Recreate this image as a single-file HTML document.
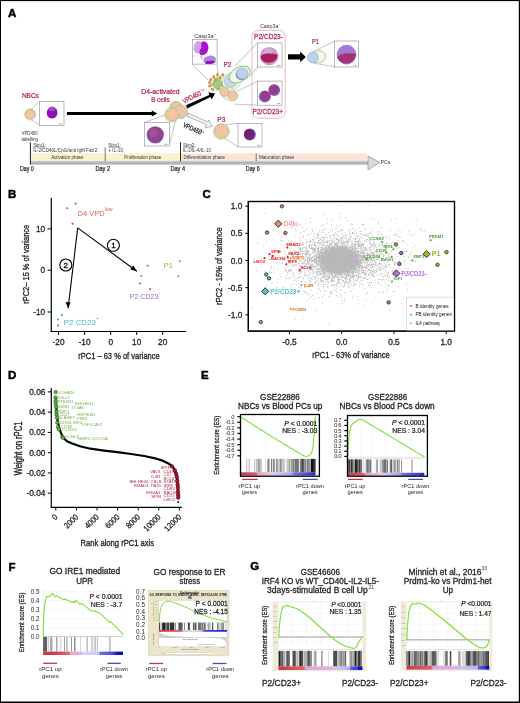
<!DOCTYPE html>
<html><head><meta charset="utf-8"><style>
html,body{margin:0;padding:0;background:#fff;}
svg{display:block;will-change:transform;}
text{font-family:"Liberation Sans", sans-serif;}
</style></head><body>
<svg width="520" height="703" viewBox="0 0 520 703">

<text x="8.00" y="17.00" font-size="11.5" fill="#000" font-weight="bold" stroke="#000" stroke-width="0.45">A</text>
<text x="8.00" y="198.30" font-size="11.5" fill="#000" font-weight="bold" stroke="#000" stroke-width="0.45">B</text>
<text x="202.50" y="198.30" font-size="11.5" fill="#000" font-weight="bold" stroke="#000" stroke-width="0.45">C</text>
<text x="8.00" y="378.70" font-size="11.5" fill="#000" font-weight="bold" stroke="#000" stroke-width="0.45">D</text>
<text x="201.00" y="378.70" font-size="11.5" fill="#000" font-weight="bold" stroke="#000" stroke-width="0.45">E</text>
<text x="8.50" y="570.50" font-size="11.5" fill="#000" font-weight="bold" stroke="#000" stroke-width="0.45">F</text>
<text x="250.20" y="570.00" font-size="11.5" fill="#000" font-weight="bold" stroke="#000" stroke-width="0.45">G</text>
<line x1="51.30" y1="197.70" x2="51.30" y2="332.10" stroke="#000" stroke-width="1.2"/>
<line x1="50.70" y1="331.50" x2="186.20" y2="331.50" stroke="#000" stroke-width="1.2"/>
<line x1="47.60" y1="228.90" x2="51.30" y2="228.90" stroke="#000" stroke-width="1"/>
<text x="45.20" y="231.90" font-size="8.3" fill="#231f20" stroke="#231f20" stroke-width="0.291" text-anchor="end">10</text>
<line x1="47.60" y1="270.20" x2="51.30" y2="270.20" stroke="#000" stroke-width="1"/>
<text x="45.20" y="273.20" font-size="8.3" fill="#231f20" stroke="#231f20" stroke-width="0.291" text-anchor="end">0</text>
<line x1="47.60" y1="312.00" x2="51.30" y2="312.00" stroke="#000" stroke-width="1"/>
<text x="45.20" y="315.00" font-size="8.3" fill="#231f20" stroke="#231f20" stroke-width="0.291" text-anchor="end">-10</text>
<line x1="58.50" y1="331.50" x2="58.50" y2="335.00" stroke="#000" stroke-width="1"/>
<text x="58.50" y="344.60" font-size="8.3" fill="#231f20" stroke="#231f20" stroke-width="0.291" text-anchor="middle">-20</text>
<line x1="84.60" y1="331.50" x2="84.60" y2="335.00" stroke="#000" stroke-width="1"/>
<text x="84.60" y="344.60" font-size="8.3" fill="#231f20" stroke="#231f20" stroke-width="0.291" text-anchor="middle">-10</text>
<line x1="110.70" y1="331.50" x2="110.70" y2="335.00" stroke="#000" stroke-width="1"/>
<text x="110.70" y="344.60" font-size="8.3" fill="#231f20" stroke="#231f20" stroke-width="0.291" text-anchor="middle">0</text>
<line x1="136.70" y1="331.50" x2="136.70" y2="335.00" stroke="#000" stroke-width="1"/>
<text x="136.70" y="344.60" font-size="8.3" fill="#231f20" stroke="#231f20" stroke-width="0.291" text-anchor="middle">10</text>
<line x1="162.70" y1="331.50" x2="162.70" y2="335.00" stroke="#000" stroke-width="1"/>
<text x="162.70" y="344.60" font-size="8.3" fill="#231f20" stroke="#231f20" stroke-width="0.291" text-anchor="middle">20</text>
<text x="78.20" y="358.50" font-size="9.4" fill="#231f20" stroke="#231f20" stroke-width="0.329" textLength="81.50" lengthAdjust="spacingAndGlyphs">rPC1 – 63 % of variance</text>
<text x="28.90" y="303.80" font-size="9.2" fill="#231f20" stroke="#231f20" stroke-width="0.322" textLength="79.00" lengthAdjust="spacingAndGlyphs" transform="rotate(-90 28.90 303.80)">rPC2– 15 % of variance</text>
<circle cx="67.30" cy="208.30" r="1.05" fill="#d04848" stroke="none" stroke-width="1"/>
<circle cx="75.60" cy="203.60" r="1.05" fill="#d04848" stroke="none" stroke-width="1"/>
<circle cx="72.50" cy="223.80" r="1.05" fill="#d04848" stroke="none" stroke-width="1"/>
<circle cx="147.70" cy="265.80" r="1.05" fill="#9b59b6" stroke="none" stroke-width="1"/>
<circle cx="140.00" cy="283.50" r="1.05" fill="#9b59b6" stroke="none" stroke-width="1"/>
<circle cx="150.00" cy="289.00" r="1.05" fill="#9b59b6" stroke="none" stroke-width="1"/>
<circle cx="141.30" cy="275.80" r="1.05" fill="#7ea829" stroke="none" stroke-width="1"/>
<circle cx="179.80" cy="261.20" r="1.05" fill="#7ea829" stroke="none" stroke-width="1"/>
<circle cx="178.30" cy="276.20" r="1.05" fill="#7ea829" stroke="none" stroke-width="1"/>
<circle cx="61.80" cy="314.90" r="1.05" fill="#3aa6b0" stroke="none" stroke-width="1"/>
<circle cx="58.00" cy="319.50" r="1.05" fill="#3aa6b0" stroke="none" stroke-width="1"/>
<circle cx="58.00" cy="325.40" r="1.05" fill="#3aa6b0" stroke="none" stroke-width="1"/>
<text x="77.70" y="216.00" font-size="8.0" fill="#d86060" textLength="26.90" lengthAdjust="spacingAndGlyphs">D4 VPD</text>
<text x="104.80" y="211.20" font-size="5.2" fill="#d86060">low</text>
<text x="163.80" y="267.50" font-size="8.0" fill="#94b848" textLength="8.90" lengthAdjust="spacingAndGlyphs">P1</text>
<text x="129.80" y="298.60" font-size="8.0" fill="#9b6bbf" textLength="28.50" lengthAdjust="spacingAndGlyphs">P2 CD23</text>
<text x="158.50" y="294.50" font-size="5" fill="#9b6bbf">-</text>
<text x="63.80" y="324.60" font-size="8.0" fill="#4fb3bd" textLength="32.00" lengthAdjust="spacingAndGlyphs">P2 CD23</text>
<text x="96.00" y="320.00" font-size="5" fill="#4fb3bd">+</text>
<line x1="77.70" y1="227.90" x2="136.90" y2="271.30" stroke="#000" stroke-width="1.1"/>
<path d="M136.9,271.3 L130.3,269.6 L133.2,265.6 Z" fill="#000" stroke="none" stroke-width="1"/>
<line x1="77.70" y1="227.90" x2="68.10" y2="308.30" stroke="#000" stroke-width="1.1"/>
<path d="M68.1,308.3 L65.6,301.9 L70.5,302.5 Z" fill="#000" stroke="none" stroke-width="1"/>
<circle cx="113.40" cy="245.30" r="6.00" fill="#fff" stroke="#000" stroke-width="1.1"/>
<text x="113.40" y="248.30" font-size="8" fill="#000" stroke="#000" stroke-width="0.280" text-anchor="middle">1</text>
<circle cx="65.80" cy="265.00" r="6.00" fill="#fff" stroke="#000" stroke-width="1.1"/>
<text x="65.80" y="268.00" font-size="8" fill="#000" stroke="#000" stroke-width="0.280" text-anchor="middle">2</text>
<defs><radialGradient id="core"><stop offset="0" stop-color="#bebebe"/><stop offset="0.72" stop-color="#c0c0c0"/><stop offset="1" stop-color="#c6c6c6" stop-opacity="0"/></radialGradient></defs>
<ellipse cx="339.50" cy="260.20" rx="25.00" ry="16.50" fill="url(#core)" stroke="none" stroke-width="1" transform="rotate(0 339.50 260.20)"/>
<path fill="#b6b6b6" d="M317.5 264.0h.9v.9h-.9zM357.4 254.6h.9v.9h-.9zM315.6 259.3h.9v.9h-.9zM348.1 271.5h.9v.9h-.9zM317.6 246.4h.9v.9h-.9zM352.2 265.0h.9v.9h-.9zM367.1 270.3h.9v.9h-.9zM337.7 257.1h.9v.9h-.9zM385.8 257.0h.9v.9h-.9zM325.4 248.0h.9v.9h-.9zM341.2 261.5h.9v.9h-.9zM333.3 259.3h.9v.9h-.9zM344.4 267.3h.9v.9h-.9zM359.2 262.2h.9v.9h-.9zM307.3 267.4h.9v.9h-.9zM313.9 258.2h.9v.9h-.9zM313.0 260.0h.9v.9h-.9zM325.5 262.2h.9v.9h-.9zM398.9 259.5h.9v.9h-.9zM354.7 246.1h.9v.9h-.9zM334.3 267.0h.9v.9h-.9zM337.8 263.9h.9v.9h-.9zM341.4 249.4h.9v.9h-.9zM349.6 251.5h.9v.9h-.9zM373.2 254.7h.9v.9h-.9zM351.8 260.0h.9v.9h-.9zM356.6 253.7h.9v.9h-.9zM357.5 258.7h.9v.9h-.9zM362.2 266.6h.9v.9h-.9zM342.0 251.8h.9v.9h-.9zM353.3 264.9h.9v.9h-.9zM369.1 256.0h.9v.9h-.9zM349.5 265.3h.9v.9h-.9zM344.6 262.2h.9v.9h-.9zM342.8 253.7h.9v.9h-.9zM321.2 255.8h.9v.9h-.9zM350.1 275.9h.9v.9h-.9zM357.1 271.1h.9v.9h-.9zM353.5 267.3h.9v.9h-.9zM342.8 268.1h.9v.9h-.9zM371.4 256.6h.9v.9h-.9zM327.0 280.6h.9v.9h-.9zM343.9 270.2h.9v.9h-.9zM355.2 248.1h.9v.9h-.9zM383.3 278.6h.9v.9h-.9zM342.7 267.9h.9v.9h-.9zM341.8 250.7h.9v.9h-.9zM337.5 263.9h.9v.9h-.9zM359.6 267.4h.9v.9h-.9zM340.6 274.2h.9v.9h-.9zM325.8 268.3h.9v.9h-.9zM359.5 256.9h.9v.9h-.9zM307.3 250.5h.9v.9h-.9zM343.8 265.5h.9v.9h-.9zM367.4 249.5h.9v.9h-.9zM339.5 266.8h.9v.9h-.9zM336.7 235.1h.9v.9h-.9zM354.0 284.3h.9v.9h-.9zM357.6 250.4h.9v.9h-.9zM332.1 262.3h.9v.9h-.9zM384.3 266.5h.9v.9h-.9zM341.5 276.4h.9v.9h-.9zM338.0 279.5h.9v.9h-.9zM327.2 255.0h.9v.9h-.9zM352.5 275.0h.9v.9h-.9zM351.3 263.2h.9v.9h-.9zM306.7 252.5h.9v.9h-.9zM328.5 254.4h.9v.9h-.9zM350.1 256.5h.9v.9h-.9zM353.7 260.9h.9v.9h-.9zM333.5 261.2h.9v.9h-.9zM347.2 269.0h.9v.9h-.9zM330.9 257.6h.9v.9h-.9zM315.0 276.8h.9v.9h-.9zM365.6 258.1h.9v.9h-.9zM330.9 247.0h.9v.9h-.9zM342.6 262.2h.9v.9h-.9zM378.8 262.6h.9v.9h-.9zM325.5 234.3h.9v.9h-.9zM364.9 262.0h.9v.9h-.9zM310.5 261.9h.9v.9h-.9zM310.5 296.5h.9v.9h-.9zM359.6 266.0h.9v.9h-.9zM336.3 237.5h.9v.9h-.9zM337.2 243.7h.9v.9h-.9zM350.2 237.5h.9v.9h-.9zM323.2 272.8h.9v.9h-.9zM369.1 247.6h.9v.9h-.9zM311.9 269.2h.9v.9h-.9zM354.9 249.6h.9v.9h-.9zM327.0 252.7h.9v.9h-.9zM318.1 252.9h.9v.9h-.9zM362.0 267.2h.9v.9h-.9zM376.5 259.1h.9v.9h-.9zM337.1 249.7h.9v.9h-.9zM337.3 246.2h.9v.9h-.9zM307.5 267.3h.9v.9h-.9zM365.4 268.8h.9v.9h-.9zM363.5 262.6h.9v.9h-.9zM326.6 260.9h.9v.9h-.9zM332.8 248.3h.9v.9h-.9zM309.0 244.4h.9v.9h-.9zM339.4 261.6h.9v.9h-.9zM331.0 275.0h.9v.9h-.9zM342.7 266.1h.9v.9h-.9zM361.4 251.4h.9v.9h-.9zM304.0 267.9h.9v.9h-.9zM327.1 273.8h.9v.9h-.9zM345.6 270.6h.9v.9h-.9zM353.2 238.2h.9v.9h-.9zM352.4 252.9h.9v.9h-.9zM325.9 255.4h.9v.9h-.9zM353.3 269.3h.9v.9h-.9zM357.7 242.6h.9v.9h-.9zM328.9 235.1h.9v.9h-.9zM337.7 266.3h.9v.9h-.9zM325.7 262.6h.9v.9h-.9zM343.7 270.6h.9v.9h-.9zM324.7 251.3h.9v.9h-.9zM325.8 278.4h.9v.9h-.9zM359.1 258.7h.9v.9h-.9zM343.6 261.2h.9v.9h-.9zM343.2 257.8h.9v.9h-.9zM333.5 246.8h.9v.9h-.9zM327.9 277.3h.9v.9h-.9zM349.2 260.7h.9v.9h-.9zM335.6 260.7h.9v.9h-.9zM345.9 253.2h.9v.9h-.9zM343.0 262.5h.9v.9h-.9zM326.0 251.7h.9v.9h-.9zM321.5 248.8h.9v.9h-.9zM355.5 235.2h.9v.9h-.9zM334.7 253.6h.9v.9h-.9zM328.3 261.0h.9v.9h-.9zM359.8 260.8h.9v.9h-.9zM337.0 253.6h.9v.9h-.9zM337.2 269.6h.9v.9h-.9zM332.4 248.0h.9v.9h-.9zM316.7 248.4h.9v.9h-.9zM314.5 271.5h.9v.9h-.9zM345.9 257.5h.9v.9h-.9zM365.8 253.1h.9v.9h-.9zM353.1 268.4h.9v.9h-.9zM311.7 243.7h.9v.9h-.9zM322.8 269.5h.9v.9h-.9zM362.8 247.1h.9v.9h-.9zM358.4 256.0h.9v.9h-.9zM332.4 254.2h.9v.9h-.9zM333.7 240.9h.9v.9h-.9zM321.5 247.0h.9v.9h-.9zM348.3 281.9h.9v.9h-.9zM388.7 256.5h.9v.9h-.9zM308.5 255.7h.9v.9h-.9zM322.6 280.8h.9v.9h-.9zM349.8 252.3h.9v.9h-.9zM356.3 265.6h.9v.9h-.9zM310.2 254.4h.9v.9h-.9zM335.2 260.2h.9v.9h-.9zM341.9 256.4h.9v.9h-.9zM342.9 253.8h.9v.9h-.9zM323.4 275.9h.9v.9h-.9zM346.0 264.6h.9v.9h-.9zM310.8 258.3h.9v.9h-.9zM354.2 246.4h.9v.9h-.9zM359.3 255.9h.9v.9h-.9zM346.7 258.6h.9v.9h-.9zM343.4 272.6h.9v.9h-.9zM332.2 276.4h.9v.9h-.9zM325.4 250.2h.9v.9h-.9zM352.3 248.8h.9v.9h-.9zM332.8 269.5h.9v.9h-.9zM361.3 241.4h.9v.9h-.9zM348.6 279.8h.9v.9h-.9zM361.0 257.5h.9v.9h-.9zM328.7 256.9h.9v.9h-.9zM318.7 257.2h.9v.9h-.9zM336.1 258.5h.9v.9h-.9zM360.8 257.6h.9v.9h-.9zM313.3 271.0h.9v.9h-.9zM320.2 255.3h.9v.9h-.9zM337.1 256.4h.9v.9h-.9zM321.4 257.4h.9v.9h-.9zM378.8 253.6h.9v.9h-.9zM337.0 271.8h.9v.9h-.9zM352.9 268.0h.9v.9h-.9zM355.0 239.3h.9v.9h-.9zM323.9 261.3h.9v.9h-.9zM348.5 273.6h.9v.9h-.9zM348.0 257.5h.9v.9h-.9zM340.2 257.8h.9v.9h-.9zM343.9 267.1h.9v.9h-.9zM333.4 251.5h.9v.9h-.9zM324.1 271.5h.9v.9h-.9zM362.6 270.4h.9v.9h-.9zM354.9 268.7h.9v.9h-.9zM339.5 267.0h.9v.9h-.9zM320.6 257.9h.9v.9h-.9zM326.3 267.6h.9v.9h-.9zM329.1 258.9h.9v.9h-.9zM346.7 274.2h.9v.9h-.9zM325.2 250.1h.9v.9h-.9zM354.2 248.4h.9v.9h-.9zM347.6 254.0h.9v.9h-.9zM337.6 240.9h.9v.9h-.9zM352.3 254.7h.9v.9h-.9zM323.3 281.8h.9v.9h-.9zM352.3 296.8h.9v.9h-.9zM346.8 256.3h.9v.9h-.9zM341.4 276.9h.9v.9h-.9zM339.0 264.7h.9v.9h-.9zM348.8 250.4h.9v.9h-.9zM341.8 254.7h.9v.9h-.9zM317.1 269.2h.9v.9h-.9zM351.5 260.8h.9v.9h-.9zM323.2 238.9h.9v.9h-.9zM348.2 259.0h.9v.9h-.9zM309.2 259.4h.9v.9h-.9zM312.1 259.7h.9v.9h-.9zM342.1 263.7h.9v.9h-.9zM343.4 261.8h.9v.9h-.9zM319.0 256.0h.9v.9h-.9zM330.3 257.5h.9v.9h-.9zM344.4 266.5h.9v.9h-.9zM368.9 233.0h.9v.9h-.9zM346.7 257.9h.9v.9h-.9zM380.5 269.8h.9v.9h-.9zM309.7 264.2h.9v.9h-.9zM330.1 270.4h.9v.9h-.9zM320.5 258.9h.9v.9h-.9zM337.1 259.0h.9v.9h-.9zM329.0 240.7h.9v.9h-.9zM347.8 270.5h.9v.9h-.9zM338.3 249.3h.9v.9h-.9zM343.2 265.9h.9v.9h-.9zM336.3 259.9h.9v.9h-.9zM364.9 248.3h.9v.9h-.9zM329.5 240.0h.9v.9h-.9zM326.9 252.2h.9v.9h-.9zM322.2 252.7h.9v.9h-.9zM371.8 257.9h.9v.9h-.9zM337.4 283.1h.9v.9h-.9zM338.4 241.8h.9v.9h-.9zM346.8 250.2h.9v.9h-.9zM369.0 246.9h.9v.9h-.9zM329.1 243.1h.9v.9h-.9zM341.3 249.3h.9v.9h-.9zM338.3 256.0h.9v.9h-.9zM328.5 269.9h.9v.9h-.9zM356.3 260.7h.9v.9h-.9zM323.3 248.8h.9v.9h-.9zM344.4 285.1h.9v.9h-.9zM331.3 251.8h.9v.9h-.9zM326.9 248.5h.9v.9h-.9zM322.0 257.8h.9v.9h-.9zM365.3 260.0h.9v.9h-.9zM330.3 243.0h.9v.9h-.9zM343.3 259.7h.9v.9h-.9zM317.4 248.6h.9v.9h-.9zM338.7 270.6h.9v.9h-.9zM350.8 262.2h.9v.9h-.9zM333.7 263.4h.9v.9h-.9zM339.3 282.8h.9v.9h-.9zM319.1 256.1h.9v.9h-.9zM362.3 257.2h.9v.9h-.9zM365.1 259.5h.9v.9h-.9zM342.1 256.1h.9v.9h-.9zM314.7 249.8h.9v.9h-.9zM379.4 266.8h.9v.9h-.9zM350.4 270.0h.9v.9h-.9zM349.7 270.7h.9v.9h-.9zM334.7 257.7h.9v.9h-.9zM357.2 256.3h.9v.9h-.9zM315.5 257.6h.9v.9h-.9zM329.7 266.4h.9v.9h-.9zM326.5 248.9h.9v.9h-.9zM333.5 276.3h.9v.9h-.9zM338.6 261.7h.9v.9h-.9zM339.7 263.1h.9v.9h-.9zM356.2 274.7h.9v.9h-.9zM309.9 274.3h.9v.9h-.9zM339.4 256.6h.9v.9h-.9zM382.7 258.2h.9v.9h-.9zM374.5 270.2h.9v.9h-.9zM321.0 265.1h.9v.9h-.9zM352.8 258.7h.9v.9h-.9zM297.6 256.4h.9v.9h-.9zM336.1 248.4h.9v.9h-.9zM372.4 257.4h.9v.9h-.9zM332.4 256.9h.9v.9h-.9zM325.4 251.8h.9v.9h-.9zM341.2 263.3h.9v.9h-.9zM330.4 259.0h.9v.9h-.9zM314.5 265.5h.9v.9h-.9zM326.0 262.3h.9v.9h-.9zM323.2 254.6h.9v.9h-.9zM343.4 247.3h.9v.9h-.9zM384.0 259.6h.9v.9h-.9zM338.2 252.3h.9v.9h-.9zM368.2 274.6h.9v.9h-.9zM344.9 245.6h.9v.9h-.9zM330.4 266.5h.9v.9h-.9zM330.3 247.6h.9v.9h-.9zM318.1 251.9h.9v.9h-.9zM339.7 253.2h.9v.9h-.9zM339.8 289.3h.9v.9h-.9zM371.4 249.1h.9v.9h-.9zM345.7 260.9h.9v.9h-.9zM337.0 271.0h.9v.9h-.9zM333.5 256.6h.9v.9h-.9zM332.8 258.9h.9v.9h-.9zM362.6 268.2h.9v.9h-.9zM315.4 255.4h.9v.9h-.9zM325.1 268.6h.9v.9h-.9zM343.5 269.3h.9v.9h-.9zM338.4 240.0h.9v.9h-.9zM347.6 262.4h.9v.9h-.9zM348.6 246.3h.9v.9h-.9zM341.0 252.8h.9v.9h-.9zM327.1 263.7h.9v.9h-.9zM345.8 250.6h.9v.9h-.9zM308.7 234.0h.9v.9h-.9zM329.1 271.8h.9v.9h-.9zM338.5 236.4h.9v.9h-.9zM324.0 264.4h.9v.9h-.9zM369.6 272.3h.9v.9h-.9zM346.1 262.1h.9v.9h-.9zM320.4 255.3h.9v.9h-.9zM333.5 251.9h.9v.9h-.9zM340.6 255.9h.9v.9h-.9zM345.6 275.1h.9v.9h-.9zM352.8 264.4h.9v.9h-.9zM335.2 244.0h.9v.9h-.9zM337.4 265.7h.9v.9h-.9zM321.3 273.2h.9v.9h-.9zM333.5 263.9h.9v.9h-.9zM333.6 246.8h.9v.9h-.9zM376.7 247.8h.9v.9h-.9zM356.0 254.2h.9v.9h-.9zM344.5 251.5h.9v.9h-.9zM332.0 269.7h.9v.9h-.9zM374.5 251.1h.9v.9h-.9zM339.7 269.9h.9v.9h-.9zM328.1 267.5h.9v.9h-.9zM325.4 266.3h.9v.9h-.9zM347.4 272.7h.9v.9h-.9zM346.0 247.5h.9v.9h-.9zM351.5 248.4h.9v.9h-.9zM353.0 275.9h.9v.9h-.9zM350.2 254.2h.9v.9h-.9zM361.0 261.8h.9v.9h-.9zM317.1 256.3h.9v.9h-.9zM365.0 256.8h.9v.9h-.9zM341.7 256.4h.9v.9h-.9zM309.2 254.6h.9v.9h-.9zM345.9 262.2h.9v.9h-.9zM336.4 237.6h.9v.9h-.9zM361.5 267.6h.9v.9h-.9zM357.9 273.7h.9v.9h-.9zM331.5 253.7h.9v.9h-.9zM345.2 277.6h.9v.9h-.9zM309.2 257.6h.9v.9h-.9zM326.6 265.9h.9v.9h-.9zM365.9 256.9h.9v.9h-.9zM317.2 260.5h.9v.9h-.9zM334.4 243.8h.9v.9h-.9zM355.4 254.5h.9v.9h-.9zM351.8 246.2h.9v.9h-.9zM359.2 244.9h.9v.9h-.9zM358.5 241.0h.9v.9h-.9zM364.3 256.1h.9v.9h-.9zM311.5 257.5h.9v.9h-.9zM345.6 249.6h.9v.9h-.9zM330.6 262.8h.9v.9h-.9zM336.5 227.8h.9v.9h-.9zM331.8 264.5h.9v.9h-.9zM344.9 270.6h.9v.9h-.9zM327.1 286.8h.9v.9h-.9zM353.9 263.3h.9v.9h-.9zM359.0 270.0h.9v.9h-.9zM341.3 253.5h.9v.9h-.9zM357.9 264.4h.9v.9h-.9zM305.4 248.4h.9v.9h-.9zM347.9 261.1h.9v.9h-.9zM344.5 266.7h.9v.9h-.9zM342.1 276.6h.9v.9h-.9zM328.9 255.8h.9v.9h-.9zM345.3 267.8h.9v.9h-.9zM353.7 275.6h.9v.9h-.9zM330.9 272.3h.9v.9h-.9zM347.9 249.1h.9v.9h-.9zM337.0 281.9h.9v.9h-.9zM353.6 255.1h.9v.9h-.9zM296.3 252.3h.9v.9h-.9zM326.9 260.8h.9v.9h-.9zM381.1 267.8h.9v.9h-.9zM345.1 250.2h.9v.9h-.9zM318.1 257.8h.9v.9h-.9zM331.1 291.6h.9v.9h-.9zM332.2 253.5h.9v.9h-.9zM359.8 260.8h.9v.9h-.9zM317.3 273.5h.9v.9h-.9zM333.9 246.0h.9v.9h-.9zM345.3 265.1h.9v.9h-.9zM333.4 267.3h.9v.9h-.9zM354.3 250.7h.9v.9h-.9zM302.5 234.9h.9v.9h-.9zM337.2 272.9h.9v.9h-.9zM357.5 274.6h.9v.9h-.9zM372.9 260.2h.9v.9h-.9zM358.5 243.9h.9v.9h-.9zM351.9 264.1h.9v.9h-.9zM337.8 255.4h.9v.9h-.9zM319.4 261.5h.9v.9h-.9zM362.5 256.1h.9v.9h-.9zM349.1 253.0h.9v.9h-.9zM344.1 249.4h.9v.9h-.9zM346.3 257.7h.9v.9h-.9zM345.2 253.6h.9v.9h-.9zM318.3 256.5h.9v.9h-.9zM358.2 276.6h.9v.9h-.9zM333.7 268.4h.9v.9h-.9zM353.2 264.1h.9v.9h-.9zM311.6 263.4h.9v.9h-.9zM322.0 272.4h.9v.9h-.9zM353.7 266.5h.9v.9h-.9zM293.9 266.5h.9v.9h-.9zM352.1 246.6h.9v.9h-.9zM357.0 260.8h.9v.9h-.9zM336.2 252.5h.9v.9h-.9zM321.2 255.4h.9v.9h-.9zM395.0 262.1h.9v.9h-.9zM343.2 253.2h.9v.9h-.9zM328.4 254.2h.9v.9h-.9zM323.5 269.2h.9v.9h-.9zM334.6 269.1h.9v.9h-.9zM318.7 269.8h.9v.9h-.9zM339.0 267.0h.9v.9h-.9zM337.6 250.7h.9v.9h-.9zM361.3 255.4h.9v.9h-.9zM336.9 250.7h.9v.9h-.9zM343.2 255.9h.9v.9h-.9zM344.6 263.6h.9v.9h-.9zM327.1 245.2h.9v.9h-.9zM347.3 269.6h.9v.9h-.9zM352.0 248.0h.9v.9h-.9zM350.4 264.0h.9v.9h-.9zM344.6 264.5h.9v.9h-.9zM333.7 262.3h.9v.9h-.9zM356.2 254.7h.9v.9h-.9zM313.6 258.9h.9v.9h-.9zM343.0 240.6h.9v.9h-.9zM327.3 266.2h.9v.9h-.9zM336.8 261.0h.9v.9h-.9zM316.8 269.5h.9v.9h-.9zM371.1 257.9h.9v.9h-.9zM326.3 247.8h.9v.9h-.9zM355.5 261.1h.9v.9h-.9zM325.2 272.7h.9v.9h-.9zM353.3 266.3h.9v.9h-.9zM307.8 258.9h.9v.9h-.9zM350.8 247.1h.9v.9h-.9zM356.2 275.0h.9v.9h-.9zM358.1 252.4h.9v.9h-.9zM326.8 269.9h.9v.9h-.9zM357.4 272.9h.9v.9h-.9zM361.1 259.0h.9v.9h-.9zM332.1 240.5h.9v.9h-.9zM353.6 283.9h.9v.9h-.9zM331.2 255.0h.9v.9h-.9zM351.2 263.9h.9v.9h-.9zM314.8 252.5h.9v.9h-.9zM319.7 281.2h.9v.9h-.9zM326.6 269.0h.9v.9h-.9zM374.0 279.9h.9v.9h-.9zM365.2 277.1h.9v.9h-.9zM317.3 256.4h.9v.9h-.9zM326.4 257.0h.9v.9h-.9zM386.7 242.4h.9v.9h-.9zM349.5 247.0h.9v.9h-.9zM363.6 273.6h.9v.9h-.9zM330.3 281.7h.9v.9h-.9zM340.8 273.7h.9v.9h-.9zM345.1 254.1h.9v.9h-.9zM332.7 258.8h.9v.9h-.9zM350.6 261.3h.9v.9h-.9zM382.0 258.0h.9v.9h-.9zM331.1 252.4h.9v.9h-.9zM325.5 244.9h.9v.9h-.9zM321.8 269.5h.9v.9h-.9zM340.6 258.2h.9v.9h-.9zM345.8 271.2h.9v.9h-.9zM350.6 268.1h.9v.9h-.9zM329.4 257.3h.9v.9h-.9zM325.5 259.0h.9v.9h-.9zM324.8 256.1h.9v.9h-.9zM336.4 257.7h.9v.9h-.9zM334.7 254.8h.9v.9h-.9zM363.1 256.4h.9v.9h-.9zM321.3 262.0h.9v.9h-.9zM319.9 248.7h.9v.9h-.9zM341.0 242.5h.9v.9h-.9zM281.5 263.0h.9v.9h-.9zM358.1 242.5h.9v.9h-.9zM323.3 266.1h.9v.9h-.9zM303.7 250.8h.9v.9h-.9zM317.8 257.9h.9v.9h-.9zM304.0 269.4h.9v.9h-.9zM336.9 263.2h.9v.9h-.9zM333.6 237.7h.9v.9h-.9zM336.8 245.9h.9v.9h-.9zM339.7 251.0h.9v.9h-.9zM333.8 257.8h.9v.9h-.9zM353.4 268.1h.9v.9h-.9zM321.4 259.8h.9v.9h-.9zM365.8 265.2h.9v.9h-.9zM326.4 258.7h.9v.9h-.9zM333.2 269.9h.9v.9h-.9zM340.1 263.9h.9v.9h-.9zM379.3 245.5h.9v.9h-.9zM321.2 241.8h.9v.9h-.9zM310.8 269.0h.9v.9h-.9zM344.8 277.1h.9v.9h-.9zM304.0 250.7h.9v.9h-.9zM365.5 270.8h.9v.9h-.9zM355.4 269.2h.9v.9h-.9zM340.1 259.9h.9v.9h-.9zM340.1 268.8h.9v.9h-.9zM336.6 263.4h.9v.9h-.9zM365.7 248.2h.9v.9h-.9zM326.0 265.9h.9v.9h-.9zM334.8 258.4h.9v.9h-.9zM377.3 264.4h.9v.9h-.9zM332.0 271.5h.9v.9h-.9zM384.8 248.4h.9v.9h-.9zM327.4 261.2h.9v.9h-.9zM328.1 282.8h.9v.9h-.9zM349.0 255.8h.9v.9h-.9zM348.3 251.6h.9v.9h-.9zM328.6 261.1h.9v.9h-.9zM382.5 236.4h.9v.9h-.9zM347.1 274.2h.9v.9h-.9zM352.8 280.2h.9v.9h-.9zM347.6 261.5h.9v.9h-.9zM337.1 251.0h.9v.9h-.9zM368.9 247.6h.9v.9h-.9zM337.3 254.5h.9v.9h-.9zM325.4 236.7h.9v.9h-.9zM332.6 261.4h.9v.9h-.9zM342.1 268.9h.9v.9h-.9zM336.6 253.3h.9v.9h-.9zM345.0 267.0h.9v.9h-.9zM323.2 244.0h.9v.9h-.9zM321.0 271.1h.9v.9h-.9zM357.5 250.7h.9v.9h-.9zM341.5 268.8h.9v.9h-.9zM363.4 253.1h.9v.9h-.9zM335.2 274.8h.9v.9h-.9zM382.9 276.1h.9v.9h-.9zM319.0 264.7h.9v.9h-.9zM334.1 259.4h.9v.9h-.9zM327.6 255.0h.9v.9h-.9zM339.3 278.9h.9v.9h-.9zM352.1 264.5h.9v.9h-.9zM340.0 252.1h.9v.9h-.9zM335.4 273.0h.9v.9h-.9zM354.4 280.6h.9v.9h-.9zM344.2 259.8h.9v.9h-.9zM310.4 264.2h.9v.9h-.9zM308.5 276.0h.9v.9h-.9zM328.2 260.0h.9v.9h-.9zM315.2 254.8h.9v.9h-.9zM322.7 271.9h.9v.9h-.9zM344.0 247.6h.9v.9h-.9zM304.7 259.3h.9v.9h-.9zM330.7 248.3h.9v.9h-.9zM350.1 258.1h.9v.9h-.9zM341.5 253.8h.9v.9h-.9zM329.2 255.2h.9v.9h-.9zM310.6 266.6h.9v.9h-.9zM346.8 241.9h.9v.9h-.9zM341.3 272.1h.9v.9h-.9zM343.8 273.6h.9v.9h-.9zM334.7 260.0h.9v.9h-.9zM316.1 250.5h.9v.9h-.9zM306.7 250.6h.9v.9h-.9zM343.9 265.5h.9v.9h-.9zM360.4 261.4h.9v.9h-.9zM321.7 264.5h.9v.9h-.9zM336.9 278.7h.9v.9h-.9zM374.8 270.1h.9v.9h-.9zM319.0 254.5h.9v.9h-.9zM342.9 252.5h.9v.9h-.9zM348.9 267.2h.9v.9h-.9zM354.6 262.4h.9v.9h-.9zM323.6 251.2h.9v.9h-.9zM337.3 273.9h.9v.9h-.9zM367.8 270.3h.9v.9h-.9zM346.0 267.1h.9v.9h-.9zM354.3 273.6h.9v.9h-.9zM354.9 243.9h.9v.9h-.9zM356.7 264.0h.9v.9h-.9zM331.2 265.5h.9v.9h-.9zM344.7 259.4h.9v.9h-.9zM309.1 261.2h.9v.9h-.9zM349.5 259.5h.9v.9h-.9zM310.9 264.8h.9v.9h-.9zM352.5 261.9h.9v.9h-.9zM347.2 256.3h.9v.9h-.9zM327.7 265.5h.9v.9h-.9zM333.1 261.9h.9v.9h-.9zM398.1 267.5h.9v.9h-.9zM341.9 243.0h.9v.9h-.9zM341.2 268.0h.9v.9h-.9zM326.8 257.5h.9v.9h-.9zM298.9 265.8h.9v.9h-.9zM328.8 267.2h.9v.9h-.9zM364.1 258.3h.9v.9h-.9zM357.2 262.6h.9v.9h-.9zM335.8 257.1h.9v.9h-.9zM324.2 273.5h.9v.9h-.9zM355.3 249.4h.9v.9h-.9zM354.7 252.3h.9v.9h-.9zM312.4 272.6h.9v.9h-.9zM316.5 272.4h.9v.9h-.9zM343.1 269.5h.9v.9h-.9zM348.7 272.1h.9v.9h-.9zM345.8 266.1h.9v.9h-.9zM344.0 271.5h.9v.9h-.9zM332.5 270.7h.9v.9h-.9zM366.6 259.3h.9v.9h-.9zM347.4 254.6h.9v.9h-.9zM334.3 262.7h.9v.9h-.9zM333.3 250.7h.9v.9h-.9zM339.0 262.0h.9v.9h-.9zM345.3 267.5h.9v.9h-.9zM307.6 274.8h.9v.9h-.9zM336.4 251.9h.9v.9h-.9zM332.8 264.6h.9v.9h-.9zM355.2 256.2h.9v.9h-.9zM342.3 243.2h.9v.9h-.9zM342.5 258.8h.9v.9h-.9zM331.7 269.3h.9v.9h-.9zM371.8 270.8h.9v.9h-.9zM325.4 276.0h.9v.9h-.9zM333.5 259.6h.9v.9h-.9zM329.1 264.8h.9v.9h-.9zM349.5 261.5h.9v.9h-.9zM335.7 258.5h.9v.9h-.9zM332.3 270.2h.9v.9h-.9zM330.1 258.5h.9v.9h-.9zM335.7 252.1h.9v.9h-.9zM335.4 244.6h.9v.9h-.9zM346.8 265.7h.9v.9h-.9zM334.1 276.3h.9v.9h-.9zM324.8 265.8h.9v.9h-.9zM348.1 254.4h.9v.9h-.9zM335.2 269.3h.9v.9h-.9zM340.6 263.0h.9v.9h-.9zM364.6 262.3h.9v.9h-.9zM309.5 252.3h.9v.9h-.9zM354.5 258.7h.9v.9h-.9zM320.2 239.3h.9v.9h-.9zM345.3 275.7h.9v.9h-.9zM317.1 237.3h.9v.9h-.9zM348.4 254.3h.9v.9h-.9zM334.2 256.6h.9v.9h-.9zM323.4 264.6h.9v.9h-.9zM356.0 263.8h.9v.9h-.9zM329.5 270.9h.9v.9h-.9zM337.5 266.1h.9v.9h-.9zM322.8 266.9h.9v.9h-.9zM352.8 273.5h.9v.9h-.9zM340.0 264.6h.9v.9h-.9zM329.2 269.2h.9v.9h-.9zM353.4 271.3h.9v.9h-.9zM332.6 247.3h.9v.9h-.9zM338.3 257.8h.9v.9h-.9zM326.2 266.3h.9v.9h-.9zM356.4 264.1h.9v.9h-.9zM359.3 264.1h.9v.9h-.9zM322.1 253.9h.9v.9h-.9zM333.2 267.1h.9v.9h-.9zM355.9 261.4h.9v.9h-.9zM357.6 251.5h.9v.9h-.9zM337.5 275.6h.9v.9h-.9zM347.4 270.9h.9v.9h-.9zM306.0 242.7h.9v.9h-.9zM324.2 270.5h.9v.9h-.9zM368.4 253.6h.9v.9h-.9zM322.0 249.5h.9v.9h-.9zM323.7 265.8h.9v.9h-.9zM334.0 279.5h.9v.9h-.9zM352.3 252.9h.9v.9h-.9zM343.7 258.4h.9v.9h-.9zM353.6 269.4h.9v.9h-.9zM333.4 269.3h.9v.9h-.9zM349.6 259.1h.9v.9h-.9zM344.1 267.1h.9v.9h-.9zM333.9 253.0h.9v.9h-.9zM362.1 260.1h.9v.9h-.9zM329.0 264.8h.9v.9h-.9zM313.4 260.6h.9v.9h-.9zM315.5 255.6h.9v.9h-.9zM308.0 252.6h.9v.9h-.9zM355.4 258.2h.9v.9h-.9zM318.1 278.0h.9v.9h-.9zM328.4 275.4h.9v.9h-.9zM330.3 244.9h.9v.9h-.9zM372.2 255.6h.9v.9h-.9zM353.0 272.3h.9v.9h-.9zM316.4 260.8h.9v.9h-.9zM329.4 266.3h.9v.9h-.9zM339.4 247.0h.9v.9h-.9zM340.6 267.9h.9v.9h-.9zM334.4 265.9h.9v.9h-.9zM330.2 259.5h.9v.9h-.9zM345.8 261.5h.9v.9h-.9zM362.0 269.8h.9v.9h-.9zM354.5 267.5h.9v.9h-.9zM342.4 248.1h.9v.9h-.9zM358.4 278.0h.9v.9h-.9zM343.6 257.5h.9v.9h-.9zM339.0 272.5h.9v.9h-.9zM344.7 250.0h.9v.9h-.9zM336.6 252.2h.9v.9h-.9zM336.1 250.9h.9v.9h-.9zM324.2 275.3h.9v.9h-.9zM358.1 243.5h.9v.9h-.9zM322.4 255.5h.9v.9h-.9zM332.8 245.9h.9v.9h-.9zM355.3 243.5h.9v.9h-.9zM351.9 267.2h.9v.9h-.9zM333.2 253.3h.9v.9h-.9zM340.7 261.6h.9v.9h-.9zM302.7 247.2h.9v.9h-.9zM349.0 259.0h.9v.9h-.9zM332.3 249.9h.9v.9h-.9zM327.2 252.2h.9v.9h-.9zM388.8 247.2h.9v.9h-.9zM366.6 265.0h.9v.9h-.9zM343.4 262.1h.9v.9h-.9zM332.9 276.6h.9v.9h-.9zM348.6 259.8h.9v.9h-.9zM337.5 262.1h.9v.9h-.9zM319.6 256.8h.9v.9h-.9zM328.7 266.4h.9v.9h-.9zM350.2 240.9h.9v.9h-.9zM335.7 270.2h.9v.9h-.9zM316.9 247.9h.9v.9h-.9zM357.3 258.8h.9v.9h-.9zM331.7 247.6h.9v.9h-.9zM342.6 254.4h.9v.9h-.9zM343.4 264.5h.9v.9h-.9zM352.0 256.8h.9v.9h-.9zM330.4 260.4h.9v.9h-.9zM337.9 261.9h.9v.9h-.9zM330.3 257.6h.9v.9h-.9zM329.3 254.0h.9v.9h-.9zM342.4 271.9h.9v.9h-.9zM330.2 266.1h.9v.9h-.9zM345.7 261.2h.9v.9h-.9zM351.6 254.4h.9v.9h-.9zM349.6 263.2h.9v.9h-.9zM278.2 263.7h.9v.9h-.9zM350.2 280.2h.9v.9h-.9zM321.0 261.1h.9v.9h-.9zM345.8 250.1h.9v.9h-.9zM360.8 264.7h.9v.9h-.9zM325.6 247.8h.9v.9h-.9zM332.3 284.5h.9v.9h-.9zM377.7 234.6h.9v.9h-.9zM307.6 266.9h.9v.9h-.9zM337.7 253.6h.9v.9h-.9zM350.3 261.1h.9v.9h-.9zM344.7 262.8h.9v.9h-.9zM320.5 273.6h.9v.9h-.9zM331.5 271.7h.9v.9h-.9zM351.8 260.5h.9v.9h-.9zM342.1 259.6h.9v.9h-.9zM307.2 256.7h.9v.9h-.9zM347.2 243.5h.9v.9h-.9zM313.3 271.2h.9v.9h-.9zM353.9 244.2h.9v.9h-.9zM347.8 259.6h.9v.9h-.9zM356.9 256.7h.9v.9h-.9zM335.7 252.3h.9v.9h-.9zM342.8 258.8h.9v.9h-.9zM328.1 256.5h.9v.9h-.9zM326.3 266.5h.9v.9h-.9zM321.4 244.0h.9v.9h-.9zM322.6 271.2h.9v.9h-.9zM330.6 266.7h.9v.9h-.9zM352.6 254.8h.9v.9h-.9zM353.0 265.3h.9v.9h-.9zM338.8 252.8h.9v.9h-.9zM338.5 246.8h.9v.9h-.9zM334.7 254.1h.9v.9h-.9zM347.4 263.6h.9v.9h-.9zM328.2 269.0h.9v.9h-.9zM360.7 260.7h.9v.9h-.9zM326.5 265.3h.9v.9h-.9zM296.3 254.0h.9v.9h-.9zM349.9 280.8h.9v.9h-.9zM326.5 275.9h.9v.9h-.9zM380.9 279.6h.9v.9h-.9zM297.7 271.4h.9v.9h-.9zM343.0 270.6h.9v.9h-.9zM336.4 253.7h.9v.9h-.9zM335.5 275.6h.9v.9h-.9zM354.5 257.0h.9v.9h-.9zM346.4 269.0h.9v.9h-.9zM349.7 259.6h.9v.9h-.9zM327.9 252.3h.9v.9h-.9zM331.8 254.3h.9v.9h-.9zM311.5 245.4h.9v.9h-.9zM355.2 248.4h.9v.9h-.9zM316.2 259.6h.9v.9h-.9zM365.4 273.2h.9v.9h-.9zM332.2 249.3h.9v.9h-.9zM330.0 250.6h.9v.9h-.9zM329.8 265.0h.9v.9h-.9zM320.6 251.9h.9v.9h-.9zM334.9 259.7h.9v.9h-.9zM325.9 251.8h.9v.9h-.9zM319.4 252.2h.9v.9h-.9zM348.9 257.5h.9v.9h-.9zM284.0 266.5h.9v.9h-.9zM338.3 250.9h.9v.9h-.9zM335.0 228.4h.9v.9h-.9zM309.9 272.2h.9v.9h-.9zM377.7 282.8h.9v.9h-.9zM326.4 260.4h.9v.9h-.9zM353.5 247.2h.9v.9h-.9zM370.8 252.5h.9v.9h-.9zM345.9 248.0h.9v.9h-.9zM346.1 259.8h.9v.9h-.9zM358.9 247.9h.9v.9h-.9zM339.4 279.1h.9v.9h-.9zM318.1 263.7h.9v.9h-.9zM347.4 254.8h.9v.9h-.9zM334.7 274.8h.9v.9h-.9zM360.0 266.0h.9v.9h-.9zM344.3 248.1h.9v.9h-.9zM341.2 278.8h.9v.9h-.9zM358.4 245.8h.9v.9h-.9zM302.2 253.0h.9v.9h-.9zM342.5 254.2h.9v.9h-.9zM334.0 263.6h.9v.9h-.9zM355.6 262.2h.9v.9h-.9zM362.0 245.1h.9v.9h-.9zM347.9 264.5h.9v.9h-.9zM312.7 273.2h.9v.9h-.9zM310.7 244.8h.9v.9h-.9zM387.6 273.6h.9v.9h-.9zM346.3 274.2h.9v.9h-.9zM360.2 248.1h.9v.9h-.9zM348.2 274.7h.9v.9h-.9zM336.6 260.8h.9v.9h-.9zM331.1 267.7h.9v.9h-.9zM329.5 253.8h.9v.9h-.9zM317.4 250.2h.9v.9h-.9zM343.5 265.0h.9v.9h-.9zM332.5 249.0h.9v.9h-.9zM345.7 263.8h.9v.9h-.9zM362.5 254.8h.9v.9h-.9zM332.1 265.4h.9v.9h-.9zM367.1 259.5h.9v.9h-.9zM338.0 250.1h.9v.9h-.9zM332.7 270.0h.9v.9h-.9zM354.9 271.8h.9v.9h-.9zM309.8 268.9h.9v.9h-.9zM322.8 266.3h.9v.9h-.9zM296.6 259.0h.9v.9h-.9zM323.5 273.5h.9v.9h-.9zM341.7 273.8h.9v.9h-.9zM331.6 280.8h.9v.9h-.9zM331.5 280.1h.9v.9h-.9zM330.7 249.6h.9v.9h-.9zM355.8 255.8h.9v.9h-.9zM338.5 245.8h.9v.9h-.9zM333.3 261.2h.9v.9h-.9zM326.7 264.2h.9v.9h-.9zM297.8 269.5h.9v.9h-.9zM332.1 275.6h.9v.9h-.9zM333.2 253.1h.9v.9h-.9zM331.4 263.0h.9v.9h-.9zM350.3 255.1h.9v.9h-.9zM325.0 264.6h.9v.9h-.9zM354.5 241.5h.9v.9h-.9zM320.5 252.9h.9v.9h-.9zM370.6 273.1h.9v.9h-.9zM354.0 265.3h.9v.9h-.9zM319.2 271.9h.9v.9h-.9zM331.5 251.6h.9v.9h-.9zM374.8 244.6h.9v.9h-.9zM364.7 262.2h.9v.9h-.9zM322.8 261.9h.9v.9h-.9zM324.2 262.0h.9v.9h-.9zM327.8 247.4h.9v.9h-.9zM387.9 254.7h.9v.9h-.9zM357.5 259.5h.9v.9h-.9zM351.9 246.6h.9v.9h-.9zM320.6 225.2h.9v.9h-.9zM357.8 264.7h.9v.9h-.9zM318.1 268.9h.9v.9h-.9zM350.4 291.1h.9v.9h-.9zM343.9 269.8h.9v.9h-.9zM350.7 268.2h.9v.9h-.9zM339.1 255.6h.9v.9h-.9zM352.5 273.2h.9v.9h-.9zM318.3 247.9h.9v.9h-.9zM338.8 279.2h.9v.9h-.9zM335.8 242.0h.9v.9h-.9zM354.3 268.1h.9v.9h-.9zM375.0 262.1h.9v.9h-.9zM375.5 252.4h.9v.9h-.9zM356.0 261.5h.9v.9h-.9zM317.8 257.1h.9v.9h-.9zM363.8 271.9h.9v.9h-.9zM332.7 271.8h.9v.9h-.9zM356.0 269.6h.9v.9h-.9zM344.8 263.3h.9v.9h-.9zM324.5 259.3h.9v.9h-.9zM341.8 252.2h.9v.9h-.9zM334.3 261.8h.9v.9h-.9zM343.5 271.3h.9v.9h-.9zM320.9 255.8h.9v.9h-.9zM344.5 256.0h.9v.9h-.9zM345.6 255.1h.9v.9h-.9zM361.1 257.6h.9v.9h-.9zM318.9 268.0h.9v.9h-.9zM369.9 239.6h.9v.9h-.9zM337.2 260.8h.9v.9h-.9zM358.4 276.0h.9v.9h-.9zM336.7 243.5h.9v.9h-.9zM351.8 270.8h.9v.9h-.9zM348.1 260.9h.9v.9h-.9zM324.8 286.0h.9v.9h-.9zM317.8 244.1h.9v.9h-.9zM357.4 263.1h.9v.9h-.9zM351.8 263.9h.9v.9h-.9zM370.3 275.2h.9v.9h-.9zM329.6 270.7h.9v.9h-.9zM318.2 242.0h.9v.9h-.9zM361.5 255.5h.9v.9h-.9zM300.5 259.9h.9v.9h-.9zM327.5 265.5h.9v.9h-.9zM338.6 251.9h.9v.9h-.9zM326.6 268.2h.9v.9h-.9zM322.7 261.4h.9v.9h-.9zM321.6 264.9h.9v.9h-.9zM372.1 266.1h.9v.9h-.9zM359.9 264.9h.9v.9h-.9zM322.1 256.9h.9v.9h-.9zM340.9 264.7h.9v.9h-.9zM328.7 266.6h.9v.9h-.9zM326.5 260.8h.9v.9h-.9zM339.4 247.9h.9v.9h-.9zM357.9 260.6h.9v.9h-.9zM341.6 259.7h.9v.9h-.9zM301.3 245.2h.9v.9h-.9zM323.4 270.6h.9v.9h-.9zM329.1 266.5h.9v.9h-.9zM320.9 251.1h.9v.9h-.9zM331.1 271.3h.9v.9h-.9zM309.5 258.2h.9v.9h-.9zM347.0 261.5h.9v.9h-.9zM339.3 268.3h.9v.9h-.9zM344.9 249.4h.9v.9h-.9zM351.1 251.8h.9v.9h-.9zM333.4 275.4h.9v.9h-.9zM384.0 275.5h.9v.9h-.9zM347.4 251.8h.9v.9h-.9zM325.8 277.7h.9v.9h-.9zM345.7 245.4h.9v.9h-.9zM368.1 266.2h.9v.9h-.9zM363.6 264.4h.9v.9h-.9zM300.5 252.3h.9v.9h-.9zM337.0 258.3h.9v.9h-.9zM367.1 253.0h.9v.9h-.9zM337.8 259.5h.9v.9h-.9zM338.0 249.1h.9v.9h-.9zM317.4 232.8h.9v.9h-.9zM345.7 257.9h.9v.9h-.9zM343.3 248.9h.9v.9h-.9zM339.7 249.8h.9v.9h-.9zM321.2 263.6h.9v.9h-.9zM351.2 266.2h.9v.9h-.9zM338.8 256.0h.9v.9h-.9zM365.0 273.2h.9v.9h-.9zM328.1 248.6h.9v.9h-.9zM346.3 263.4h.9v.9h-.9zM323.0 284.2h.9v.9h-.9zM301.7 251.2h.9v.9h-.9zM344.0 270.5h.9v.9h-.9zM306.0 255.5h.9v.9h-.9zM365.7 274.9h.9v.9h-.9zM335.0 260.5h.9v.9h-.9zM323.6 264.2h.9v.9h-.9zM320.6 238.6h.9v.9h-.9zM312.0 260.6h.9v.9h-.9zM315.7 271.8h.9v.9h-.9zM362.9 270.6h.9v.9h-.9zM351.5 272.1h.9v.9h-.9zM344.4 269.2h.9v.9h-.9zM348.1 268.3h.9v.9h-.9zM321.2 253.1h.9v.9h-.9zM321.5 268.8h.9v.9h-.9zM348.8 251.7h.9v.9h-.9zM321.7 254.0h.9v.9h-.9zM355.4 258.9h.9v.9h-.9zM335.2 252.8h.9v.9h-.9zM337.4 277.0h.9v.9h-.9zM327.1 256.3h.9v.9h-.9zM370.4 267.7h.9v.9h-.9zM319.0 271.6h.9v.9h-.9zM316.7 266.0h.9v.9h-.9zM293.8 249.5h.9v.9h-.9zM356.2 253.8h.9v.9h-.9zM326.5 260.6h.9v.9h-.9zM339.7 255.1h.9v.9h-.9zM327.4 279.1h.9v.9h-.9zM366.7 263.6h.9v.9h-.9zM318.8 254.5h.9v.9h-.9zM334.4 265.2h.9v.9h-.9zM368.7 254.6h.9v.9h-.9zM342.3 255.5h.9v.9h-.9zM342.2 252.8h.9v.9h-.9zM346.5 272.3h.9v.9h-.9zM332.5 256.6h.9v.9h-.9zM341.7 246.2h.9v.9h-.9zM372.5 245.9h.9v.9h-.9zM333.1 250.7h.9v.9h-.9zM366.8 254.9h.9v.9h-.9zM330.5 280.1h.9v.9h-.9zM337.5 251.9h.9v.9h-.9zM339.5 262.1h.9v.9h-.9zM326.1 258.1h.9v.9h-.9zM335.8 267.7h.9v.9h-.9zM353.5 268.9h.9v.9h-.9zM337.4 268.5h.9v.9h-.9zM335.8 272.3h.9v.9h-.9zM347.0 255.6h.9v.9h-.9zM362.0 244.1h.9v.9h-.9zM322.1 251.7h.9v.9h-.9zM337.3 247.1h.9v.9h-.9zM317.9 240.1h.9v.9h-.9zM341.7 252.0h.9v.9h-.9zM379.3 268.3h.9v.9h-.9zM318.9 274.0h.9v.9h-.9zM341.6 271.5h.9v.9h-.9zM319.5 272.3h.9v.9h-.9zM359.5 255.7h.9v.9h-.9zM324.2 256.1h.9v.9h-.9zM344.4 285.5h.9v.9h-.9zM372.4 275.9h.9v.9h-.9zM335.7 256.6h.9v.9h-.9zM346.3 257.2h.9v.9h-.9zM331.2 257.9h.9v.9h-.9zM354.9 259.4h.9v.9h-.9zM343.9 257.3h.9v.9h-.9zM336.1 256.6h.9v.9h-.9zM362.5 262.5h.9v.9h-.9zM366.7 258.3h.9v.9h-.9zM358.9 245.5h.9v.9h-.9zM332.3 259.4h.9v.9h-.9zM328.2 258.9h.9v.9h-.9zM322.9 258.4h.9v.9h-.9zM327.6 260.0h.9v.9h-.9zM334.3 249.5h.9v.9h-.9zM332.2 260.4h.9v.9h-.9zM316.6 261.1h.9v.9h-.9zM362.3 257.7h.9v.9h-.9zM349.6 266.7h.9v.9h-.9zM325.1 274.0h.9v.9h-.9zM385.1 249.3h.9v.9h-.9zM378.5 252.6h.9v.9h-.9zM366.0 241.0h.9v.9h-.9zM360.2 261.5h.9v.9h-.9zM316.4 251.4h.9v.9h-.9zM320.7 250.6h.9v.9h-.9zM346.5 258.2h.9v.9h-.9zM294.3 256.8h.9v.9h-.9zM348.1 261.0h.9v.9h-.9zM370.2 240.7h.9v.9h-.9zM344.0 260.4h.9v.9h-.9zM352.7 245.9h.9v.9h-.9zM316.0 258.3h.9v.9h-.9zM341.0 241.0h.9v.9h-.9zM346.3 260.0h.9v.9h-.9zM352.9 232.5h.9v.9h-.9zM348.7 250.7h.9v.9h-.9zM331.0 268.3h.9v.9h-.9zM370.2 261.7h.9v.9h-.9zM337.7 273.9h.9v.9h-.9zM323.4 258.4h.9v.9h-.9zM330.5 249.7h.9v.9h-.9zM343.1 281.6h.9v.9h-.9zM344.1 265.3h.9v.9h-.9zM339.1 272.0h.9v.9h-.9zM342.9 250.8h.9v.9h-.9zM341.4 275.3h.9v.9h-.9zM338.1 272.7h.9v.9h-.9zM338.4 281.5h.9v.9h-.9zM344.7 267.0h.9v.9h-.9zM334.4 268.9h.9v.9h-.9zM335.5 244.4h.9v.9h-.9zM345.1 247.3h.9v.9h-.9zM366.4 268.4h.9v.9h-.9zM339.9 267.4h.9v.9h-.9zM292.7 276.3h.9v.9h-.9zM327.9 267.2h.9v.9h-.9zM386.0 243.0h.9v.9h-.9zM332.1 263.7h.9v.9h-.9zM347.2 242.2h.9v.9h-.9zM322.8 275.8h.9v.9h-.9zM328.7 265.9h.9v.9h-.9zM314.8 250.4h.9v.9h-.9zM306.6 262.9h.9v.9h-.9zM360.6 261.1h.9v.9h-.9zM334.7 262.6h.9v.9h-.9zM348.1 257.0h.9v.9h-.9zM349.7 280.7h.9v.9h-.9zM379.9 254.0h.9v.9h-.9zM316.8 280.3h.9v.9h-.9zM357.4 272.9h.9v.9h-.9zM350.6 257.7h.9v.9h-.9zM357.3 271.9h.9v.9h-.9zM360.9 248.6h.9v.9h-.9zM358.3 256.4h.9v.9h-.9zM333.2 263.8h.9v.9h-.9zM333.4 284.6h.9v.9h-.9zM349.9 262.9h.9v.9h-.9zM336.2 262.7h.9v.9h-.9zM335.5 266.2h.9v.9h-.9zM355.3 269.0h.9v.9h-.9zM316.9 256.6h.9v.9h-.9zM341.2 247.2h.9v.9h-.9zM346.5 258.6h.9v.9h-.9zM340.7 264.1h.9v.9h-.9zM328.4 276.5h.9v.9h-.9zM358.4 254.3h.9v.9h-.9zM348.1 268.0h.9v.9h-.9zM325.8 256.3h.9v.9h-.9zM352.3 232.9h.9v.9h-.9zM315.8 263.6h.9v.9h-.9zM350.9 250.3h.9v.9h-.9zM355.2 283.5h.9v.9h-.9zM343.5 259.7h.9v.9h-.9zM341.0 249.4h.9v.9h-.9zM349.7 262.0h.9v.9h-.9zM353.2 275.2h.9v.9h-.9zM340.4 262.0h.9v.9h-.9zM345.6 278.5h.9v.9h-.9zM313.3 260.1h.9v.9h-.9zM328.3 261.5h.9v.9h-.9zM354.8 260.9h.9v.9h-.9zM353.0 262.1h.9v.9h-.9zM326.8 253.2h.9v.9h-.9zM314.7 262.5h.9v.9h-.9zM332.6 269.0h.9v.9h-.9zM357.2 250.8h.9v.9h-.9zM320.0 266.5h.9v.9h-.9zM323.8 262.3h.9v.9h-.9zM350.7 256.1h.9v.9h-.9zM371.9 251.9h.9v.9h-.9zM347.4 255.8h.9v.9h-.9zM287.6 258.3h.9v.9h-.9zM336.8 266.2h.9v.9h-.9zM337.3 252.4h.9v.9h-.9zM330.4 256.9h.9v.9h-.9zM353.4 257.2h.9v.9h-.9zM362.0 269.2h.9v.9h-.9zM326.3 271.0h.9v.9h-.9zM298.8 260.4h.9v.9h-.9zM322.0 259.1h.9v.9h-.9zM360.6 260.1h.9v.9h-.9zM336.7 273.6h.9v.9h-.9zM325.9 251.4h.9v.9h-.9zM357.3 266.6h.9v.9h-.9zM313.9 261.7h.9v.9h-.9zM353.8 258.4h.9v.9h-.9zM332.4 261.6h.9v.9h-.9zM343.6 252.7h.9v.9h-.9zM354.8 243.5h.9v.9h-.9zM338.4 282.7h.9v.9h-.9zM320.5 259.7h.9v.9h-.9zM298.6 251.4h.9v.9h-.9zM318.9 260.8h.9v.9h-.9zM330.8 279.5h.9v.9h-.9zM323.0 259.8h.9v.9h-.9zM343.6 266.9h.9v.9h-.9zM355.9 243.6h.9v.9h-.9zM379.3 256.9h.9v.9h-.9zM326.7 242.8h.9v.9h-.9zM331.7 241.4h.9v.9h-.9zM343.0 253.8h.9v.9h-.9zM345.6 251.8h.9v.9h-.9zM341.0 283.6h.9v.9h-.9zM360.8 261.8h.9v.9h-.9zM321.9 275.5h.9v.9h-.9zM309.1 245.2h.9v.9h-.9zM363.1 253.8h.9v.9h-.9zM364.0 266.1h.9v.9h-.9zM379.0 278.9h.9v.9h-.9zM350.2 253.5h.9v.9h-.9zM350.4 274.9h.9v.9h-.9zM342.2 229.6h.9v.9h-.9zM332.8 256.2h.9v.9h-.9zM338.6 256.4h.9v.9h-.9zM360.3 246.7h.9v.9h-.9zM347.6 239.2h.9v.9h-.9zM300.4 249.4h.9v.9h-.9zM326.1 250.6h.9v.9h-.9zM326.9 266.5h.9v.9h-.9zM350.1 260.9h.9v.9h-.9zM343.2 252.7h.9v.9h-.9zM321.8 245.1h.9v.9h-.9zM332.1 248.1h.9v.9h-.9zM333.7 267.7h.9v.9h-.9zM349.5 274.0h.9v.9h-.9zM322.7 236.9h.9v.9h-.9zM319.5 281.0h.9v.9h-.9zM352.2 255.4h.9v.9h-.9zM363.4 255.7h.9v.9h-.9zM369.7 255.8h.9v.9h-.9zM332.2 267.4h.9v.9h-.9zM318.9 258.3h.9v.9h-.9zM374.5 264.6h.9v.9h-.9zM319.6 257.4h.9v.9h-.9zM339.0 252.0h.9v.9h-.9zM346.9 273.1h.9v.9h-.9zM340.4 269.3h.9v.9h-.9zM344.8 261.5h.9v.9h-.9zM326.0 270.1h.9v.9h-.9zM363.9 255.3h.9v.9h-.9zM323.7 265.5h.9v.9h-.9zM341.4 271.9h.9v.9h-.9zM348.4 258.6h.9v.9h-.9zM314.5 266.5h.9v.9h-.9zM341.3 246.7h.9v.9h-.9zM312.7 240.8h.9v.9h-.9zM350.7 255.4h.9v.9h-.9zM279.6 250.7h.9v.9h-.9zM328.0 258.8h.9v.9h-.9zM340.1 256.4h.9v.9h-.9zM352.9 270.8h.9v.9h-.9zM335.4 276.6h.9v.9h-.9zM337.2 250.9h.9v.9h-.9zM342.3 244.9h.9v.9h-.9zM334.1 248.8h.9v.9h-.9zM331.7 262.1h.9v.9h-.9zM295.3 264.1h.9v.9h-.9zM344.2 257.7h.9v.9h-.9zM352.4 263.6h.9v.9h-.9zM332.9 249.4h.9v.9h-.9zM352.7 268.0h.9v.9h-.9zM312.9 252.3h.9v.9h-.9zM318.1 268.7h.9v.9h-.9zM329.1 246.8h.9v.9h-.9zM366.6 264.8h.9v.9h-.9zM343.7 262.5h.9v.9h-.9zM336.2 260.3h.9v.9h-.9zM355.6 264.6h.9v.9h-.9zM331.2 261.0h.9v.9h-.9zM373.2 254.1h.9v.9h-.9zM315.6 261.2h.9v.9h-.9zM318.8 287.6h.9v.9h-.9zM350.7 266.1h.9v.9h-.9zM346.0 280.7h.9v.9h-.9zM321.0 259.4h.9v.9h-.9zM309.3 273.0h.9v.9h-.9zM338.0 278.6h.9v.9h-.9zM334.4 248.9h.9v.9h-.9zM326.7 268.4h.9v.9h-.9zM324.5 262.7h.9v.9h-.9zM326.3 252.4h.9v.9h-.9zM329.2 277.1h.9v.9h-.9zM319.9 263.3h.9v.9h-.9zM353.9 252.1h.9v.9h-.9zM312.1 275.8h.9v.9h-.9zM370.7 257.3h.9v.9h-.9zM317.6 269.1h.9v.9h-.9zM338.6 251.2h.9v.9h-.9zM332.3 234.7h.9v.9h-.9zM324.6 247.0h.9v.9h-.9zM315.4 266.1h.9v.9h-.9zM344.1 277.8h.9v.9h-.9zM290.7 252.8h.9v.9h-.9zM324.0 273.9h.9v.9h-.9zM358.1 261.1h.9v.9h-.9zM340.9 251.9h.9v.9h-.9zM329.9 255.1h.9v.9h-.9zM293.5 279.9h.9v.9h-.9zM352.6 281.9h.9v.9h-.9zM361.6 265.1h.9v.9h-.9zM354.4 242.0h.9v.9h-.9zM320.9 268.9h.9v.9h-.9zM332.3 242.7h.9v.9h-.9zM339.0 246.2h.9v.9h-.9zM339.2 276.4h.9v.9h-.9zM318.6 255.1h.9v.9h-.9zM349.2 259.5h.9v.9h-.9zM342.6 250.9h.9v.9h-.9zM333.0 234.5h.9v.9h-.9zM335.9 273.4h.9v.9h-.9zM318.8 257.8h.9v.9h-.9zM352.1 272.8h.9v.9h-.9zM360.3 250.4h.9v.9h-.9zM331.6 278.4h.9v.9h-.9zM330.7 262.8h.9v.9h-.9zM323.8 252.8h.9v.9h-.9zM285.1 254.0h.9v.9h-.9zM299.1 249.0h.9v.9h-.9zM321.2 274.2h.9v.9h-.9zM353.0 264.0h.9v.9h-.9zM329.7 245.0h.9v.9h-.9zM347.8 251.0h.9v.9h-.9zM337.0 269.8h.9v.9h-.9zM335.6 259.5h.9v.9h-.9zM320.9 270.9h.9v.9h-.9zM348.7 267.3h.9v.9h-.9zM368.7 242.5h.9v.9h-.9zM339.5 266.6h.9v.9h-.9zM345.1 263.0h.9v.9h-.9zM347.6 243.4h.9v.9h-.9zM337.6 272.1h.9v.9h-.9zM338.1 257.6h.9v.9h-.9zM354.5 241.1h.9v.9h-.9zM346.3 275.9h.9v.9h-.9zM334.4 251.0h.9v.9h-.9zM348.6 254.9h.9v.9h-.9zM324.1 261.5h.9v.9h-.9zM308.7 266.9h.9v.9h-.9zM317.2 253.9h.9v.9h-.9zM352.3 259.4h.9v.9h-.9zM343.8 274.4h.9v.9h-.9zM366.8 281.9h.9v.9h-.9zM329.0 269.5h.9v.9h-.9zM308.9 268.3h.9v.9h-.9zM362.8 252.0h.9v.9h-.9zM347.5 268.7h.9v.9h-.9zM336.1 252.9h.9v.9h-.9zM366.5 245.7h.9v.9h-.9zM342.0 269.9h.9v.9h-.9zM343.3 276.6h.9v.9h-.9zM366.1 264.7h.9v.9h-.9zM371.4 267.7h.9v.9h-.9zM316.6 256.3h.9v.9h-.9zM344.0 261.8h.9v.9h-.9zM308.1 284.2h.9v.9h-.9zM310.5 247.7h.9v.9h-.9zM347.2 261.9h.9v.9h-.9zM367.1 262.1h.9v.9h-.9zM345.9 267.5h.9v.9h-.9zM325.7 246.0h.9v.9h-.9zM330.6 270.6h.9v.9h-.9zM333.9 273.1h.9v.9h-.9zM329.0 267.8h.9v.9h-.9zM339.6 268.7h.9v.9h-.9zM339.3 261.9h.9v.9h-.9zM330.6 273.1h.9v.9h-.9zM338.5 265.1h.9v.9h-.9zM351.0 250.3h.9v.9h-.9zM324.0 259.3h.9v.9h-.9zM362.4 248.5h.9v.9h-.9zM320.5 249.3h.9v.9h-.9zM332.0 248.4h.9v.9h-.9zM324.2 265.4h.9v.9h-.9zM319.3 259.7h.9v.9h-.9zM317.7 257.7h.9v.9h-.9zM348.6 238.5h.9v.9h-.9zM340.1 262.2h.9v.9h-.9zM338.1 262.5h.9v.9h-.9zM346.7 246.0h.9v.9h-.9zM336.9 266.7h.9v.9h-.9zM362.7 245.3h.9v.9h-.9zM328.3 245.3h.9v.9h-.9zM338.8 248.4h.9v.9h-.9zM321.2 268.0h.9v.9h-.9zM380.1 237.9h.9v.9h-.9zM369.1 250.1h.9v.9h-.9zM351.6 263.6h.9v.9h-.9zM361.7 257.6h.9v.9h-.9zM324.1 259.2h.9v.9h-.9zM353.5 250.3h.9v.9h-.9zM346.6 259.7h.9v.9h-.9zM342.5 259.9h.9v.9h-.9zM350.2 268.4h.9v.9h-.9zM333.9 256.1h.9v.9h-.9zM300.1 250.5h.9v.9h-.9zM311.5 267.0h.9v.9h-.9zM319.6 252.4h.9v.9h-.9zM348.8 270.4h.9v.9h-.9zM361.3 250.8h.9v.9h-.9zM343.6 271.2h.9v.9h-.9zM323.8 257.4h.9v.9h-.9zM317.0 253.0h.9v.9h-.9zM352.1 260.8h.9v.9h-.9zM332.6 253.9h.9v.9h-.9zM366.9 267.9h.9v.9h-.9zM316.7 282.8h.9v.9h-.9zM331.7 258.2h.9v.9h-.9zM330.3 253.8h.9v.9h-.9zM350.9 244.5h.9v.9h-.9zM339.8 256.4h.9v.9h-.9zM370.9 264.0h.9v.9h-.9zM347.2 265.4h.9v.9h-.9zM350.1 261.2h.9v.9h-.9zM294.8 264.4h.9v.9h-.9zM333.5 267.3h.9v.9h-.9zM344.9 254.1h.9v.9h-.9zM323.1 249.1h.9v.9h-.9zM344.4 258.8h.9v.9h-.9zM323.2 256.0h.9v.9h-.9zM345.6 252.8h.9v.9h-.9zM337.0 253.4h.9v.9h-.9zM292.2 260.8h.9v.9h-.9zM340.4 268.5h.9v.9h-.9zM362.9 252.2h.9v.9h-.9zM350.1 262.7h.9v.9h-.9zM340.7 268.7h.9v.9h-.9zM355.2 246.5h.9v.9h-.9zM366.1 258.0h.9v.9h-.9zM327.2 252.6h.9v.9h-.9zM335.2 248.0h.9v.9h-.9zM359.0 264.4h.9v.9h-.9zM323.0 268.6h.9v.9h-.9zM343.6 260.8h.9v.9h-.9zM356.7 258.9h.9v.9h-.9zM334.6 265.2h.9v.9h-.9zM306.1 247.2h.9v.9h-.9zM348.5 271.2h.9v.9h-.9zM308.8 260.0h.9v.9h-.9zM327.3 256.9h.9v.9h-.9zM350.2 275.7h.9v.9h-.9zM371.3 269.9h.9v.9h-.9zM350.9 261.4h.9v.9h-.9zM305.5 264.1h.9v.9h-.9zM317.7 248.1h.9v.9h-.9zM341.5 243.2h.9v.9h-.9zM371.4 266.3h.9v.9h-.9zM345.9 265.0h.9v.9h-.9zM343.7 260.6h.9v.9h-.9zM352.1 252.8h.9v.9h-.9zM344.3 261.7h.9v.9h-.9zM353.4 248.3h.9v.9h-.9zM343.8 258.5h.9v.9h-.9zM350.7 265.6h.9v.9h-.9zM342.7 264.8h.9v.9h-.9zM347.4 274.3h.9v.9h-.9zM344.9 265.6h.9v.9h-.9zM322.5 257.7h.9v.9h-.9zM353.3 271.0h.9v.9h-.9zM321.7 259.5h.9v.9h-.9zM334.4 260.5h.9v.9h-.9zM330.7 255.4h.9v.9h-.9zM338.2 261.2h.9v.9h-.9zM357.7 250.9h.9v.9h-.9zM322.0 268.2h.9v.9h-.9zM348.4 257.9h.9v.9h-.9zM318.5 271.0h.9v.9h-.9zM319.9 271.8h.9v.9h-.9zM343.9 258.3h.9v.9h-.9zM336.3 268.5h.9v.9h-.9zM339.5 241.6h.9v.9h-.9zM326.7 237.3h.9v.9h-.9zM346.6 269.7h.9v.9h-.9zM358.0 245.7h.9v.9h-.9zM377.7 279.1h.9v.9h-.9zM337.3 239.0h.9v.9h-.9zM323.6 270.9h.9v.9h-.9zM376.7 254.2h.9v.9h-.9zM306.0 249.7h.9v.9h-.9zM373.9 259.9h.9v.9h-.9zM314.0 237.9h.9v.9h-.9zM350.8 268.4h.9v.9h-.9zM330.7 257.8h.9v.9h-.9zM340.7 256.3h.9v.9h-.9zM329.4 253.8h.9v.9h-.9zM328.6 272.9h.9v.9h-.9zM346.6 270.7h.9v.9h-.9zM372.6 235.8h.9v.9h-.9zM338.1 270.0h.9v.9h-.9zM335.5 253.6h.9v.9h-.9zM346.5 254.3h.9v.9h-.9zM324.1 256.7h.9v.9h-.9zM340.3 260.0h.9v.9h-.9zM355.6 260.1h.9v.9h-.9zM330.7 292.0h.9v.9h-.9zM335.2 257.1h.9v.9h-.9zM336.7 252.5h.9v.9h-.9zM310.9 261.9h.9v.9h-.9zM365.7 240.7h.9v.9h-.9zM325.7 264.4h.9v.9h-.9zM327.0 265.5h.9v.9h-.9zM338.4 248.3h.9v.9h-.9zM335.4 254.5h.9v.9h-.9zM349.1 233.2h.9v.9h-.9zM346.8 273.9h.9v.9h-.9zM342.0 262.4h.9v.9h-.9zM329.7 263.4h.9v.9h-.9zM336.7 246.4h.9v.9h-.9zM317.9 235.5h.9v.9h-.9zM347.1 261.7h.9v.9h-.9zM359.0 262.6h.9v.9h-.9zM351.8 245.8h.9v.9h-.9zM305.6 253.9h.9v.9h-.9zM333.4 263.7h.9v.9h-.9zM336.9 258.1h.9v.9h-.9zM340.1 262.6h.9v.9h-.9zM342.9 263.2h.9v.9h-.9zM330.3 258.9h.9v.9h-.9zM312.8 248.2h.9v.9h-.9zM334.4 264.4h.9v.9h-.9zM325.7 245.1h.9v.9h-.9zM356.6 251.1h.9v.9h-.9zM308.3 249.7h.9v.9h-.9zM317.9 234.4h.9v.9h-.9zM332.3 277.6h.9v.9h-.9zM325.9 251.3h.9v.9h-.9zM359.9 260.8h.9v.9h-.9zM337.4 274.2h.9v.9h-.9zM318.0 259.3h.9v.9h-.9zM348.4 262.0h.9v.9h-.9zM318.2 250.1h.9v.9h-.9zM371.4 258.9h.9v.9h-.9zM334.6 271.2h.9v.9h-.9zM307.0 259.3h.9v.9h-.9zM307.6 274.5h.9v.9h-.9zM321.5 261.1h.9v.9h-.9zM322.7 261.3h.9v.9h-.9zM345.0 260.0h.9v.9h-.9zM333.6 262.5h.9v.9h-.9zM335.0 254.6h.9v.9h-.9zM350.7 268.9h.9v.9h-.9zM315.0 249.3h.9v.9h-.9zM325.4 263.0h.9v.9h-.9zM314.1 276.2h.9v.9h-.9zM340.1 261.5h.9v.9h-.9zM355.1 252.1h.9v.9h-.9zM346.1 264.2h.9v.9h-.9zM362.6 248.9h.9v.9h-.9zM364.3 266.2h.9v.9h-.9zM343.9 271.1h.9v.9h-.9zM334.9 257.9h.9v.9h-.9zM354.4 256.3h.9v.9h-.9zM358.9 274.4h.9v.9h-.9zM343.3 261.8h.9v.9h-.9zM327.8 250.3h.9v.9h-.9zM365.3 249.1h.9v.9h-.9zM341.0 263.1h.9v.9h-.9zM323.3 252.8h.9v.9h-.9zM326.8 282.2h.9v.9h-.9zM346.2 274.6h.9v.9h-.9zM376.0 270.6h.9v.9h-.9zM363.2 255.4h.9v.9h-.9zM327.1 275.2h.9v.9h-.9zM365.8 249.3h.9v.9h-.9zM360.1 263.1h.9v.9h-.9zM353.9 270.2h.9v.9h-.9zM373.8 253.5h.9v.9h-.9zM339.7 273.3h.9v.9h-.9zM335.0 265.8h.9v.9h-.9zM338.3 242.3h.9v.9h-.9zM329.8 269.4h.9v.9h-.9zM329.9 244.0h.9v.9h-.9zM330.7 261.2h.9v.9h-.9zM348.6 263.6h.9v.9h-.9zM349.2 249.1h.9v.9h-.9zM328.9 252.1h.9v.9h-.9zM331.9 264.8h.9v.9h-.9zM363.7 257.7h.9v.9h-.9zM358.9 271.8h.9v.9h-.9zM319.2 251.6h.9v.9h-.9zM342.6 245.7h.9v.9h-.9zM373.5 240.6h.9v.9h-.9zM317.8 268.4h.9v.9h-.9zM326.5 267.7h.9v.9h-.9zM322.2 271.3h.9v.9h-.9zM329.4 267.8h.9v.9h-.9zM357.9 244.5h.9v.9h-.9zM324.0 241.9h.9v.9h-.9zM320.0 269.9h.9v.9h-.9zM339.4 269.1h.9v.9h-.9zM365.5 271.1h.9v.9h-.9zM353.0 255.8h.9v.9h-.9zM333.0 263.6h.9v.9h-.9zM355.6 271.7h.9v.9h-.9zM345.4 257.2h.9v.9h-.9zM338.6 277.7h.9v.9h-.9zM345.1 281.3h.9v.9h-.9zM327.2 269.5h.9v.9h-.9zM344.0 268.3h.9v.9h-.9zM326.6 263.9h.9v.9h-.9zM338.9 257.4h.9v.9h-.9zM318.6 245.5h.9v.9h-.9zM334.1 266.1h.9v.9h-.9zM344.8 262.9h.9v.9h-.9zM345.9 246.2h.9v.9h-.9zM359.2 261.1h.9v.9h-.9zM326.6 254.6h.9v.9h-.9zM357.9 262.4h.9v.9h-.9zM310.3 282.4h.9v.9h-.9zM313.6 278.3h.9v.9h-.9zM355.4 249.9h.9v.9h-.9zM362.5 273.6h.9v.9h-.9zM358.9 267.2h.9v.9h-.9zM346.0 262.7h.9v.9h-.9zM330.6 263.3h.9v.9h-.9zM363.1 259.3h.9v.9h-.9zM375.5 244.2h.9v.9h-.9zM340.8 244.9h.9v.9h-.9zM308.7 263.1h.9v.9h-.9zM334.4 254.6h.9v.9h-.9zM321.2 258.0h.9v.9h-.9zM311.2 258.4h.9v.9h-.9zM330.8 247.4h.9v.9h-.9zM347.6 241.0h.9v.9h-.9zM347.9 263.2h.9v.9h-.9zM349.7 261.8h.9v.9h-.9zM354.5 257.7h.9v.9h-.9zM320.8 264.4h.9v.9h-.9zM326.1 256.7h.9v.9h-.9zM342.4 250.7h.9v.9h-.9zM357.9 244.4h.9v.9h-.9zM362.2 260.1h.9v.9h-.9zM370.6 272.0h.9v.9h-.9zM352.4 263.5h.9v.9h-.9zM342.3 246.1h.9v.9h-.9zM330.2 250.6h.9v.9h-.9zM327.5 259.1h.9v.9h-.9zM326.0 261.9h.9v.9h-.9zM335.6 255.5h.9v.9h-.9zM347.3 265.3h.9v.9h-.9zM316.2 257.2h.9v.9h-.9zM392.6 260.6h.9v.9h-.9zM348.5 251.2h.9v.9h-.9zM357.7 276.5h.9v.9h-.9zM350.7 259.1h.9v.9h-.9zM340.8 240.6h.9v.9h-.9zM350.9 257.2h.9v.9h-.9zM347.3 264.3h.9v.9h-.9zM344.0 282.4h.9v.9h-.9zM356.7 253.6h.9v.9h-.9zM351.2 267.0h.9v.9h-.9zM340.9 275.2h.9v.9h-.9zM333.7 242.2h.9v.9h-.9zM321.1 264.5h.9v.9h-.9zM322.5 262.0h.9v.9h-.9zM313.2 264.4h.9v.9h-.9zM335.6 250.9h.9v.9h-.9zM330.3 257.6h.9v.9h-.9zM356.6 262.9h.9v.9h-.9zM336.6 262.1h.9v.9h-.9zM356.1 265.3h.9v.9h-.9zM371.6 252.9h.9v.9h-.9zM354.9 261.7h.9v.9h-.9zM329.0 266.7h.9v.9h-.9zM355.2 270.6h.9v.9h-.9zM348.9 251.3h.9v.9h-.9zM343.3 264.4h.9v.9h-.9zM370.0 261.7h.9v.9h-.9zM343.0 276.7h.9v.9h-.9zM341.4 255.8h.9v.9h-.9zM345.4 268.5h.9v.9h-.9zM343.0 243.0h.9v.9h-.9zM333.1 270.9h.9v.9h-.9zM327.0 269.4h.9v.9h-.9zM343.3 252.1h.9v.9h-.9zM354.5 238.1h.9v.9h-.9zM302.8 244.3h.9v.9h-.9zM349.7 257.6h.9v.9h-.9zM351.5 259.6h.9v.9h-.9zM342.6 255.0h.9v.9h-.9zM333.2 270.7h.9v.9h-.9zM354.0 246.6h.9v.9h-.9zM350.5 281.5h.9v.9h-.9zM353.8 250.6h.9v.9h-.9zM353.5 262.7h.9v.9h-.9zM334.6 270.6h.9v.9h-.9zM362.1 255.0h.9v.9h-.9zM342.4 256.3h.9v.9h-.9zM340.3 277.0h.9v.9h-.9zM332.5 266.4h.9v.9h-.9zM344.9 261.3h.9v.9h-.9zM320.2 266.9h.9v.9h-.9zM320.7 268.0h.9v.9h-.9zM338.7 261.9h.9v.9h-.9zM332.1 251.6h.9v.9h-.9zM322.0 260.5h.9v.9h-.9zM338.8 263.4h.9v.9h-.9zM335.1 268.5h.9v.9h-.9zM342.8 261.7h.9v.9h-.9zM335.9 260.3h.9v.9h-.9zM351.8 253.2h.9v.9h-.9zM318.9 264.4h.9v.9h-.9zM347.7 260.7h.9v.9h-.9zM344.6 246.9h.9v.9h-.9zM323.0 260.4h.9v.9h-.9zM338.3 241.8h.9v.9h-.9zM352.0 232.0h.9v.9h-.9zM373.4 244.6h.9v.9h-.9zM323.7 244.7h.9v.9h-.9zM302.0 255.4h.9v.9h-.9zM286.9 255.1h.9v.9h-.9zM343.8 255.7h.9v.9h-.9zM338.5 238.7h.9v.9h-.9zM288.1 240.5h.9v.9h-.9zM368.3 264.7h.9v.9h-.9zM289.7 285.3h.9v.9h-.9zM356.4 276.1h.9v.9h-.9zM366.9 279.3h.9v.9h-.9zM292.4 261.2h.9v.9h-.9zM317.6 288.6h.9v.9h-.9zM358.0 260.0h.9v.9h-.9zM332.0 228.8h.9v.9h-.9zM341.8 247.6h.9v.9h-.9zM376.4 271.0h.9v.9h-.9zM336.8 254.2h.9v.9h-.9zM369.5 252.2h.9v.9h-.9zM369.3 263.1h.9v.9h-.9zM331.1 265.5h.9v.9h-.9zM387.1 236.4h.9v.9h-.9zM359.6 271.0h.9v.9h-.9zM331.9 281.7h.9v.9h-.9zM357.5 268.1h.9v.9h-.9zM311.2 268.6h.9v.9h-.9zM303.4 267.5h.9v.9h-.9zM398.3 246.8h.9v.9h-.9zM382.0 244.0h.9v.9h-.9zM340.8 270.6h.9v.9h-.9zM299.1 264.9h.9v.9h-.9zM317.6 250.9h.9v.9h-.9zM362.2 258.8h.9v.9h-.9zM350.1 260.3h.9v.9h-.9zM349.4 283.0h.9v.9h-.9zM342.4 255.8h.9v.9h-.9zM339.7 270.6h.9v.9h-.9zM351.6 228.3h.9v.9h-.9zM336.9 266.4h.9v.9h-.9zM411.1 251.2h.9v.9h-.9zM331.4 242.9h.9v.9h-.9zM337.0 233.9h.9v.9h-.9zM315.8 258.8h.9v.9h-.9zM297.3 256.0h.9v.9h-.9zM320.0 278.6h.9v.9h-.9zM383.0 291.3h.9v.9h-.9zM342.8 269.9h.9v.9h-.9zM404.4 250.4h.9v.9h-.9zM385.9 246.5h.9v.9h-.9zM368.2 236.8h.9v.9h-.9zM328.0 257.1h.9v.9h-.9zM331.9 231.2h.9v.9h-.9zM342.4 255.7h.9v.9h-.9zM380.0 268.6h.9v.9h-.9zM278.9 261.9h.9v.9h-.9zM368.4 258.5h.9v.9h-.9zM319.3 239.7h.9v.9h-.9zM328.7 246.0h.9v.9h-.9zM331.3 255.2h.9v.9h-.9zM374.3 245.4h.9v.9h-.9zM348.1 243.7h.9v.9h-.9zM346.5 275.3h.9v.9h-.9zM323.1 242.4h.9v.9h-.9zM339.9 260.3h.9v.9h-.9zM321.2 266.2h.9v.9h-.9zM340.9 270.0h.9v.9h-.9zM300.8 271.2h.9v.9h-.9zM374.0 247.8h.9v.9h-.9zM393.8 263.4h.9v.9h-.9zM302.8 244.1h.9v.9h-.9zM318.2 250.3h.9v.9h-.9zM332.3 264.4h.9v.9h-.9zM333.2 255.2h.9v.9h-.9zM312.1 229.5h.9v.9h-.9zM319.1 241.7h.9v.9h-.9zM363.3 224.0h.9v.9h-.9zM370.6 217.4h.9v.9h-.9zM333.3 260.1h.9v.9h-.9zM307.9 245.4h.9v.9h-.9zM363.1 243.8h.9v.9h-.9zM336.2 260.6h.9v.9h-.9zM357.0 241.1h.9v.9h-.9zM375.4 257.6h.9v.9h-.9zM367.0 238.9h.9v.9h-.9zM369.1 258.5h.9v.9h-.9zM360.5 250.4h.9v.9h-.9zM362.8 260.4h.9v.9h-.9zM286.1 297.2h.9v.9h-.9zM320.3 266.9h.9v.9h-.9zM333.4 253.2h.9v.9h-.9zM328.4 273.6h.9v.9h-.9zM364.8 273.8h.9v.9h-.9zM293.4 272.1h.9v.9h-.9zM296.9 294.4h.9v.9h-.9zM349.5 276.9h.9v.9h-.9zM338.7 262.0h.9v.9h-.9zM319.0 289.7h.9v.9h-.9zM329.6 276.3h.9v.9h-.9zM316.2 257.7h.9v.9h-.9zM327.9 258.3h.9v.9h-.9zM324.6 269.5h.9v.9h-.9zM357.2 235.9h.9v.9h-.9zM326.5 240.3h.9v.9h-.9zM368.8 241.2h.9v.9h-.9zM351.9 262.2h.9v.9h-.9zM337.3 230.8h.9v.9h-.9zM386.3 257.8h.9v.9h-.9zM357.8 275.7h.9v.9h-.9zM310.9 245.1h.9v.9h-.9zM386.9 289.0h.9v.9h-.9zM315.9 258.7h.9v.9h-.9zM365.4 257.7h.9v.9h-.9zM375.7 269.0h.9v.9h-.9zM336.8 270.0h.9v.9h-.9zM325.6 278.9h.9v.9h-.9zM320.4 279.6h.9v.9h-.9zM409.0 233.7h.9v.9h-.9zM386.4 237.8h.9v.9h-.9zM337.0 287.5h.9v.9h-.9zM369.2 270.1h.9v.9h-.9zM349.4 262.6h.9v.9h-.9zM351.8 257.0h.9v.9h-.9zM331.0 241.5h.9v.9h-.9zM387.7 259.7h.9v.9h-.9zM392.2 271.2h.9v.9h-.9zM351.7 243.5h.9v.9h-.9zM331.7 260.7h.9v.9h-.9zM335.6 255.5h.9v.9h-.9zM275.1 253.9h.9v.9h-.9zM331.9 252.8h.9v.9h-.9zM330.1 236.6h.9v.9h-.9zM315.0 282.1h.9v.9h-.9zM312.5 252.1h.9v.9h-.9zM315.8 257.6h.9v.9h-.9zM324.4 290.1h.9v.9h-.9zM309.9 280.4h.9v.9h-.9zM325.8 266.7h.9v.9h-.9zM410.0 259.8h.9v.9h-.9zM338.8 217.0h.9v.9h-.9zM329.5 256.6h.9v.9h-.9zM342.6 263.6h.9v.9h-.9zM308.3 245.9h.9v.9h-.9zM360.6 256.0h.9v.9h-.9zM340.1 270.0h.9v.9h-.9zM342.1 262.4h.9v.9h-.9zM308.8 260.1h.9v.9h-.9zM291.5 286.7h.9v.9h-.9zM317.5 285.4h.9v.9h-.9zM325.2 258.1h.9v.9h-.9zM375.7 263.3h.9v.9h-.9zM344.3 256.1h.9v.9h-.9zM332.0 249.1h.9v.9h-.9zM317.6 233.3h.9v.9h-.9zM335.0 248.4h.9v.9h-.9zM378.7 292.1h.9v.9h-.9zM392.8 242.3h.9v.9h-.9zM329.2 258.3h.9v.9h-.9zM296.3 283.7h.9v.9h-.9zM359.4 264.6h.9v.9h-.9zM393.7 267.6h.9v.9h-.9zM331.0 264.4h.9v.9h-.9zM326.3 267.5h.9v.9h-.9zM302.6 267.9h.9v.9h-.9zM331.1 253.8h.9v.9h-.9zM328.7 258.4h.9v.9h-.9zM290.5 269.3h.9v.9h-.9zM333.9 287.3h.9v.9h-.9zM339.0 274.5h.9v.9h-.9zM338.6 258.3h.9v.9h-.9zM305.3 253.3h.9v.9h-.9zM323.1 223.9h.9v.9h-.9zM331.2 249.5h.9v.9h-.9zM348.1 275.8h.9v.9h-.9zM331.0 278.2h.9v.9h-.9zM374.4 271.8h.9v.9h-.9zM330.2 261.9h.9v.9h-.9zM385.6 283.6h.9v.9h-.9zM371.7 234.4h.9v.9h-.9zM275.9 287.1h.9v.9h-.9zM359.7 280.7h.9v.9h-.9zM355.9 255.8h.9v.9h-.9zM352.6 259.7h.9v.9h-.9zM381.7 273.1h.9v.9h-.9zM313.0 248.9h.9v.9h-.9zM368.2 273.7h.9v.9h-.9zM347.8 265.6h.9v.9h-.9zM304.6 247.5h.9v.9h-.9zM354.5 232.8h.9v.9h-.9zM353.5 269.2h.9v.9h-.9zM358.1 273.2h.9v.9h-.9zM393.4 264.8h.9v.9h-.9zM316.8 234.7h.9v.9h-.9zM276.4 261.9h.9v.9h-.9zM364.8 235.2h.9v.9h-.9zM344.7 249.7h.9v.9h-.9zM332.6 263.7h.9v.9h-.9zM340.9 242.6h.9v.9h-.9zM361.1 258.4h.9v.9h-.9zM287.0 272.1h.9v.9h-.9zM384.2 254.6h.9v.9h-.9zM385.0 236.6h.9v.9h-.9zM332.7 280.1h.9v.9h-.9zM376.8 268.3h.9v.9h-.9zM369.8 254.3h.9v.9h-.9zM360.1 274.9h.9v.9h-.9zM366.6 266.2h.9v.9h-.9zM363.5 267.0h.9v.9h-.9zM357.0 237.1h.9v.9h-.9zM356.7 246.3h.9v.9h-.9zM329.2 261.3h.9v.9h-.9zM346.8 240.6h.9v.9h-.9zM324.9 264.1h.9v.9h-.9zM328.2 260.9h.9v.9h-.9zM346.3 263.7h.9v.9h-.9zM324.4 263.2h.9v.9h-.9zM355.9 241.3h.9v.9h-.9zM361.8 245.4h.9v.9h-.9zM350.1 269.7h.9v.9h-.9zM357.8 242.7h.9v.9h-.9zM314.0 242.6h.9v.9h-.9zM355.8 262.5h.9v.9h-.9zM288.9 271.6h.9v.9h-.9zM373.1 252.5h.9v.9h-.9zM337.5 264.1h.9v.9h-.9zM311.2 253.9h.9v.9h-.9zM355.3 255.2h.9v.9h-.9zM339.4 262.1h.9v.9h-.9zM388.0 264.4h.9v.9h-.9zM349.2 253.2h.9v.9h-.9zM374.5 261.4h.9v.9h-.9zM338.9 280.2h.9v.9h-.9zM377.5 246.4h.9v.9h-.9zM330.8 279.6h.9v.9h-.9zM326.4 284.0h.9v.9h-.9zM335.1 289.7h.9v.9h-.9zM312.3 231.0h.9v.9h-.9zM298.7 290.2h.9v.9h-.9zM319.2 253.8h.9v.9h-.9zM323.4 249.2h.9v.9h-.9zM344.0 262.3h.9v.9h-.9zM322.0 252.4h.9v.9h-.9zM377.2 274.8h.9v.9h-.9zM367.5 279.1h.9v.9h-.9zM334.2 273.6h.9v.9h-.9zM385.9 247.9h.9v.9h-.9zM377.8 223.3h.9v.9h-.9zM285.9 238.2h.9v.9h-.9zM311.4 245.7h.9v.9h-.9zM325.8 272.6h.9v.9h-.9zM318.9 254.7h.9v.9h-.9zM302.9 236.2h.9v.9h-.9zM334.3 249.0h.9v.9h-.9zM364.4 262.0h.9v.9h-.9zM288.4 271.2h.9v.9h-.9zM305.6 254.2h.9v.9h-.9zM310.0 247.8h.9v.9h-.9zM322.4 242.3h.9v.9h-.9zM318.6 255.9h.9v.9h-.9zM359.5 270.8h.9v.9h-.9zM389.3 235.7h.9v.9h-.9zM328.2 278.4h.9v.9h-.9zM307.4 257.6h.9v.9h-.9zM359.5 283.3h.9v.9h-.9zM355.3 265.0h.9v.9h-.9zM334.6 269.4h.9v.9h-.9zM342.0 265.2h.9v.9h-.9zM321.0 258.1h.9v.9h-.9zM314.3 243.6h.9v.9h-.9zM315.3 247.4h.9v.9h-.9zM320.2 251.3h.9v.9h-.9zM296.3 264.6h.9v.9h-.9zM347.8 283.3h.9v.9h-.9zM272.8 238.7h.9v.9h-.9zM311.7 246.9h.9v.9h-.9zM340.6 247.2h.9v.9h-.9zM317.3 271.0h.9v.9h-.9zM333.7 235.7h.9v.9h-.9zM365.5 293.7h.9v.9h-.9zM370.5 257.5h.9v.9h-.9zM377.0 258.9h.9v.9h-.9zM329.1 263.7h.9v.9h-.9zM375.2 261.7h.9v.9h-.9zM330.4 239.2h.9v.9h-.9zM344.1 243.8h.9v.9h-.9zM336.1 239.1h.9v.9h-.9zM314.5 245.4h.9v.9h-.9zM320.1 242.8h.9v.9h-.9zM373.4 271.6h.9v.9h-.9zM329.5 244.3h.9v.9h-.9zM369.5 256.3h.9v.9h-.9zM354.8 275.0h.9v.9h-.9zM327.4 266.5h.9v.9h-.9zM351.4 253.5h.9v.9h-.9zM334.0 250.6h.9v.9h-.9zM385.0 275.2h.9v.9h-.9zM415.1 261.0h.9v.9h-.9zM363.6 250.6h.9v.9h-.9zM317.8 246.8h.9v.9h-.9zM351.5 271.6h.9v.9h-.9zM285.3 270.5h.9v.9h-.9zM364.3 271.8h.9v.9h-.9zM303.0 262.9h.9v.9h-.9zM348.0 239.9h.9v.9h-.9zM307.0 292.9h.9v.9h-.9zM319.9 252.6h.9v.9h-.9zM284.2 250.6h.9v.9h-.9zM376.7 265.7h.9v.9h-.9zM315.0 260.5h.9v.9h-.9zM349.0 268.7h.9v.9h-.9zM310.9 265.5h.9v.9h-.9zM320.1 252.4h.9v.9h-.9zM314.9 247.9h.9v.9h-.9zM352.3 233.5h.9v.9h-.9zM344.2 300.5h.9v.9h-.9zM313.8 255.6h.9v.9h-.9zM336.7 283.2h.9v.9h-.9zM298.8 268.3h.9v.9h-.9zM335.9 289.2h.9v.9h-.9zM332.9 289.7h.9v.9h-.9zM311.7 265.2h.9v.9h-.9zM307.9 251.0h.9v.9h-.9zM303.7 253.8h.9v.9h-.9zM381.9 251.9h.9v.9h-.9zM407.6 283.9h.9v.9h-.9zM347.2 260.0h.9v.9h-.9zM347.4 248.6h.9v.9h-.9zM355.1 261.2h.9v.9h-.9zM284.1 260.4h.9v.9h-.9zM354.7 260.6h.9v.9h-.9zM347.3 259.9h.9v.9h-.9zM325.1 275.5h.9v.9h-.9zM377.7 255.3h.9v.9h-.9zM360.9 243.6h.9v.9h-.9zM373.4 247.5h.9v.9h-.9zM339.7 273.9h.9v.9h-.9zM324.6 260.4h.9v.9h-.9zM366.6 251.6h.9v.9h-.9zM348.0 276.1h.9v.9h-.9zM345.6 248.2h.9v.9h-.9zM327.5 256.1h.9v.9h-.9zM339.0 269.1h.9v.9h-.9zM295.3 258.7h.9v.9h-.9zM344.1 282.2h.9v.9h-.9zM298.0 246.6h.9v.9h-.9zM363.2 259.1h.9v.9h-.9zM368.9 259.1h.9v.9h-.9zM320.5 258.9h.9v.9h-.9zM372.7 270.5h.9v.9h-.9zM343.9 261.9h.9v.9h-.9zM368.2 269.0h.9v.9h-.9zM345.3 270.6h.9v.9h-.9zM341.3 243.3h.9v.9h-.9zM363.4 277.6h.9v.9h-.9zM377.0 258.8h.9v.9h-.9zM305.2 265.8h.9v.9h-.9zM322.4 232.1h.9v.9h-.9zM342.7 248.5h.9v.9h-.9zM340.5 252.6h.9v.9h-.9zM361.1 272.4h.9v.9h-.9zM352.4 277.2h.9v.9h-.9zM323.8 294.6h.9v.9h-.9zM291.0 270.7h.9v.9h-.9zM366.9 253.9h.9v.9h-.9zM341.8 242.2h.9v.9h-.9zM326.4 264.1h.9v.9h-.9zM303.7 231.1h.9v.9h-.9zM328.7 247.4h.9v.9h-.9zM312.0 257.3h.9v.9h-.9zM300.6 275.8h.9v.9h-.9zM370.1 260.2h.9v.9h-.9zM322.3 258.9h.9v.9h-.9zM335.6 248.1h.9v.9h-.9zM320.6 266.0h.9v.9h-.9zM313.7 250.4h.9v.9h-.9zM326.1 245.1h.9v.9h-.9zM345.4 240.9h.9v.9h-.9zM363.8 270.2h.9v.9h-.9zM337.6 272.1h.9v.9h-.9zM368.3 254.0h.9v.9h-.9zM336.9 250.8h.9v.9h-.9zM328.4 254.0h.9v.9h-.9zM340.6 267.2h.9v.9h-.9zM398.3 264.6h.9v.9h-.9zM364.2 256.3h.9v.9h-.9zM383.4 261.4h.9v.9h-.9zM333.6 255.6h.9v.9h-.9zM339.1 253.9h.9v.9h-.9zM343.2 285.4h.9v.9h-.9zM340.2 248.6h.9v.9h-.9zM287.8 258.1h.9v.9h-.9zM310.8 248.4h.9v.9h-.9zM342.2 264.7h.9v.9h-.9zM351.0 276.4h.9v.9h-.9zM312.4 250.0h.9v.9h-.9zM314.3 244.9h.9v.9h-.9zM320.4 247.3h.9v.9h-.9zM356.8 244.0h.9v.9h-.9zM397.7 229.6h.9v.9h-.9zM360.6 236.7h.9v.9h-.9zM324.9 241.8h.9v.9h-.9zM338.2 266.5h.9v.9h-.9zM326.8 249.9h.9v.9h-.9zM311.1 247.2h.9v.9h-.9zM314.8 249.6h.9v.9h-.9zM339.6 272.2h.9v.9h-.9zM318.9 230.0h.9v.9h-.9zM327.8 271.3h.9v.9h-.9zM309.9 264.6h.9v.9h-.9zM306.3 240.9h.9v.9h-.9zM343.7 232.4h.9v.9h-.9zM326.5 219.9h.9v.9h-.9zM309.1 264.7h.9v.9h-.9zM323.9 248.9h.9v.9h-.9zM351.9 245.8h.9v.9h-.9zM306.2 253.1h.9v.9h-.9zM335.3 261.1h.9v.9h-.9zM332.4 276.3h.9v.9h-.9zM352.5 257.0h.9v.9h-.9zM399.6 236.4h.9v.9h-.9zM343.8 247.8h.9v.9h-.9zM395.3 263.2h.9v.9h-.9zM359.4 264.8h.9v.9h-.9zM376.8 251.1h.9v.9h-.9zM361.7 234.1h.9v.9h-.9zM352.5 275.5h.9v.9h-.9zM360.7 267.7h.9v.9h-.9zM286.4 260.2h.9v.9h-.9zM327.9 281.1h.9v.9h-.9zM351.6 268.4h.9v.9h-.9zM372.4 266.6h.9v.9h-.9zM300.1 247.3h.9v.9h-.9zM280.4 276.5h.9v.9h-.9zM331.8 240.3h.9v.9h-.9zM350.3 252.8h.9v.9h-.9zM328.7 277.8h.9v.9h-.9zM281.3 237.6h.9v.9h-.9zM334.3 255.3h.9v.9h-.9zM367.5 253.7h.9v.9h-.9zM351.1 283.9h.9v.9h-.9zM299.9 238.3h.9v.9h-.9zM317.6 255.8h.9v.9h-.9zM307.2 262.6h.9v.9h-.9zM315.9 275.4h.9v.9h-.9zM350.7 268.7h.9v.9h-.9zM342.8 261.9h.9v.9h-.9zM292.8 255.6h.9v.9h-.9zM288.6 278.1h.9v.9h-.9zM306.1 245.7h.9v.9h-.9zM324.5 290.8h.9v.9h-.9zM306.8 283.2h.9v.9h-.9zM340.6 296.4h.9v.9h-.9zM330.8 250.9h.9v.9h-.9zM336.1 250.8h.9v.9h-.9zM317.5 269.1h.9v.9h-.9zM324.5 271.7h.9v.9h-.9zM353.1 272.3h.9v.9h-.9zM379.5 274.3h.9v.9h-.9zM311.2 278.3h.9v.9h-.9zM269.8 277.3h.9v.9h-.9zM369.8 243.4h.9v.9h-.9zM371.5 231.6h.9v.9h-.9zM364.2 252.9h.9v.9h-.9zM329.2 256.4h.9v.9h-.9zM321.6 269.6h.9v.9h-.9zM335.5 258.2h.9v.9h-.9zM338.3 253.6h.9v.9h-.9zM309.5 267.6h.9v.9h-.9zM359.6 241.7h.9v.9h-.9zM362.9 277.3h.9v.9h-.9zM341.6 280.2h.9v.9h-.9zM278.1 278.9h.9v.9h-.9zM316.8 263.3h.9v.9h-.9zM312.1 294.6h.9v.9h-.9zM325.9 268.6h.9v.9h-.9zM297.3 254.6h.9v.9h-.9zM348.6 257.3h.9v.9h-.9zM316.5 280.6h.9v.9h-.9zM295.1 260.2h.9v.9h-.9zM332.4 253.6h.9v.9h-.9zM354.6 262.4h.9v.9h-.9zM332.1 268.5h.9v.9h-.9zM334.8 266.7h.9v.9h-.9zM371.7 262.5h.9v.9h-.9zM338.8 250.7h.9v.9h-.9zM375.5 273.0h.9v.9h-.9zM351.5 263.4h.9v.9h-.9zM314.5 260.2h.9v.9h-.9zM345.3 242.1h.9v.9h-.9zM311.2 257.4h.9v.9h-.9zM389.1 264.3h.9v.9h-.9zM297.7 277.5h.9v.9h-.9zM361.4 269.4h.9v.9h-.9zM322.3 257.4h.9v.9h-.9zM396.5 275.3h.9v.9h-.9zM294.3 252.8h.9v.9h-.9zM312.3 249.3h.9v.9h-.9zM356.9 278.5h.9v.9h-.9zM298.5 267.4h.9v.9h-.9zM360.6 262.8h.9v.9h-.9zM374.1 276.1h.9v.9h-.9zM315.2 261.1h.9v.9h-.9zM344.7 241.7h.9v.9h-.9zM331.0 274.0h.9v.9h-.9zM347.9 259.6h.9v.9h-.9zM407.6 268.3h.9v.9h-.9zM363.3 246.5h.9v.9h-.9zM370.5 252.7h.9v.9h-.9zM332.5 253.1h.9v.9h-.9zM302.6 267.5h.9v.9h-.9zM303.7 271.3h.9v.9h-.9zM315.4 277.7h.9v.9h-.9zM346.5 276.3h.9v.9h-.9zM307.2 267.5h.9v.9h-.9zM357.6 263.3h.9v.9h-.9zM334.4 250.7h.9v.9h-.9zM302.8 244.0h.9v.9h-.9zM347.6 220.4h.9v.9h-.9zM316.6 269.3h.9v.9h-.9zM338.2 256.1h.9v.9h-.9zM316.1 261.8h.9v.9h-.9zM295.4 251.0h.9v.9h-.9zM359.4 245.8h.9v.9h-.9zM333.9 253.8h.9v.9h-.9zM303.3 230.4h.9v.9h-.9zM313.7 248.0h.9v.9h-.9zM309.2 258.4h.9v.9h-.9zM346.0 268.5h.9v.9h-.9zM347.3 242.1h.9v.9h-.9zM375.6 264.5h.9v.9h-.9zM357.7 240.5h.9v.9h-.9zM367.3 293.0h.9v.9h-.9zM351.8 275.8h.9v.9h-.9zM321.7 261.7h.9v.9h-.9zM336.1 269.1h.9v.9h-.9zM342.0 263.3h.9v.9h-.9zM312.7 241.9h.9v.9h-.9zM337.3 296.4h.9v.9h-.9zM310.6 267.2h.9v.9h-.9zM374.4 249.9h.9v.9h-.9zM292.6 264.8h.9v.9h-.9zM336.5 246.6h.9v.9h-.9zM379.2 269.8h.9v.9h-.9zM337.5 239.2h.9v.9h-.9zM372.3 276.1h.9v.9h-.9zM360.6 283.4h.9v.9h-.9zM309.3 244.7h.9v.9h-.9zM361.8 266.0h.9v.9h-.9zM336.5 252.3h.9v.9h-.9zM366.1 263.2h.9v.9h-.9zM361.7 242.6h.9v.9h-.9zM339.5 265.6h.9v.9h-.9zM366.0 234.8h.9v.9h-.9zM332.2 249.8h.9v.9h-.9zM338.0 257.4h.9v.9h-.9zM349.5 271.1h.9v.9h-.9zM345.3 258.4h.9v.9h-.9zM362.2 280.2h.9v.9h-.9zM339.7 247.7h.9v.9h-.9zM386.7 273.1h.9v.9h-.9zM398.2 253.4h.9v.9h-.9zM327.2 257.0h.9v.9h-.9zM335.5 237.8h.9v.9h-.9zM361.2 237.4h.9v.9h-.9zM261.3 258.8h.9v.9h-.9zM308.4 263.4h.9v.9h-.9zM305.9 239.4h.9v.9h-.9zM281.2 240.8h.9v.9h-.9zM329.9 291.1h.9v.9h-.9zM356.6 249.9h.9v.9h-.9zM375.4 263.1h.9v.9h-.9zM286.2 233.5h.9v.9h-.9zM296.0 250.9h.9v.9h-.9zM339.0 250.4h.9v.9h-.9zM323.0 245.5h.9v.9h-.9zM342.7 271.3h.9v.9h-.9zM308.3 278.1h.9v.9h-.9zM314.7 255.3h.9v.9h-.9zM384.3 268.5h.9v.9h-.9zM339.3 231.0h.9v.9h-.9zM340.3 254.2h.9v.9h-.9zM331.9 275.9h.9v.9h-.9zM322.8 286.2h.9v.9h-.9zM339.3 262.0h.9v.9h-.9zM329.4 261.0h.9v.9h-.9zM375.6 263.2h.9v.9h-.9zM310.3 248.1h.9v.9h-.9zM370.5 267.7h.9v.9h-.9zM314.4 257.7h.9v.9h-.9zM340.7 268.1h.9v.9h-.9zM311.4 261.0h.9v.9h-.9zM302.0 248.0h.9v.9h-.9zM331.7 279.7h.9v.9h-.9zM335.6 284.3h.9v.9h-.9zM348.7 278.8h.9v.9h-.9zM333.7 232.7h.9v.9h-.9zM277.4 253.1h.9v.9h-.9zM387.5 257.2h.9v.9h-.9zM324.1 268.7h.9v.9h-.9zM327.7 253.9h.9v.9h-.9zM343.5 265.5h.9v.9h-.9zM321.8 247.4h.9v.9h-.9zM382.7 246.6h.9v.9h-.9zM313.0 256.8h.9v.9h-.9zM334.1 263.9h.9v.9h-.9zM381.5 279.0h.9v.9h-.9zM336.9 261.3h.9v.9h-.9zM365.2 257.7h.9v.9h-.9zM342.8 243.2h.9v.9h-.9zM349.2 258.3h.9v.9h-.9zM298.1 263.1h.9v.9h-.9zM399.8 264.6h.9v.9h-.9zM315.8 278.7h.9v.9h-.9zM348.0 262.4h.9v.9h-.9zM380.3 273.2h.9v.9h-.9zM396.2 247.6h.9v.9h-.9zM326.0 258.2h.9v.9h-.9zM343.7 241.9h.9v.9h-.9zM346.0 238.7h.9v.9h-.9zM322.3 255.8h.9v.9h-.9zM345.2 264.3h.9v.9h-.9zM316.9 264.6h.9v.9h-.9zM346.5 258.2h.9v.9h-.9zM338.8 251.9h.9v.9h-.9zM388.5 280.0h.9v.9h-.9zM345.1 279.3h.9v.9h-.9zM313.7 251.8h.9v.9h-.9zM328.9 266.2h.9v.9h-.9zM329.0 245.9h.9v.9h-.9zM296.3 243.1h.9v.9h-.9zM364.1 266.7h.9v.9h-.9zM298.9 287.3h.9v.9h-.9zM324.6 252.7h.9v.9h-.9zM333.4 260.2h.9v.9h-.9zM327.4 259.0h.9v.9h-.9zM359.6 273.1h.9v.9h-.9zM319.2 257.0h.9v.9h-.9zM317.0 253.0h.9v.9h-.9zM335.3 254.8h.9v.9h-.9zM354.6 245.8h.9v.9h-.9zM348.8 270.5h.9v.9h-.9zM329.3 254.7h.9v.9h-.9zM354.9 253.9h.9v.9h-.9zM328.8 262.6h.9v.9h-.9zM269.2 269.9h.9v.9h-.9zM344.8 268.2h.9v.9h-.9zM299.7 253.3h.9v.9h-.9zM350.3 267.8h.9v.9h-.9zM321.6 252.7h.9v.9h-.9zM380.5 263.5h.9v.9h-.9zM372.4 239.5h.9v.9h-.9zM349.9 251.3h.9v.9h-.9zM324.1 278.4h.9v.9h-.9zM308.7 245.5h.9v.9h-.9zM318.7 255.9h.9v.9h-.9zM338.9 265.8h.9v.9h-.9zM372.6 266.5h.9v.9h-.9zM387.1 275.3h.9v.9h-.9zM353.2 257.4h.9v.9h-.9zM376.3 255.0h.9v.9h-.9zM365.5 260.0h.9v.9h-.9zM322.5 269.4h.9v.9h-.9zM357.1 264.1h.9v.9h-.9zM368.4 261.3h.9v.9h-.9zM317.8 260.8h.9v.9h-.9zM389.8 245.2h.9v.9h-.9zM287.6 259.6h.9v.9h-.9zM309.7 279.5h.9v.9h-.9zM342.5 245.7h.9v.9h-.9zM336.4 245.6h.9v.9h-.9zM351.5 273.3h.9v.9h-.9zM371.7 275.1h.9v.9h-.9zM337.6 277.1h.9v.9h-.9zM351.6 240.6h.9v.9h-.9zM375.8 246.4h.9v.9h-.9zM321.8 236.4h.9v.9h-.9zM315.1 228.2h.9v.9h-.9zM303.9 247.2h.9v.9h-.9zM305.1 253.8h.9v.9h-.9zM360.1 254.9h.9v.9h-.9zM350.1 276.0h.9v.9h-.9zM321.3 281.5h.9v.9h-.9zM336.8 258.8h.9v.9h-.9zM347.9 279.7h.9v.9h-.9zM304.4 273.2h.9v.9h-.9zM324.6 260.9h.9v.9h-.9zM310.0 222.0h.9v.9h-.9zM370.5 270.8h.9v.9h-.9zM308.8 246.0h.9v.9h-.9zM304.7 258.9h.9v.9h-.9zM394.7 257.5h.9v.9h-.9zM291.0 270.5h.9v.9h-.9zM312.9 235.9h.9v.9h-.9zM348.8 259.4h.9v.9h-.9zM342.8 270.1h.9v.9h-.9zM364.6 228.6h.9v.9h-.9zM342.8 276.6h.9v.9h-.9zM372.5 244.1h.9v.9h-.9zM287.4 243.0h.9v.9h-.9zM348.9 256.5h.9v.9h-.9zM360.7 256.8h.9v.9h-.9zM302.8 243.0h.9v.9h-.9zM331.5 271.8h.9v.9h-.9zM379.1 244.6h.9v.9h-.9zM350.3 258.5h.9v.9h-.9zM305.8 242.0h.9v.9h-.9zM381.3 253.0h.9v.9h-.9zM335.6 266.3h.9v.9h-.9zM348.1 269.8h.9v.9h-.9zM315.7 253.8h.9v.9h-.9zM345.1 264.6h.9v.9h-.9zM317.7 234.2h.9v.9h-.9zM362.0 272.1h.9v.9h-.9zM364.3 257.7h.9v.9h-.9zM288.1 253.6h.9v.9h-.9zM394.3 264.0h.9v.9h-.9zM345.0 235.3h.9v.9h-.9zM320.0 274.1h.9v.9h-.9zM347.3 257.6h.9v.9h-.9zM372.8 270.1h.9v.9h-.9zM353.2 257.0h.9v.9h-.9zM349.7 274.9h.9v.9h-.9zM346.7 240.8h.9v.9h-.9zM333.1 255.4h.9v.9h-.9zM349.6 278.4h.9v.9h-.9zM336.1 253.0h.9v.9h-.9zM358.5 266.5h.9v.9h-.9zM316.3 266.4h.9v.9h-.9zM343.3 264.7h.9v.9h-.9zM295.6 230.1h.9v.9h-.9zM296.2 234.4h.9v.9h-.9zM365.1 274.3h.9v.9h-.9zM302.1 281.3h.9v.9h-.9zM306.5 247.5h.9v.9h-.9zM398.1 240.3h.9v.9h-.9zM357.5 271.7h.9v.9h-.9zM368.9 269.3h.9v.9h-.9zM345.0 282.4h.9v.9h-.9zM335.8 261.0h.9v.9h-.9zM349.1 254.5h.9v.9h-.9zM334.1 277.6h.9v.9h-.9zM383.1 268.6h.9v.9h-.9zM335.1 252.2h.9v.9h-.9zM327.3 254.1h.9v.9h-.9zM325.8 258.2h.9v.9h-.9zM331.9 275.6h.9v.9h-.9zM298.8 253.5h.9v.9h-.9zM360.7 253.5h.9v.9h-.9zM326.7 267.8h.9v.9h-.9zM335.9 245.2h.9v.9h-.9zM342.3 269.0h.9v.9h-.9zM291.2 273.2h.9v.9h-.9zM290.5 269.9h.9v.9h-.9zM301.6 263.0h.9v.9h-.9zM337.0 274.9h.9v.9h-.9zM336.1 253.3h.9v.9h-.9zM317.5 262.8h.9v.9h-.9zM331.6 272.7h.9v.9h-.9zM349.8 278.1h.9v.9h-.9zM358.0 262.3h.9v.9h-.9zM336.5 268.9h.9v.9h-.9zM359.6 239.8h.9v.9h-.9zM349.4 254.3h.9v.9h-.9zM347.3 271.5h.9v.9h-.9zM285.0 258.0h.9v.9h-.9zM366.1 233.9h.9v.9h-.9zM344.6 259.9h.9v.9h-.9zM322.7 273.1h.9v.9h-.9zM364.0 260.1h.9v.9h-.9zM377.6 281.5h.9v.9h-.9zM344.0 272.2h.9v.9h-.9zM362.7 285.4h.9v.9h-.9zM360.9 270.0h.9v.9h-.9zM341.9 270.6h.9v.9h-.9zM382.3 258.7h.9v.9h-.9zM335.8 245.5h.9v.9h-.9zM409.9 254.0h.9v.9h-.9zM324.8 251.4h.9v.9h-.9zM371.5 265.2h.9v.9h-.9zM282.4 262.0h.9v.9h-.9zM389.6 259.2h.9v.9h-.9zM342.0 302.8h.9v.9h-.9zM332.1 256.8h.9v.9h-.9zM356.5 296.0h.9v.9h-.9zM351.0 235.9h.9v.9h-.9zM334.8 256.7h.9v.9h-.9zM359.7 254.6h.9v.9h-.9zM342.7 241.0h.9v.9h-.9zM303.9 260.9h.9v.9h-.9zM384.4 245.6h.9v.9h-.9zM294.8 277.6h.9v.9h-.9zM349.8 271.9h.9v.9h-.9zM334.3 263.7h.9v.9h-.9zM336.5 260.1h.9v.9h-.9zM388.7 254.1h.9v.9h-.9zM328.1 260.2h.9v.9h-.9zM334.0 285.2h.9v.9h-.9zM334.6 265.9h.9v.9h-.9zM305.0 268.2h.9v.9h-.9zM357.1 269.9h.9v.9h-.9zM294.6 250.9h.9v.9h-.9zM266.0 285.0h.9v.9h-.9zM336.3 284.5h.9v.9h-.9zM392.6 275.4h.9v.9h-.9zM321.4 256.9h.9v.9h-.9zM361.0 231.0h.9v.9h-.9zM377.7 282.1h.9v.9h-.9zM363.4 255.9h.9v.9h-.9zM349.2 236.3h.9v.9h-.9zM312.7 253.4h.9v.9h-.9zM318.1 285.0h.9v.9h-.9zM351.8 224.1h.9v.9h-.9zM371.1 267.6h.9v.9h-.9zM332.6 249.4h.9v.9h-.9zM396.8 263.7h.9v.9h-.9zM346.5 236.2h.9v.9h-.9zM323.1 273.5h.9v.9h-.9zM342.8 253.4h.9v.9h-.9zM330.5 236.3h.9v.9h-.9zM270.7 268.1h.9v.9h-.9zM298.7 236.6h.9v.9h-.9zM347.8 273.9h.9v.9h-.9zM329.4 276.5h.9v.9h-.9zM340.2 213.3h.9v.9h-.9zM384.3 243.8h.9v.9h-.9zM383.0 255.8h.9v.9h-.9zM337.0 253.0h.9v.9h-.9zM310.9 269.0h.9v.9h-.9zM385.6 279.3h.9v.9h-.9zM323.4 267.5h.9v.9h-.9zM368.3 268.7h.9v.9h-.9zM302.7 290.7h.9v.9h-.9zM318.3 247.6h.9v.9h-.9zM342.9 263.5h.9v.9h-.9zM323.4 240.4h.9v.9h-.9zM304.8 260.1h.9v.9h-.9zM286.4 276.9h.9v.9h-.9zM357.1 263.2h.9v.9h-.9zM344.7 246.9h.9v.9h-.9zM323.4 273.4h.9v.9h-.9zM324.5 283.8h.9v.9h-.9zM367.4 270.3h.9v.9h-.9zM332.3 246.1h.9v.9h-.9zM334.6 245.6h.9v.9h-.9zM328.7 254.6h.9v.9h-.9zM323.2 277.0h.9v.9h-.9zM314.1 248.7h.9v.9h-.9zM371.9 263.8h.9v.9h-.9zM352.8 250.6h.9v.9h-.9zM348.1 279.7h.9v.9h-.9zM339.5 266.4h.9v.9h-.9zM373.0 268.9h.9v.9h-.9zM373.5 242.1h.9v.9h-.9zM289.8 243.2h.9v.9h-.9zM350.8 249.8h.9v.9h-.9zM282.6 287.0h.9v.9h-.9zM375.5 251.9h.9v.9h-.9zM320.4 249.5h.9v.9h-.9zM359.1 266.7h.9v.9h-.9zM342.8 280.6h.9v.9h-.9zM315.9 242.0h.9v.9h-.9zM338.9 259.2h.9v.9h-.9zM341.5 266.1h.9v.9h-.9zM295.6 283.7h.9v.9h-.9zM288.8 264.9h.9v.9h-.9zM348.7 272.3h.9v.9h-.9zM345.0 247.6h.9v.9h-.9zM333.3 239.4h.9v.9h-.9zM334.2 256.5h.9v.9h-.9zM286.4 292.9h.9v.9h-.9zM322.0 268.1h.9v.9h-.9zM375.4 259.4h.9v.9h-.9zM327.3 243.2h.9v.9h-.9zM318.1 249.1h.9v.9h-.9zM334.4 271.8h.9v.9h-.9zM344.1 282.4h.9v.9h-.9zM349.9 263.4h.9v.9h-.9zM253.2 257.5h.9v.9h-.9zM346.2 237.6h.9v.9h-.9zM337.0 249.3h.9v.9h-.9zM332.7 259.3h.9v.9h-.9zM330.9 259.0h.9v.9h-.9zM348.6 264.6h.9v.9h-.9zM320.0 273.6h.9v.9h-.9zM340.2 265.4h.9v.9h-.9zM387.5 284.9h.9v.9h-.9zM399.7 256.4h.9v.9h-.9zM350.3 267.1h.9v.9h-.9zM341.6 257.7h.9v.9h-.9zM362.1 277.0h.9v.9h-.9zM400.2 251.9h.9v.9h-.9zM351.7 248.6h.9v.9h-.9zM331.2 224.5h.9v.9h-.9zM398.1 236.0h.9v.9h-.9zM341.8 233.2h.9v.9h-.9zM329.3 244.5h.9v.9h-.9zM280.2 244.2h.9v.9h-.9zM332.3 258.0h.9v.9h-.9zM284.4 269.3h.9v.9h-.9zM329.8 242.9h.9v.9h-.9zM381.1 249.4h.9v.9h-.9zM345.0 282.5h.9v.9h-.9zM340.2 258.2h.9v.9h-.9zM365.5 253.4h.9v.9h-.9zM340.6 257.6h.9v.9h-.9zM327.9 271.1h.9v.9h-.9zM346.3 281.0h.9v.9h-.9zM349.5 238.7h.9v.9h-.9zM349.6 255.5h.9v.9h-.9zM331.5 274.3h.9v.9h-.9zM350.2 235.8h.9v.9h-.9zM394.7 257.7h.9v.9h-.9zM292.9 254.8h.9v.9h-.9zM352.1 243.0h.9v.9h-.9zM314.4 233.0h.9v.9h-.9zM346.1 251.9h.9v.9h-.9zM381.1 263.9h.9v.9h-.9zM345.3 250.6h.9v.9h-.9zM365.9 239.2h.9v.9h-.9zM346.3 267.0h.9v.9h-.9zM316.6 242.0h.9v.9h-.9zM370.8 287.2h.9v.9h-.9zM349.4 287.2h.9v.9h-.9zM351.4 257.0h.9v.9h-.9zM327.3 241.4h.9v.9h-.9zM364.1 251.3h.9v.9h-.9zM320.6 265.2h.9v.9h-.9zM352.0 248.7h.9v.9h-.9zM344.3 257.4h.9v.9h-.9zM342.2 257.6h.9v.9h-.9zM326.6 223.3h.9v.9h-.9zM321.7 277.6h.9v.9h-.9zM329.2 262.3h.9v.9h-.9zM355.3 244.7h.9v.9h-.9zM340.4 255.7h.9v.9h-.9zM348.5 268.8h.9v.9h-.9zM340.5 256.5h.9v.9h-.9zM365.0 261.5h.9v.9h-.9zM297.0 278.5h.9v.9h-.9zM351.1 250.9h.9v.9h-.9zM336.7 245.4h.9v.9h-.9zM342.2 237.6h.9v.9h-.9zM366.5 266.7h.9v.9h-.9zM310.5 267.2h.9v.9h-.9zM297.7 251.7h.9v.9h-.9zM310.3 270.0h.9v.9h-.9zM357.8 239.5h.9v.9h-.9zM343.3 267.2h.9v.9h-.9zM328.7 296.0h.9v.9h-.9zM294.3 279.6h.9v.9h-.9zM380.3 254.4h.9v.9h-.9zM306.5 277.7h.9v.9h-.9zM268.9 259.1h.9v.9h-.9zM298.2 259.3h.9v.9h-.9zM322.2 240.1h.9v.9h-.9zM353.8 277.0h.9v.9h-.9zM299.9 269.4h.9v.9h-.9zM340.9 249.4h.9v.9h-.9zM323.3 267.9h.9v.9h-.9zM369.6 255.3h.9v.9h-.9zM269.1 271.5h.9v.9h-.9zM349.3 230.4h.9v.9h-.9zM323.4 259.3h.9v.9h-.9zM329.9 264.0h.9v.9h-.9zM313.2 269.2h.9v.9h-.9zM261.1 264.8h.9v.9h-.9zM321.5 257.7h.9v.9h-.9zM356.3 279.9h.9v.9h-.9zM309.4 258.0h.9v.9h-.9zM309.3 260.1h.9v.9h-.9zM321.6 241.4h.9v.9h-.9zM369.2 264.8h.9v.9h-.9zM338.0 279.3h.9v.9h-.9zM291.9 265.4h.9v.9h-.9zM382.9 254.0h.9v.9h-.9zM313.4 247.5h.9v.9h-.9zM372.4 275.3h.9v.9h-.9zM347.0 273.3h.9v.9h-.9zM319.0 253.6h.9v.9h-.9zM361.0 245.2h.9v.9h-.9zM343.9 259.0h.9v.9h-.9zM313.9 262.4h.9v.9h-.9zM301.9 249.7h.9v.9h-.9zM282.2 240.3h.9v.9h-.9zM312.9 264.7h.9v.9h-.9zM337.9 240.4h.9v.9h-.9zM330.5 293.1h.9v.9h-.9zM339.7 265.4h.9v.9h-.9zM278.2 251.7h.9v.9h-.9zM369.5 237.7h.9v.9h-.9zM312.3 248.0h.9v.9h-.9zM333.7 268.2h.9v.9h-.9zM288.4 269.5h.9v.9h-.9zM263.4 245.4h.9v.9h-.9zM348.8 241.6h.9v.9h-.9zM313.5 251.0h.9v.9h-.9zM382.2 243.8h.9v.9h-.9zM364.2 288.6h.9v.9h-.9zM326.3 246.8h.9v.9h-.9zM337.0 243.8h.9v.9h-.9zM326.5 242.8h.9v.9h-.9zM295.1 234.7h.9v.9h-.9zM362.7 248.6h.9v.9h-.9zM304.3 275.0h.9v.9h-.9zM331.8 253.7h.9v.9h-.9zM315.4 258.8h.9v.9h-.9zM327.9 252.2h.9v.9h-.9zM331.7 270.4h.9v.9h-.9zM331.1 278.5h.9v.9h-.9zM364.2 243.2h.9v.9h-.9zM309.3 239.3h.9v.9h-.9zM315.1 269.5h.9v.9h-.9zM326.9 251.2h.9v.9h-.9zM339.3 225.7h.9v.9h-.9zM345.5 255.8h.9v.9h-.9zM355.2 254.1h.9v.9h-.9zM364.5 274.7h.9v.9h-.9zM328.0 267.2h.9v.9h-.9zM311.0 247.8h.9v.9h-.9zM305.4 255.4h.9v.9h-.9zM301.9 242.1h.9v.9h-.9zM330.0 236.4h.9v.9h-.9zM352.8 244.6h.9v.9h-.9zM329.2 253.9h.9v.9h-.9zM364.8 267.6h.9v.9h-.9zM329.4 249.5h.9v.9h-.9zM360.4 256.4h.9v.9h-.9zM306.6 260.4h.9v.9h-.9zM353.9 257.9h.9v.9h-.9zM337.6 280.8h.9v.9h-.9zM321.4 270.0h.9v.9h-.9zM380.3 284.1h.9v.9h-.9zM303.6 266.5h.9v.9h-.9zM340.0 294.6h.9v.9h-.9zM372.1 273.8h.9v.9h-.9zM369.6 266.9h.9v.9h-.9zM306.8 292.3h.9v.9h-.9zM288.4 270.2h.9v.9h-.9zM358.2 261.5h.9v.9h-.9zM364.8 258.3h.9v.9h-.9zM359.1 262.3h.9v.9h-.9zM315.7 273.4h.9v.9h-.9zM320.4 268.2h.9v.9h-.9zM306.9 262.2h.9v.9h-.9zM351.8 276.0h.9v.9h-.9zM305.6 250.4h.9v.9h-.9zM336.1 243.1h.9v.9h-.9zM353.4 294.4h.9v.9h-.9zM355.6 268.1h.9v.9h-.9zM313.0 267.2h.9v.9h-.9zM351.5 288.4h.9v.9h-.9zM326.6 277.4h.9v.9h-.9zM326.5 254.5h.9v.9h-.9zM324.4 262.9h.9v.9h-.9zM294.3 253.1h.9v.9h-.9zM378.4 231.3h.9v.9h-.9zM361.5 270.4h.9v.9h-.9zM324.4 246.9h.9v.9h-.9zM368.7 253.5h.9v.9h-.9zM345.1 255.4h.9v.9h-.9zM304.9 274.4h.9v.9h-.9zM355.1 244.6h.9v.9h-.9zM367.8 239.8h.9v.9h-.9zM300.4 271.7h.9v.9h-.9zM324.4 258.7h.9v.9h-.9zM381.6 242.4h.9v.9h-.9zM354.0 252.6h.9v.9h-.9zM339.3 255.4h.9v.9h-.9zM314.2 259.5h.9v.9h-.9zM310.5 259.0h.9v.9h-.9zM309.6 254.6h.9v.9h-.9zM340.3 237.6h.9v.9h-.9zM334.8 269.3h.9v.9h-.9zM339.9 272.8h.9v.9h-.9zM308.5 267.6h.9v.9h-.9zM345.5 217.1h.9v.9h-.9zM336.4 272.0h.9v.9h-.9zM334.7 259.3h.9v.9h-.9zM332.9 256.4h.9v.9h-.9zM307.1 248.4h.9v.9h-.9zM274.6 290.3h.9v.9h-.9zM336.0 262.1h.9v.9h-.9zM354.3 266.4h.9v.9h-.9zM334.5 235.0h.9v.9h-.9zM302.8 284.2h.9v.9h-.9zM348.5 268.7h.9v.9h-.9zM306.8 251.5h.9v.9h-.9zM344.0 247.0h.9v.9h-.9zM370.3 247.2h.9v.9h-.9zM324.4 241.3h.9v.9h-.9zM346.6 278.3h.9v.9h-.9zM342.6 258.6h.9v.9h-.9zM326.4 270.8h.9v.9h-.9zM336.5 285.3h.9v.9h-.9zM329.0 253.0h.9v.9h-.9zM321.8 230.0h.9v.9h-.9zM343.0 260.7h.9v.9h-.9zM291.6 241.1h.9v.9h-.9zM306.4 254.0h.9v.9h-.9zM307.8 270.2h.9v.9h-.9zM370.2 248.9h.9v.9h-.9zM337.2 242.7h.9v.9h-.9zM373.7 242.3h.9v.9h-.9zM314.3 258.8h.9v.9h-.9zM313.7 299.1h.9v.9h-.9zM331.1 255.1h.9v.9h-.9zM308.7 257.4h.9v.9h-.9zM319.4 252.4h.9v.9h-.9zM364.5 249.8h.9v.9h-.9zM348.3 249.3h.9v.9h-.9zM364.8 247.3h.9v.9h-.9zM309.3 255.0h.9v.9h-.9zM371.7 252.6h.9v.9h-.9zM312.0 256.4h.9v.9h-.9zM316.6 262.6h.9v.9h-.9zM317.4 263.5h.9v.9h-.9zM361.6 266.1h.9v.9h-.9zM378.7 263.3h.9v.9h-.9zM388.3 277.8h.9v.9h-.9zM328.9 270.4h.9v.9h-.9zM315.9 255.7h.9v.9h-.9zM334.1 246.9h.9v.9h-.9zM345.2 257.4h.9v.9h-.9zM392.3 270.3h.9v.9h-.9zM329.7 248.6h.9v.9h-.9zM321.5 248.4h.9v.9h-.9zM315.6 258.9h.9v.9h-.9zM298.8 254.1h.9v.9h-.9zM350.2 250.0h.9v.9h-.9zM305.2 251.2h.9v.9h-.9zM360.5 247.3h.9v.9h-.9zM380.0 233.8h.9v.9h-.9zM314.0 267.8h.9v.9h-.9zM374.2 255.7h.9v.9h-.9zM290.3 254.5h.9v.9h-.9zM311.2 248.4h.9v.9h-.9zM326.1 249.7h.9v.9h-.9zM335.3 260.9h.9v.9h-.9zM328.4 232.0h.9v.9h-.9zM331.5 219.6h.9v.9h-.9zM338.5 252.4h.9v.9h-.9zM310.6 290.0h.9v.9h-.9zM382.8 278.7h.9v.9h-.9zM342.6 251.4h.9v.9h-.9zM349.4 283.1h.9v.9h-.9zM334.1 256.5h.9v.9h-.9zM320.2 257.7h.9v.9h-.9zM359.9 245.1h.9v.9h-.9zM366.0 260.8h.9v.9h-.9zM398.8 261.6h.9v.9h-.9zM371.8 244.0h.9v.9h-.9zM404.0 260.0h.9v.9h-.9zM334.4 281.2h.9v.9h-.9zM341.0 240.4h.9v.9h-.9zM353.7 267.0h.9v.9h-.9zM336.3 251.8h.9v.9h-.9zM291.7 283.9h.9v.9h-.9zM324.5 264.2h.9v.9h-.9zM322.8 248.2h.9v.9h-.9zM344.6 245.6h.9v.9h-.9zM362.9 234.8h.9v.9h-.9zM353.4 276.5h.9v.9h-.9zM324.5 262.1h.9v.9h-.9zM359.9 252.3h.9v.9h-.9zM330.5 256.1h.9v.9h-.9zM412.8 246.7h.9v.9h-.9zM332.0 252.2h.9v.9h-.9zM321.6 245.1h.9v.9h-.9zM318.6 261.3h.9v.9h-.9zM369.3 283.1h.9v.9h-.9zM301.2 244.4h.9v.9h-.9zM336.1 244.3h.9v.9h-.9zM315.4 255.6h.9v.9h-.9zM321.3 246.3h.9v.9h-.9zM342.9 247.3h.9v.9h-.9zM329.5 263.7h.9v.9h-.9zM356.9 262.0h.9v.9h-.9zM367.3 261.2h.9v.9h-.9zM295.9 280.8h.9v.9h-.9zM416.3 271.0h.9v.9h-.9zM381.6 275.4h.9v.9h-.9zM324.8 268.3h.9v.9h-.9zM317.8 250.5h.9v.9h-.9zM352.7 260.3h.9v.9h-.9zM318.8 237.9h.9v.9h-.9zM359.4 259.0h.9v.9h-.9zM341.1 245.9h.9v.9h-.9zM315.5 258.3h.9v.9h-.9zM285.3 277.0h.9v.9h-.9zM337.7 275.3h.9v.9h-.9zM363.8 250.6h.9v.9h-.9zM351.3 242.4h.9v.9h-.9zM311.8 278.9h.9v.9h-.9zM322.3 247.5h.9v.9h-.9zM350.3 259.4h.9v.9h-.9zM364.2 240.1h.9v.9h-.9zM330.1 243.0h.9v.9h-.9zM337.9 255.0h.9v.9h-.9zM311.0 233.1h.9v.9h-.9zM299.5 272.9h.9v.9h-.9zM326.9 242.8h.9v.9h-.9zM342.1 242.4h.9v.9h-.9zM362.8 272.0h.9v.9h-.9zM338.3 250.5h.9v.9h-.9zM286.4 266.3h.9v.9h-.9zM393.6 262.0h.9v.9h-.9zM322.2 271.0h.9v.9h-.9zM326.4 240.9h.9v.9h-.9zM334.2 268.0h.9v.9h-.9zM286.4 274.6h.9v.9h-.9zM382.5 258.7h.9v.9h-.9zM323.8 237.9h.9v.9h-.9zM352.2 254.9h.9v.9h-.9zM371.1 282.3h.9v.9h-.9zM371.8 261.8h.9v.9h-.9zM286.6 278.7h.9v.9h-.9zM323.8 251.9h.9v.9h-.9zM367.1 266.2h.9v.9h-.9zM308.2 254.1h.9v.9h-.9zM329.3 256.9h.9v.9h-.9zM304.5 281.3h.9v.9h-.9zM333.6 268.9h.9v.9h-.9zM366.7 291.4h.9v.9h-.9zM357.4 248.3h.9v.9h-.9zM325.1 272.1h.9v.9h-.9zM383.3 237.4h.9v.9h-.9zM390.7 250.8h.9v.9h-.9zM332.1 252.7h.9v.9h-.9zM353.8 256.3h.9v.9h-.9zM336.2 245.4h.9v.9h-.9zM377.9 264.5h.9v.9h-.9zM336.2 290.9h.9v.9h-.9zM355.5 279.7h.9v.9h-.9zM330.0 261.3h.9v.9h-.9zM333.2 272.1h.9v.9h-.9zM345.5 234.0h.9v.9h-.9zM353.5 255.9h.9v.9h-.9zM344.5 273.6h.9v.9h-.9zM329.9 268.7h.9v.9h-.9zM338.0 257.9h.9v.9h-.9zM323.4 257.6h.9v.9h-.9zM329.0 271.0h.9v.9h-.9zM273.6 267.8h.9v.9h-.9zM335.4 243.7h.9v.9h-.9zM359.4 258.8h.9v.9h-.9zM353.1 279.2h.9v.9h-.9zM343.6 235.6h.9v.9h-.9zM293.2 258.4h.9v.9h-.9zM304.1 291.2h.9v.9h-.9zM335.0 232.6h.9v.9h-.9zM277.3 251.2h.9v.9h-.9zM270.5 266.5h.9v.9h-.9zM273.5 272.3h.9v.9h-.9zM324.1 276.0h.9v.9h-.9zM305.1 252.5h.9v.9h-.9zM368.1 235.3h.9v.9h-.9zM356.2 280.8h.9v.9h-.9zM309.9 257.0h.9v.9h-.9zM383.8 281.4h.9v.9h-.9zM382.8 257.8h.9v.9h-.9zM327.5 256.8h.9v.9h-.9zM327.2 271.6h.9v.9h-.9zM361.2 267.0h.9v.9h-.9zM318.7 271.0h.9v.9h-.9zM351.5 262.8h.9v.9h-.9zM372.0 253.8h.9v.9h-.9zM341.3 275.8h.9v.9h-.9zM316.9 272.6h.9v.9h-.9zM358.4 281.7h.9v.9h-.9zM373.9 250.9h.9v.9h-.9zM387.8 252.6h.9v.9h-.9zM304.9 255.3h.9v.9h-.9zM328.3 246.1h.9v.9h-.9zM365.2 267.1h.9v.9h-.9zM355.1 239.0h.9v.9h-.9zM388.8 266.5h.9v.9h-.9zM370.4 264.8h.9v.9h-.9zM348.4 270.9h.9v.9h-.9zM342.6 280.1h.9v.9h-.9zM323.8 229.3h.9v.9h-.9zM328.1 259.3h.9v.9h-.9zM349.5 261.0h.9v.9h-.9zM350.1 266.2h.9v.9h-.9zM333.4 267.7h.9v.9h-.9zM353.6 248.1h.9v.9h-.9zM289.3 262.9h.9v.9h-.9zM352.0 275.5h.9v.9h-.9zM369.2 263.9h.9v.9h-.9zM370.6 251.0h.9v.9h-.9zM325.2 279.6h.9v.9h-.9zM305.1 259.3h.9v.9h-.9zM309.1 241.6h.9v.9h-.9zM397.3 233.4h.9v.9h-.9zM387.6 252.9h.9v.9h-.9zM317.4 235.0h.9v.9h-.9zM344.4 268.8h.9v.9h-.9zM354.5 246.1h.9v.9h-.9zM383.9 262.7h.9v.9h-.9zM352.9 268.4h.9v.9h-.9zM354.0 254.9h.9v.9h-.9zM348.2 249.0h.9v.9h-.9zM345.5 245.4h.9v.9h-.9zM298.7 250.8h.9v.9h-.9zM334.2 249.5h.9v.9h-.9zM330.0 251.5h.9v.9h-.9zM339.6 285.5h.9v.9h-.9zM354.6 272.2h.9v.9h-.9zM365.9 272.5h.9v.9h-.9zM350.0 272.2h.9v.9h-.9zM368.1 257.3h.9v.9h-.9zM330.8 259.5h.9v.9h-.9zM336.9 266.6h.9v.9h-.9zM326.2 253.6h.9v.9h-.9zM344.9 267.0h.9v.9h-.9zM335.6 237.7h.9v.9h-.9zM331.6 272.1h.9v.9h-.9zM332.2 278.1h.9v.9h-.9zM324.5 256.1h.9v.9h-.9zM360.4 276.8h.9v.9h-.9zM330.3 281.3h.9v.9h-.9zM343.7 265.6h.9v.9h-.9zM388.0 272.1h.9v.9h-.9zM332.6 258.8h.9v.9h-.9zM313.5 276.2h.9v.9h-.9zM348.3 287.3h.9v.9h-.9zM372.2 260.1h.9v.9h-.9zM321.9 255.1h.9v.9h-.9zM373.1 258.0h.9v.9h-.9zM370.0 277.9h.9v.9h-.9zM379.7 263.5h.9v.9h-.9zM358.3 241.1h.9v.9h-.9zM348.1 260.3h.9v.9h-.9zM364.2 234.1h.9v.9h-.9zM330.1 293.7h.9v.9h-.9zM343.2 252.9h.9v.9h-.9zM341.5 257.9h.9v.9h-.9zM329.3 268.7h.9v.9h-.9zM346.2 276.6h.9v.9h-.9zM407.7 270.6h.9v.9h-.9zM348.5 281.5h.9v.9h-.9zM300.7 286.4h.9v.9h-.9zM307.6 253.0h.9v.9h-.9zM340.4 240.3h.9v.9h-.9zM321.5 262.3h.9v.9h-.9zM350.1 239.4h.9v.9h-.9zM256.6 269.6h.9v.9h-.9zM293.1 265.0h.9v.9h-.9zM351.7 271.6h.9v.9h-.9zM323.3 251.0h.9v.9h-.9zM423.4 258.4h.9v.9h-.9zM310.7 240.6h.9v.9h-.9zM331.6 285.1h.9v.9h-.9zM357.9 246.7h.9v.9h-.9zM300.6 250.8h.9v.9h-.9zM338.1 264.1h.9v.9h-.9zM352.1 276.2h.9v.9h-.9zM302.0 237.1h.9v.9h-.9zM336.1 268.5h.9v.9h-.9zM323.4 263.8h.9v.9h-.9zM336.2 276.9h.9v.9h-.9zM332.7 253.0h.9v.9h-.9zM352.6 274.5h.9v.9h-.9zM320.7 258.3h.9v.9h-.9zM318.7 243.2h.9v.9h-.9zM405.6 250.9h.9v.9h-.9zM329.6 254.9h.9v.9h-.9zM315.9 257.8h.9v.9h-.9zM336.0 265.4h.9v.9h-.9zM323.2 239.1h.9v.9h-.9zM334.9 270.2h.9v.9h-.9zM373.5 258.6h.9v.9h-.9zM331.2 248.8h.9v.9h-.9zM379.7 251.0h.9v.9h-.9zM324.4 259.1h.9v.9h-.9zM332.2 260.8h.9v.9h-.9zM350.1 284.9h.9v.9h-.9zM352.5 266.0h.9v.9h-.9zM298.1 292.5h.9v.9h-.9zM352.9 272.9h.9v.9h-.9zM329.6 258.6h.9v.9h-.9zM328.2 257.3h.9v.9h-.9zM327.5 271.5h.9v.9h-.9zM368.1 259.2h.9v.9h-.9zM330.4 272.3h.9v.9h-.9zM332.8 268.0h.9v.9h-.9zM320.7 280.6h.9v.9h-.9zM325.9 268.2h.9v.9h-.9zM385.9 265.8h.9v.9h-.9zM331.4 270.9h.9v.9h-.9zM380.7 227.2h.9v.9h-.9zM327.9 257.7h.9v.9h-.9zM362.4 237.7h.9v.9h-.9zM360.9 260.8h.9v.9h-.9zM354.2 244.8h.9v.9h-.9zM374.1 298.4h.9v.9h-.9zM342.2 268.7h.9v.9h-.9zM309.8 218.0h.9v.9h-.9zM336.5 256.6h.9v.9h-.9zM357.3 260.8h.9v.9h-.9zM301.9 226.8h.9v.9h-.9zM369.1 274.3h.9v.9h-.9zM334.9 256.2h.9v.9h-.9zM357.9 252.0h.9v.9h-.9zM303.0 278.4h.9v.9h-.9zM300.2 253.9h.9v.9h-.9zM374.5 266.9h.9v.9h-.9zM368.9 282.0h.9v.9h-.9zM344.1 238.0h.9v.9h-.9zM291.0 227.1h.9v.9h-.9zM359.2 238.6h.9v.9h-.9zM335.2 261.3h.9v.9h-.9zM348.2 259.5h.9v.9h-.9zM374.3 264.9h.9v.9h-.9zM368.4 258.7h.9v.9h-.9zM339.4 262.4h.9v.9h-.9zM352.0 271.6h.9v.9h-.9zM325.1 269.2h.9v.9h-.9zM415.7 219.8h.9v.9h-.9zM356.3 258.2h.9v.9h-.9zM332.5 251.0h.9v.9h-.9zM305.9 263.7h.9v.9h-.9zM318.5 283.6h.9v.9h-.9zM347.6 286.0h.9v.9h-.9zM342.0 238.5h.9v.9h-.9zM350.6 263.0h.9v.9h-.9zM362.4 224.0h.9v.9h-.9zM340.7 281.7h.9v.9h-.9zM340.8 229.3h.9v.9h-.9zM350.4 267.2h.9v.9h-.9zM377.7 268.4h.9v.9h-.9zM310.8 277.6h.9v.9h-.9zM358.4 277.9h.9v.9h-.9zM333.7 275.5h.9v.9h-.9zM280.1 239.7h.9v.9h-.9zM355.6 284.0h.9v.9h-.9zM354.6 262.4h.9v.9h-.9zM334.2 253.6h.9v.9h-.9zM369.8 233.1h.9v.9h-.9zM346.4 282.6h.9v.9h-.9zM292.2 226.2h.9v.9h-.9zM311.2 259.9h.9v.9h-.9zM353.9 251.3h.9v.9h-.9zM360.7 252.1h.9v.9h-.9zM293.6 275.2h.9v.9h-.9zM338.7 249.9h.9v.9h-.9zM292.6 221.8h.9v.9h-.9zM309.0 270.7h.9v.9h-.9zM313.1 239.6h.9v.9h-.9zM316.8 268.8h.9v.9h-.9zM355.4 278.4h.9v.9h-.9zM314.3 282.6h.9v.9h-.9zM383.5 266.4h.9v.9h-.9zM368.1 285.1h.9v.9h-.9zM349.6 246.9h.9v.9h-.9zM353.6 265.5h.9v.9h-.9zM358.4 299.7h.9v.9h-.9zM340.1 256.4h.9v.9h-.9zM373.8 260.5h.9v.9h-.9zM303.9 264.9h.9v.9h-.9zM366.9 235.5h.9v.9h-.9zM386.8 289.1h.9v.9h-.9zM307.5 263.8h.9v.9h-.9zM350.0 268.5h.9v.9h-.9zM346.9 270.7h.9v.9h-.9zM317.2 256.3h.9v.9h-.9zM336.4 266.7h.9v.9h-.9zM393.8 273.4h.9v.9h-.9zM309.5 265.7h.9v.9h-.9zM392.7 291.1h.9v.9h-.9zM386.9 261.6h.9v.9h-.9zM360.2 262.8h.9v.9h-.9zM307.3 260.9h.9v.9h-.9zM327.7 240.8h.9v.9h-.9zM334.9 254.2h.9v.9h-.9zM332.0 271.1h.9v.9h-.9zM309.0 261.3h.9v.9h-.9zM349.4 264.4h.9v.9h-.9zM346.7 261.4h.9v.9h-.9zM294.6 228.7h.9v.9h-.9zM322.5 254.0h.9v.9h-.9zM312.9 248.3h.9v.9h-.9zM327.5 286.0h.9v.9h-.9zM336.1 272.3h.9v.9h-.9zM358.0 262.6h.9v.9h-.9zM366.3 251.5h.9v.9h-.9zM333.7 242.2h.9v.9h-.9zM335.5 273.5h.9v.9h-.9zM314.0 258.8h.9v.9h-.9zM331.7 259.2h.9v.9h-.9zM327.5 264.3h.9v.9h-.9zM303.9 262.0h.9v.9h-.9zM386.2 243.3h.9v.9h-.9zM361.8 249.4h.9v.9h-.9zM322.9 287.4h.9v.9h-.9zM358.1 269.5h.9v.9h-.9zM385.4 269.9h.9v.9h-.9zM336.0 225.3h.9v.9h-.9zM358.9 285.8h.9v.9h-.9zM326.6 241.7h.9v.9h-.9zM290.5 268.9h.9v.9h-.9zM271.3 265.7h.9v.9h-.9zM361.9 253.0h.9v.9h-.9zM309.2 255.7h.9v.9h-.9zM382.7 242.4h.9v.9h-.9zM316.2 267.9h.9v.9h-.9zM321.0 279.7h.9v.9h-.9zM318.2 241.5h.9v.9h-.9zM296.6 256.5h.9v.9h-.9zM369.9 260.2h.9v.9h-.9zM322.3 236.8h.9v.9h-.9zM345.9 249.7h.9v.9h-.9zM404.1 241.9h.9v.9h-.9zM300.3 240.4h.9v.9h-.9zM343.9 268.6h.9v.9h-.9zM345.0 277.6h.9v.9h-.9zM358.4 250.9h.9v.9h-.9zM386.2 248.0h.9v.9h-.9zM344.6 260.5h.9v.9h-.9zM371.0 259.3h.9v.9h-.9zM348.0 230.2h.9v.9h-.9zM336.4 262.0h.9v.9h-.9zM381.4 233.7h.9v.9h-.9zM304.8 272.5h.9v.9h-.9zM404.1 262.1h.9v.9h-.9zM278.9 232.9h.9v.9h-.9zM328.0 246.4h.9v.9h-.9zM352.4 275.8h.9v.9h-.9zM360.8 245.6h.9v.9h-.9zM318.9 256.9h.9v.9h-.9zM350.4 268.3h.9v.9h-.9zM327.4 275.5h.9v.9h-.9zM358.8 255.2h.9v.9h-.9zM344.3 283.9h.9v.9h-.9zM357.0 255.3h.9v.9h-.9zM329.3 274.3h.9v.9h-.9zM349.5 262.0h.9v.9h-.9zM318.1 255.9h.9v.9h-.9zM343.3 286.5h.9v.9h-.9zM302.2 261.7h.9v.9h-.9zM312.3 239.0h.9v.9h-.9zM403.3 240.6h.9v.9h-.9zM373.0 275.4h.9v.9h-.9zM351.9 260.7h.9v.9h-.9zM337.4 267.4h.9v.9h-.9zM349.8 268.4h.9v.9h-.9zM356.8 235.1h.9v.9h-.9zM302.6 259.3h.9v.9h-.9zM337.5 239.4h.9v.9h-.9zM365.5 267.3h.9v.9h-.9zM347.2 275.7h.9v.9h-.9zM356.4 258.1h.9v.9h-.9zM321.7 277.3h.9v.9h-.9zM325.1 248.7h.9v.9h-.9zM312.0 270.3h.9v.9h-.9zM346.1 257.5h.9v.9h-.9zM365.6 247.3h.9v.9h-.9zM362.1 252.0h.9v.9h-.9zM334.4 256.9h.9v.9h-.9zM345.0 280.9h.9v.9h-.9zM321.8 275.4h.9v.9h-.9zM373.7 257.4h.9v.9h-.9zM320.4 242.6h.9v.9h-.9zM336.8 303.3h.9v.9h-.9zM333.5 261.8h.9v.9h-.9zM312.2 266.5h.9v.9h-.9zM346.1 274.8h.9v.9h-.9zM397.8 275.2h.9v.9h-.9zM315.2 257.9h.9v.9h-.9zM302.2 253.6h.9v.9h-.9zM298.9 277.0h.9v.9h-.9zM277.1 268.9h.9v.9h-.9zM342.4 236.6h.9v.9h-.9zM360.8 279.5h.9v.9h-.9zM388.9 256.0h.9v.9h-.9zM360.0 262.8h.9v.9h-.9zM379.4 259.8h.9v.9h-.9zM370.2 244.5h.9v.9h-.9zM320.0 243.4h.9v.9h-.9zM333.6 240.8h.9v.9h-.9zM342.9 251.2h.9v.9h-.9zM299.2 263.4h.9v.9h-.9zM370.7 267.6h.9v.9h-.9zM348.3 256.2h.9v.9h-.9zM333.6 235.7h.9v.9h-.9zM394.1 234.5h.9v.9h-.9zM313.4 244.1h.9v.9h-.9zM308.2 262.1h.9v.9h-.9zM317.6 251.4h.9v.9h-.9zM348.6 241.5h.9v.9h-.9zM307.1 266.7h.9v.9h-.9zM324.5 231.9h.9v.9h-.9zM355.5 237.9h.9v.9h-.9zM338.0 259.9h.9v.9h-.9zM346.5 263.8h.9v.9h-.9zM326.8 259.2h.9v.9h-.9zM291.6 263.7h.9v.9h-.9zM285.0 270.6h.9v.9h-.9zM317.5 272.8h.9v.9h-.9zM336.6 267.4h.9v.9h-.9zM325.3 255.9h.9v.9h-.9zM351.9 269.4h.9v.9h-.9zM327.3 218.2h.9v.9h-.9zM342.3 270.4h.9v.9h-.9zM374.2 255.7h.9v.9h-.9zM368.4 205.4h.9v.9h-.9zM326.6 250.0h.9v.9h-.9zM396.7 255.9h.9v.9h-.9zM411.4 260.2h.9v.9h-.9zM325.9 250.7h.9v.9h-.9zM314.6 261.5h.9v.9h-.9zM342.4 244.5h.9v.9h-.9zM388.4 275.7h.9v.9h-.9zM329.6 267.6h.9v.9h-.9zM333.4 252.0h.9v.9h-.9zM314.0 249.5h.9v.9h-.9zM388.4 285.3h.9v.9h-.9zM334.7 254.7h.9v.9h-.9zM370.5 246.8h.9v.9h-.9zM359.3 236.4h.9v.9h-.9zM349.7 270.9h.9v.9h-.9zM362.0 283.7h.9v.9h-.9zM372.6 253.1h.9v.9h-.9zM299.4 224.0h.9v.9h-.9zM308.1 257.4h.9v.9h-.9zM322.2 302.5h.9v.9h-.9zM351.1 266.3h.9v.9h-.9zM341.9 256.7h.9v.9h-.9zM349.0 276.9h.9v.9h-.9zM340.3 274.2h.9v.9h-.9zM379.1 263.0h.9v.9h-.9zM358.7 265.1h.9v.9h-.9zM372.7 273.3h.9v.9h-.9zM345.2 278.2h.9v.9h-.9zM373.4 263.5h.9v.9h-.9zM304.5 286.9h.9v.9h-.9zM346.1 271.3h.9v.9h-.9zM344.7 255.6h.9v.9h-.9zM305.8 260.5h.9v.9h-.9zM333.7 268.3h.9v.9h-.9zM331.2 259.5h.9v.9h-.9zM360.9 260.2h.9v.9h-.9zM322.4 267.6h.9v.9h-.9zM330.9 244.4h.9v.9h-.9zM309.0 246.8h.9v.9h-.9zM322.2 225.8h.9v.9h-.9zM298.0 250.8h.9v.9h-.9zM327.6 257.4h.9v.9h-.9zM355.3 243.6h.9v.9h-.9zM382.7 265.6h.9v.9h-.9zM270.1 259.2h.9v.9h-.9zM310.6 267.9h.9v.9h-.9zM389.0 238.5h.9v.9h-.9zM341.9 243.4h.9v.9h-.9zM296.5 269.7h.9v.9h-.9zM362.8 249.5h.9v.9h-.9zM327.4 241.1h.9v.9h-.9zM319.6 256.2h.9v.9h-.9zM333.7 270.8h.9v.9h-.9zM344.4 259.2h.9v.9h-.9zM341.6 269.4h.9v.9h-.9zM354.8 239.0h.9v.9h-.9zM333.2 266.2h.9v.9h-.9zM316.4 237.5h.9v.9h-.9zM310.1 241.0h.9v.9h-.9zM332.4 257.4h.9v.9h-.9zM353.9 230.4h.9v.9h-.9zM351.6 272.3h.9v.9h-.9zM414.3 255.3h.9v.9h-.9zM360.0 233.2h.9v.9h-.9zM369.4 285.0h.9v.9h-.9zM346.3 250.5h.9v.9h-.9zM381.7 245.1h.9v.9h-.9zM389.7 243.4h.9v.9h-.9zM352.2 264.5h.9v.9h-.9zM343.9 250.8h.9v.9h-.9zM309.4 281.1h.9v.9h-.9zM351.7 246.2h.9v.9h-.9zM301.1 271.6h.9v.9h-.9zM377.4 258.9h.9v.9h-.9zM326.1 268.6h.9v.9h-.9zM352.8 278.5h.9v.9h-.9zM334.3 249.0h.9v.9h-.9zM336.6 239.1h.9v.9h-.9zM307.3 251.4h.9v.9h-.9zM333.9 260.9h.9v.9h-.9zM297.9 254.3h.9v.9h-.9zM395.2 233.3h.9v.9h-.9zM328.1 252.4h.9v.9h-.9zM356.3 247.5h.9v.9h-.9zM403.5 251.3h.9v.9h-.9zM345.7 262.1h.9v.9h-.9zM378.0 266.4h.9v.9h-.9zM298.9 260.6h.9v.9h-.9zM321.0 277.4h.9v.9h-.9zM353.7 265.2h.9v.9h-.9zM335.9 248.7h.9v.9h-.9zM368.6 273.7h.9v.9h-.9zM403.2 255.8h.9v.9h-.9zM370.6 243.5h.9v.9h-.9zM354.3 259.9h.9v.9h-.9zM308.0 250.4h.9v.9h-.9zM341.6 256.3h.9v.9h-.9zM330.4 255.4h.9v.9h-.9zM338.4 253.0h.9v.9h-.9zM290.0 261.6h.9v.9h-.9zM387.8 257.0h.9v.9h-.9zM342.7 247.1h.9v.9h-.9zM315.5 245.2h.9v.9h-.9zM300.4 260.2h.9v.9h-.9zM312.3 264.5h.9v.9h-.9zM341.3 237.9h.9v.9h-.9zM401.3 254.2h.9v.9h-.9zM342.2 252.6h.9v.9h-.9zM305.2 259.1h.9v.9h-.9zM353.3 227.6h.9v.9h-.9zM339.3 261.6h.9v.9h-.9zM390.3 229.6h.9v.9h-.9zM318.0 276.8h.9v.9h-.9zM317.3 269.2h.9v.9h-.9zM310.0 242.0h.9v.9h-.9zM359.7 251.2h.9v.9h-.9zM307.4 260.1h.9v.9h-.9zM371.7 257.9h.9v.9h-.9zM402.1 240.0h.9v.9h-.9zM385.3 264.1h.9v.9h-.9zM363.1 270.9h.9v.9h-.9zM330.2 255.1h.9v.9h-.9zM300.2 248.6h.9v.9h-.9zM317.9 274.7h.9v.9h-.9zM325.2 264.7h.9v.9h-.9zM335.9 295.2h.9v.9h-.9zM315.2 245.3h.9v.9h-.9zM356.2 232.7h.9v.9h-.9zM339.1 244.3h.9v.9h-.9zM314.1 256.2h.9v.9h-.9zM396.5 272.9h.9v.9h-.9zM361.7 266.5h.9v.9h-.9zM352.4 249.1h.9v.9h-.9zM342.9 257.9h.9v.9h-.9zM355.9 272.7h.9v.9h-.9zM305.3 239.4h.9v.9h-.9zM379.2 242.7h.9v.9h-.9zM372.2 302.2h.9v.9h-.9zM368.1 264.3h.9v.9h-.9zM334.4 262.2h.9v.9h-.9zM363.8 305.2h.9v.9h-.9zM363.3 256.9h.9v.9h-.9zM383.9 259.5h.9v.9h-.9zM375.2 263.7h.9v.9h-.9zM344.3 271.1h.9v.9h-.9zM334.1 249.5h.9v.9h-.9zM336.2 260.8h.9v.9h-.9zM327.7 271.0h.9v.9h-.9zM347.6 263.9h.9v.9h-.9zM328.4 262.9h.9v.9h-.9zM357.9 255.0h.9v.9h-.9zM331.2 263.5h.9v.9h-.9zM344.9 250.5h.9v.9h-.9zM361.9 266.2h.9v.9h-.9zM391.4 242.0h.9v.9h-.9zM301.9 263.6h.9v.9h-.9zM392.2 273.9h.9v.9h-.9zM338.5 248.2h.9v.9h-.9zM346.9 252.0h.9v.9h-.9zM315.1 260.8h.9v.9h-.9zM318.6 254.8h.9v.9h-.9zM317.3 256.4h.9v.9h-.9zM351.7 260.2h.9v.9h-.9zM345.3 243.6h.9v.9h-.9zM297.0 257.8h.9v.9h-.9zM337.4 269.2h.9v.9h-.9zM298.9 273.2h.9v.9h-.9zM334.5 243.0h.9v.9h-.9zM321.2 252.3h.9v.9h-.9zM375.9 252.6h.9v.9h-.9zM346.9 245.9h.9v.9h-.9zM299.2 248.3h.9v.9h-.9zM291.6 254.4h.9v.9h-.9zM331.2 285.5h.9v.9h-.9zM324.0 275.9h.9v.9h-.9zM355.7 271.5h.9v.9h-.9zM343.2 257.1h.9v.9h-.9zM351.3 276.9h.9v.9h-.9zM314.6 240.4h.9v.9h-.9zM320.7 237.4h.9v.9h-.9zM325.1 254.3h.9v.9h-.9zM316.1 256.2h.9v.9h-.9zM371.3 260.1h.9v.9h-.9zM369.0 256.8h.9v.9h-.9zM340.5 238.6h.9v.9h-.9zM372.4 263.9h.9v.9h-.9zM378.7 257.9h.9v.9h-.9zM320.1 290.6h.9v.9h-.9zM306.4 229.0h.9v.9h-.9zM359.5 243.3h.9v.9h-.9zM304.3 263.2h.9v.9h-.9zM315.9 310.7h.9v.9h-.9zM373.8 242.9h.9v.9h-.9zM294.1 259.3h.9v.9h-.9zM385.5 291.3h.9v.9h-.9zM433.5 238.1h.9v.9h-.9zM423.9 258.5h.9v.9h-.9zM415.3 245.0h.9v.9h-.9zM351.1 276.8h.9v.9h-.9zM400.2 231.6h.9v.9h-.9zM298.3 283.3h.9v.9h-.9zM328.7 262.0h.9v.9h-.9zM299.9 233.4h.9v.9h-.9zM318.4 297.0h.9v.9h-.9zM410.9 276.3h.9v.9h-.9zM387.3 276.6h.9v.9h-.9zM357.0 261.5h.9v.9h-.9zM364.7 278.0h.9v.9h-.9zM381.3 265.8h.9v.9h-.9zM294.3 253.0h.9v.9h-.9zM296.9 258.7h.9v.9h-.9zM302.3 294.0h.9v.9h-.9zM421.3 255.4h.9v.9h-.9zM406.5 251.1h.9v.9h-.9zM350.8 258.4h.9v.9h-.9zM310.2 259.8h.9v.9h-.9zM364.4 271.5h.9v.9h-.9zM323.0 262.7h.9v.9h-.9zM420.9 251.7h.9v.9h-.9zM405.3 267.8h.9v.9h-.9zM371.7 246.1h.9v.9h-.9zM264.1 213.2h.9v.9h-.9zM359.6 244.5h.9v.9h-.9zM407.0 289.5h.9v.9h-.9zM279.7 273.2h.9v.9h-.9zM290.8 250.4h.9v.9h-.9zM346.1 277.9h.9v.9h-.9zM334.2 237.7h.9v.9h-.9zM373.5 219.1h.9v.9h-.9zM362.3 244.4h.9v.9h-.9zM306.5 300.2h.9v.9h-.9zM252.6 307.1h.9v.9h-.9zM385.9 266.8h.9v.9h-.9zM420.0 228.6h.9v.9h-.9zM290.8 220.6h.9v.9h-.9zM361.7 223.7h.9v.9h-.9zM290.2 241.5h.9v.9h-.9zM338.7 273.2h.9v.9h-.9zM331.4 274.9h.9v.9h-.9zM407.1 243.7h.9v.9h-.9zM368.6 259.9h.9v.9h-.9zM365.3 298.8h.9v.9h-.9zM341.5 300.0h.9v.9h-.9zM312.6 265.8h.9v.9h-.9zM376.4 249.3h.9v.9h-.9zM358.9 303.4h.9v.9h-.9zM340.1 230.2h.9v.9h-.9zM315.5 246.4h.9v.9h-.9zM328.7 324.0h.9v.9h-.9zM324.6 272.6h.9v.9h-.9zM332.3 285.0h.9v.9h-.9zM359.6 268.5h.9v.9h-.9zM394.1 291.3h.9v.9h-.9zM322.1 297.1h.9v.9h-.9zM286.0 263.8h.9v.9h-.9zM304.6 223.6h.9v.9h-.9zM272.4 255.6h.9v.9h-.9zM266.2 241.1h.9v.9h-.9zM337.1 256.2h.9v.9h-.9zM306.1 256.7h.9v.9h-.9zM337.9 279.8h.9v.9h-.9zM341.1 272.7h.9v.9h-.9zM292.9 273.8h.9v.9h-.9zM290.2 270.1h.9v.9h-.9zM370.1 258.0h.9v.9h-.9zM397.5 286.3h.9v.9h-.9zM358.6 227.5h.9v.9h-.9zM377.2 221.5h.9v.9h-.9zM257.5 242.8h.9v.9h-.9zM348.6 271.5h.9v.9h-.9zM306.7 257.9h.9v.9h-.9zM378.4 252.5h.9v.9h-.9zM397.1 247.7h.9v.9h-.9zM374.9 281.9h.9v.9h-.9zM355.5 229.8h.9v.9h-.9zM324.8 237.2h.9v.9h-.9zM316.6 275.2h.9v.9h-.9zM346.9 284.4h.9v.9h-.9zM302.8 317.4h.9v.9h-.9zM330.0 230.1h.9v.9h-.9zM423.5 307.6h.9v.9h-.9zM399.3 260.7h.9v.9h-.9zM364.5 229.9h.9v.9h-.9zM308.8 298.6h.9v.9h-.9zM394.5 218.5h.9v.9h-.9zM384.9 265.0h.9v.9h-.9zM349.5 256.9h.9v.9h-.9zM349.1 234.2h.9v.9h-.9zM290.6 259.7h.9v.9h-.9zM286.6 247.6h.9v.9h-.9zM271.6 282.3h.9v.9h-.9zM385.6 270.6h.9v.9h-.9zM381.9 292.6h.9v.9h-.9zM436.7 246.9h.9v.9h-.9zM289.7 277.3h.9v.9h-.9zM326.5 279.0h.9v.9h-.9zM286.0 269.6h.9v.9h-.9zM391.0 220.2h.9v.9h-.9zM372.6 228.0h.9v.9h-.9zM341.0 289.4h.9v.9h-.9zM419.9 265.1h.9v.9h-.9zM295.4 246.2h.9v.9h-.9zM380.8 300.4h.9v.9h-.9zM324.3 248.5h.9v.9h-.9zM267.0 291.6h.9v.9h-.9zM344.5 298.4h.9v.9h-.9zM323.1 264.1h.9v.9h-.9zM343.6 247.9h.9v.9h-.9zM369.8 258.5h.9v.9h-.9zM380.0 248.6h.9v.9h-.9zM283.8 257.8h.9v.9h-.9zM408.1 256.6h.9v.9h-.9zM351.3 245.6h.9v.9h-.9zM344.3 265.7h.9v.9h-.9zM292.1 293.4h.9v.9h-.9zM343.1 257.6h.9v.9h-.9zM404.7 263.9h.9v.9h-.9zM324.9 248.4h.9v.9h-.9zM307.6 235.0h.9v.9h-.9zM335.9 262.7h.9v.9h-.9zM322.2 279.9h.9v.9h-.9zM324.2 228.2h.9v.9h-.9zM423.9 230.6h.9v.9h-.9zM317.5 243.5h.9v.9h-.9zM349.7 274.1h.9v.9h-.9zM321.4 283.7h.9v.9h-.9zM343.0 234.9h.9v.9h-.9zM321.2 250.1h.9v.9h-.9zM340.7 266.7h.9v.9h-.9zM275.7 241.4h.9v.9h-.9zM293.9 252.6h.9v.9h-.9zM324.5 237.2h.9v.9h-.9zM308.4 294.5h.9v.9h-.9zM353.0 285.1h.9v.9h-.9zM383.6 260.1h.9v.9h-.9zM344.8 298.6h.9v.9h-.9zM305.7 265.7h.9v.9h-.9zM294.8 319.2h.9v.9h-.9zM302.0 244.7h.9v.9h-.9zM366.3 278.5h.9v.9h-.9zM422.1 230.4h.9v.9h-.9zM354.3 215.5h.9v.9h-.9zM303.4 262.2h.9v.9h-.9zM386.6 258.1h.9v.9h-.9zM337.7 205.5h.9v.9h-.9zM329.0 276.0h.9v.9h-.9zM306.2 274.8h.9v.9h-.9zM257.8 238.9h.9v.9h-.9zM264.6 270.6h.9v.9h-.9zM350.9 223.6h.9v.9h-.9zM300.6 231.9h.9v.9h-.9zM316.4 292.5h.9v.9h-.9zM255.5 271.3h.9v.9h-.9zM408.5 230.8h.9v.9h-.9zM359.8 277.2h.9v.9h-.9zM413.5 297.4h.9v.9h-.9zM305.9 253.6h.9v.9h-.9zM402.8 249.2h.9v.9h-.9zM414.8 233.4h.9v.9h-.9zM369.7 249.2h.9v.9h-.9zM281.4 259.6h.9v.9h-.9zM361.6 233.8h.9v.9h-.9zM320.0 265.8h.9v.9h-.9zM350.1 268.6h.9v.9h-.9zM338.4 293.2h.9v.9h-.9zM319.7 232.9h.9v.9h-.9zM276.6 282.4h.9v.9h-.9zM375.1 246.2h.9v.9h-.9zM420.0 229.5h.9v.9h-.9zM359.6 231.2h.9v.9h-.9zM305.0 292.0h.9v.9h-.9zM310.7 265.9h.9v.9h-.9zM345.2 292.1h.9v.9h-.9zM300.4 286.2h.9v.9h-.9zM401.0 303.2h.9v.9h-.9zM349.0 256.0h.9v.9h-.9zM355.2 243.7h.9v.9h-.9zM396.7 261.4h.9v.9h-.9zM302.9 278.0h.9v.9h-.9zM317.1 255.2h.9v.9h-.9zM395.6 235.4h.9v.9h-.9zM313.8 245.0h.9v.9h-.9zM319.1 255.1h.9v.9h-.9zM388.9 309.5h.9v.9h-.9zM376.3 270.5h.9v.9h-.9zM333.7 246.3h.9v.9h-.9zM344.3 252.3h.9v.9h-.9zM379.6 248.5h.9v.9h-.9zM322.8 213.8h.9v.9h-.9zM411.4 235.0h.9v.9h-.9zM354.4 267.8h.9v.9h-.9zM394.5 234.6h.9v.9h-.9zM358.3 270.1h.9v.9h-.9zM301.0 281.0h.9v.9h-.9zM405.6 283.9h.9v.9h-.9zM267.6 259.2h.9v.9h-.9zM381.3 230.4h.9v.9h-.9zM289.3 269.6h.9v.9h-.9zM293.6 252.2h.9v.9h-.9z"/>
<rect x="248.30" y="201.50" width="206.20" height="129.60" fill="none" stroke="#000" stroke-width="1.2"/>
<line x1="245.30" y1="206.20" x2="248.30" y2="206.20" stroke="#000" stroke-width="1"/>
<text x="242.30" y="209.20" font-size="8.3" fill="#231f20" stroke="#231f20" stroke-width="0.291" text-anchor="end">1.0</text>
<line x1="245.30" y1="233.35" x2="248.30" y2="233.35" stroke="#000" stroke-width="1"/>
<text x="242.30" y="236.35" font-size="8.3" fill="#231f20" stroke="#231f20" stroke-width="0.291" text-anchor="end">0.5</text>
<line x1="245.30" y1="260.50" x2="248.30" y2="260.50" stroke="#000" stroke-width="1"/>
<text x="242.30" y="263.50" font-size="8.3" fill="#231f20" stroke="#231f20" stroke-width="0.291" text-anchor="end">0.0</text>
<line x1="245.30" y1="287.65" x2="248.30" y2="287.65" stroke="#000" stroke-width="1"/>
<text x="242.30" y="290.65" font-size="8.3" fill="#231f20" stroke="#231f20" stroke-width="0.291" text-anchor="end">-0.5</text>
<line x1="245.30" y1="314.80" x2="248.30" y2="314.80" stroke="#000" stroke-width="1"/>
<text x="242.30" y="317.80" font-size="8.3" fill="#231f20" stroke="#231f20" stroke-width="0.291" text-anchor="end">-1.0</text>
<line x1="289.45" y1="331.10" x2="289.45" y2="334.10" stroke="#000" stroke-width="1"/>
<text x="289.45" y="344.50" font-size="8.3" fill="#231f20" stroke="#231f20" stroke-width="0.291" text-anchor="middle">-0.5</text>
<line x1="341.70" y1="331.10" x2="341.70" y2="334.10" stroke="#000" stroke-width="1"/>
<text x="341.70" y="344.50" font-size="8.3" fill="#231f20" stroke="#231f20" stroke-width="0.291" text-anchor="middle">0.0</text>
<line x1="393.95" y1="331.10" x2="393.95" y2="334.10" stroke="#000" stroke-width="1"/>
<text x="393.95" y="344.50" font-size="8.3" fill="#231f20" stroke="#231f20" stroke-width="0.291" text-anchor="middle">0.5</text>
<line x1="446.20" y1="331.10" x2="446.20" y2="334.10" stroke="#000" stroke-width="1"/>
<text x="446.20" y="344.50" font-size="8.3" fill="#231f20" stroke="#231f20" stroke-width="0.291" text-anchor="middle">1.0</text>
<text x="312.30" y="357.90" font-size="9.4" fill="#231f20" stroke="#231f20" stroke-width="0.329" textLength="77.30" lengthAdjust="spacingAndGlyphs">rPC1 - 63% of variance</text>
<text x="222.00" y="305.00" font-size="9.4" fill="#231f20" stroke="#231f20" stroke-width="0.329" textLength="77.70" lengthAdjust="spacingAndGlyphs" transform="rotate(-90 222.00 305.00)">rPC2 - 15% of variance</text>
<rect x="406.50" y="297.10" width="48.00" height="34.00" fill="#fff" stroke="#c8c8c8" stroke-width="0.6"/>
<circle cx="411.00" cy="305.80" r="0.90" fill="#e31a1c" stroke="none" stroke-width="1"/>
<text x="415.50" y="307.60" font-size="5.0" fill="#111" textLength="33.20" lengthAdjust="spacingAndGlyphs">B identity genes</text>
<circle cx="411.00" cy="314.60" r="0.90" fill="#33a02c" stroke="none" stroke-width="1"/>
<text x="415.50" y="316.40" font-size="5.0" fill="#111" textLength="36.30" lengthAdjust="spacingAndGlyphs">PB identity genes</text>
<circle cx="411.00" cy="323.30" r="0.90" fill="#ff7f00" stroke="none" stroke-width="1"/>
<text x="415.50" y="325.10" font-size="5.0" fill="#111" textLength="24.90" lengthAdjust="spacingAndGlyphs">IL4 pathway</text>
<rect x="248.30" y="201.50" width="206.20" height="129.60" fill="none" stroke="#000" stroke-width="1.2"/>
<circle cx="287.30" cy="247.50" r="1.10" fill="#e31a1c" stroke="none" stroke-width="1"/>
<text x="286.00" y="245.80" font-size="4.2" fill="#e31a1c" font-weight="bold">SMAD3</text>
<circle cx="269.50" cy="254.20" r="1.10" fill="#e31a1c" stroke="none" stroke-width="1"/>
<text x="270.90" y="252.80" font-size="4.2" fill="#e31a1c" font-weight="bold">SPIB</text>
<circle cx="272.60" cy="255.90" r="1.10" fill="#e31a1c" stroke="none" stroke-width="1"/>
<text x="270.90" y="260.40" font-size="4.2" fill="#e31a1c" font-weight="bold">BACH2</text>
<circle cx="264.50" cy="258.10" r="1.10" fill="#e31a1c" stroke="none" stroke-width="1"/>
<text x="253.40" y="262.60" font-size="4.2" fill="#e31a1c" font-weight="bold">LMO2</text>
<circle cx="287.70" cy="257.20" r="1.10" fill="#e31a1c" stroke="none" stroke-width="1"/>
<text x="288.40" y="254.90" font-size="4.2" fill="#e31a1c" font-weight="bold">PAX5</text>
<circle cx="286.30" cy="264.30" r="1.10" fill="#e31a1c" stroke="none" stroke-width="1"/>
<text x="287.70" y="263.00" font-size="4.2" fill="#e31a1c" font-weight="bold">IRF8</text>
<circle cx="299.80" cy="270.40" r="1.10" fill="#e31a1c" stroke="none" stroke-width="1"/>
<text x="300.50" y="268.60" font-size="4.2" fill="#e31a1c" font-weight="bold">BCL6</text>
<circle cx="290.80" cy="257.90" r="1.00" fill="#ff7f00" stroke="none" stroke-width="1"/>
<text x="292.00" y="258.90" font-size="4.2" fill="#e07010" font-weight="bold">STAT6</text>
<circle cx="301.30" cy="285.00" r="1.00" fill="#ff7f00" stroke="none" stroke-width="1"/>
<text x="304.10" y="286.60" font-size="4.2" fill="#e07010" font-weight="bold">IL4R</text>
<circle cx="290.90" cy="308.90" r="1.00" fill="#ff7f00" stroke="none" stroke-width="1"/>
<text x="292.60" y="310.50" font-size="4.2" fill="#e07010" font-weight="bold">FCER2</text>
<circle cx="382.00" cy="241.80" r="1.00" fill="#33a02c" stroke="none" stroke-width="1"/>
<text x="369.50" y="240.20" font-size="4.2" fill="#4a9a2a" font-weight="bold">CCND2</text>
<circle cx="393.40" cy="249.20" r="1.00" fill="#33a02c" stroke="none" stroke-width="1"/>
<text x="383.40" y="247.50" font-size="4.2" fill="#4a9a2a" font-weight="bold">IRF4</text>
<circle cx="386.30" cy="252.70" r="1.00" fill="#33a02c" stroke="none" stroke-width="1"/>
<text x="375.90" y="251.80" font-size="4.2" fill="#4a9a2a" font-weight="bold">CD38</text>
<circle cx="366.90" cy="259.30" r="1.00" fill="#33a02c" stroke="none" stroke-width="1"/>
<text x="363.80" y="257.50" font-size="4.2" fill="#4a9a2a" font-weight="bold">CDC28A</text>
<circle cx="391.70" cy="256.70" r="1.00" fill="#33a02c" stroke="none" stroke-width="1"/>
<text x="380.80" y="260.50" font-size="4.2" fill="#4a9a2a" font-weight="bold">EdoV1</text>
<circle cx="412.40" cy="260.50" r="1.00" fill="#33a02c" stroke="none" stroke-width="1"/>
<text x="413.30" y="257.90" font-size="4.2" fill="#4a9a2a" font-weight="bold">XBP1</text>
<circle cx="430.60" cy="240.20" r="1.00" fill="#33a02c" stroke="none" stroke-width="1"/>
<text x="428.90" y="238.00" font-size="4.2" fill="#4a9a2a" font-weight="bold">PRDM1</text>
<circle cx="392.00" cy="281.60" r="1.00" fill="#33a02c" stroke="none" stroke-width="1"/>
<text x="393.40" y="280.00" font-size="4.2" fill="#4a9a2a" font-weight="bold">IGF1</text>
<circle cx="281.90" cy="206.30" r="1.70" fill="#f08070" stroke="#222" stroke-width="0.8"/>
<circle cx="267.10" cy="232.50" r="1.70" fill="#f08070" stroke="#222" stroke-width="0.8"/>
<circle cx="285.40" cy="232.90" r="1.70" fill="#f08070" stroke="#222" stroke-width="0.8"/>
<circle cx="266.20" cy="274.40" r="1.70" fill="#5bc0c8" stroke="#222" stroke-width="0.8"/>
<circle cx="269.00" cy="278.30" r="1.70" fill="#5bc0c8" stroke="#222" stroke-width="0.8"/>
<circle cx="260.80" cy="322.10" r="1.70" fill="#5bc0c8" stroke="#222" stroke-width="0.8"/>
<circle cx="396.00" cy="244.40" r="1.70" fill="#9cbc2c" stroke="#222" stroke-width="0.8"/>
<circle cx="446.50" cy="252.20" r="1.70" fill="#9cbc2c" stroke="#222" stroke-width="0.8"/>
<circle cx="437.50" cy="264.80" r="1.70" fill="#9cbc2c" stroke="#222" stroke-width="0.8"/>
<circle cx="401.20" cy="253.00" r="1.70" fill="#b070e0" stroke="#222" stroke-width="0.8"/>
<circle cx="399.40" cy="263.90" r="1.70" fill="#b070e0" stroke="#222" stroke-width="0.8"/>
<circle cx="388.60" cy="302.40" r="1.70" fill="#b070e0" stroke="#222" stroke-width="0.8"/>
<path d="M278.3,220.20000000000002 L281.90000000000003,223.8 L278.3,227.4 L274.7,223.8 Z" fill="#f08070" stroke="#222" stroke-width="0.9"/>
<text x="283.50" y="226.40" font-size="7" fill="#f07868">D4lo</text>
<path d="M265.2,287.7 L268.8,291.3 L265.2,294.90000000000003 L261.59999999999997,291.3 Z" fill="#5bc0c8" stroke="#222" stroke-width="0.9"/>
<text x="270.20" y="293.60" font-size="7" fill="#5bc0c8" font-weight="bold" textLength="30.00" lengthAdjust="spacingAndGlyphs">P2/CD23+</text>
<path d="M426.6,250.5 L430.20000000000005,254.1 L426.6,257.7 L423.0,254.1 Z" fill="#9cbc2c" stroke="#222" stroke-width="0.9"/>
<text x="431.80" y="256.40" font-size="7.2" fill="#90b428" font-weight="bold">P1</text>
<path d="M396.3,269.79999999999995 L399.90000000000003,273.4 L396.3,277.0 L392.7,273.4 Z" fill="#b070e0" stroke="#222" stroke-width="0.9"/>
<text x="401.20" y="276.00" font-size="7" fill="#b070f0" font-weight="bold" textLength="25.40" lengthAdjust="spacingAndGlyphs">P2/CD23-</text>
<line x1="51.30" y1="387.90" x2="51.30" y2="507.90" stroke="#000" stroke-width="1.2"/>
<line x1="50.70" y1="507.30" x2="181.80" y2="507.30" stroke="#000" stroke-width="1.2"/>
<line x1="47.80" y1="391.90" x2="51.30" y2="391.90" stroke="#000" stroke-width="1"/>
<text x="45.40" y="394.90" font-size="8.3" fill="#231f20" stroke="#231f20" stroke-width="0.291" text-anchor="end">0.06</text>
<line x1="47.80" y1="412.16" x2="51.30" y2="412.16" stroke="#000" stroke-width="1"/>
<text x="45.40" y="415.16" font-size="8.3" fill="#231f20" stroke="#231f20" stroke-width="0.291" text-anchor="end">0.04</text>
<line x1="47.80" y1="432.42" x2="51.30" y2="432.42" stroke="#000" stroke-width="1"/>
<text x="45.40" y="435.42" font-size="8.3" fill="#231f20" stroke="#231f20" stroke-width="0.291" text-anchor="end">0.02</text>
<line x1="47.80" y1="452.68" x2="51.30" y2="452.68" stroke="#000" stroke-width="1"/>
<text x="45.40" y="455.68" font-size="8.3" fill="#231f20" stroke="#231f20" stroke-width="0.291" text-anchor="end">0.00</text>
<line x1="47.80" y1="472.94" x2="51.30" y2="472.94" stroke="#000" stroke-width="1"/>
<text x="45.40" y="475.94" font-size="8.3" fill="#231f20" stroke="#231f20" stroke-width="0.291" text-anchor="end">-0.02</text>
<line x1="47.80" y1="493.20" x2="51.30" y2="493.20" stroke="#000" stroke-width="1"/>
<text x="45.40" y="496.20" font-size="8.3" fill="#231f20" stroke="#231f20" stroke-width="0.291" text-anchor="end">-0.04</text>
<line x1="55.80" y1="507.30" x2="55.80" y2="510.50" stroke="#000" stroke-width="1"/>
<text x="58.20" y="517.60" font-size="8.2" fill="#231f20" stroke="#231f20" stroke-width="0.287" text-anchor="end" textLength="4.05" lengthAdjust="spacingAndGlyphs" transform="rotate(-45 58.20 517.60)">0</text>
<line x1="76.40" y1="507.30" x2="76.40" y2="510.50" stroke="#000" stroke-width="1"/>
<text x="78.80" y="517.60" font-size="8.2" fill="#231f20" stroke="#231f20" stroke-width="0.287" text-anchor="end" textLength="16.20" lengthAdjust="spacingAndGlyphs" transform="rotate(-45 78.80 517.60)">2000</text>
<line x1="97.00" y1="507.30" x2="97.00" y2="510.50" stroke="#000" stroke-width="1"/>
<text x="99.40" y="517.60" font-size="8.2" fill="#231f20" stroke="#231f20" stroke-width="0.287" text-anchor="end" textLength="16.20" lengthAdjust="spacingAndGlyphs" transform="rotate(-45 99.40 517.60)">4000</text>
<line x1="117.60" y1="507.30" x2="117.60" y2="510.50" stroke="#000" stroke-width="1"/>
<text x="120.00" y="517.60" font-size="8.2" fill="#231f20" stroke="#231f20" stroke-width="0.287" text-anchor="end" textLength="16.20" lengthAdjust="spacingAndGlyphs" transform="rotate(-45 120.00 517.60)">6000</text>
<line x1="138.20" y1="507.30" x2="138.20" y2="510.50" stroke="#000" stroke-width="1"/>
<text x="140.60" y="517.60" font-size="8.2" fill="#231f20" stroke="#231f20" stroke-width="0.287" text-anchor="end" textLength="16.20" lengthAdjust="spacingAndGlyphs" transform="rotate(-45 140.60 517.60)">8000</text>
<line x1="158.80" y1="507.30" x2="158.80" y2="510.50" stroke="#000" stroke-width="1"/>
<text x="161.20" y="517.60" font-size="8.2" fill="#231f20" stroke="#231f20" stroke-width="0.287" text-anchor="end" textLength="20.25" lengthAdjust="spacingAndGlyphs" transform="rotate(-45 161.20 517.60)">10000</text>
<line x1="179.40" y1="507.30" x2="179.40" y2="510.50" stroke="#000" stroke-width="1"/>
<text x="181.80" y="517.60" font-size="8.2" fill="#231f20" stroke="#231f20" stroke-width="0.287" text-anchor="end" textLength="20.25" lengthAdjust="spacingAndGlyphs" transform="rotate(-45 181.80 517.60)">12000</text>
<text x="80.60" y="546.20" font-size="9.8" fill="#231f20" stroke="#231f20" stroke-width="0.343" textLength="73.50" lengthAdjust="spacingAndGlyphs">Rank along rPC1 axis</text>
<text x="21.90" y="475.20" font-size="10.4" fill="#231f20" stroke="#231f20" stroke-width="0.364" textLength="53.60" lengthAdjust="spacingAndGlyphs" transform="rotate(-90 21.90 475.20)">Weight on rPC1</text>
<polyline points="55.70,398.50 56.00,404.00 56.70,412.30 57.60,421.00 59.40,428.50 61.30,434.00 63.50,438.00 67.00,441.20 71.60,443.30 80.00,446.30 90.40,448.70 104.00,450.60 117.40,452.20 131.00,454.00 144.30,456.00 155.00,458.30 163.20,460.90 168.50,463.50 172.60,466.30 175.20,470.90 177.00,476.90 177.80,485.00 178.10,497.10" fill="none" stroke="#000" stroke-width="2.2" stroke-linejoin="round" stroke-linecap="round"/>
<circle cx="55.70" cy="392.00" r="1.75" fill="#5cb030" stroke="#2a5a1a" stroke-width="0.6"/>
<circle cx="55.60" cy="397.50" r="1.75" fill="#5cb030" stroke="#2a5a1a" stroke-width="0.6"/>
<circle cx="55.70" cy="400.70" r="1.75" fill="#5cb030" stroke="#2a5a1a" stroke-width="0.6"/>
<circle cx="55.70" cy="403.50" r="1.75" fill="#5cb030" stroke="#2a5a1a" stroke-width="0.6"/>
<circle cx="56.00" cy="406.90" r="1.75" fill="#5cb030" stroke="#2a5a1a" stroke-width="0.6"/>
<circle cx="56.40" cy="411.50" r="1.75" fill="#5cb030" stroke="#2a5a1a" stroke-width="0.6"/>
<circle cx="56.50" cy="414.70" r="1.75" fill="#5cb030" stroke="#2a5a1a" stroke-width="0.6"/>
<circle cx="57.00" cy="417.80" r="1.75" fill="#5cb030" stroke="#2a5a1a" stroke-width="0.6"/>
<circle cx="57.30" cy="422.60" r="1.75" fill="#5cb030" stroke="#2a5a1a" stroke-width="0.6"/>
<circle cx="58.00" cy="427.00" r="1.75" fill="#5cb030" stroke="#2a5a1a" stroke-width="0.6"/>
<circle cx="58.80" cy="429.40" r="1.75" fill="#5cb030" stroke="#2a5a1a" stroke-width="0.6"/>
<circle cx="62.30" cy="437.00" r="1.75" fill="#5cb030" stroke="#2a5a1a" stroke-width="0.6"/>
<circle cx="63.10" cy="437.80" r="1.75" fill="#5cb030" stroke="#2a5a1a" stroke-width="0.6"/>
<circle cx="171.70" cy="466.30" r="1.80" fill="#c0102c" stroke="#3a0010" stroke-width="0.6"/>
<circle cx="174.80" cy="470.50" r="1.80" fill="#c0102c" stroke="#3a0010" stroke-width="0.6"/>
<circle cx="176.10" cy="473.90" r="1.80" fill="#c0102c" stroke="#3a0010" stroke-width="0.6"/>
<circle cx="176.80" cy="476.90" r="1.80" fill="#c0102c" stroke="#3a0010" stroke-width="0.6"/>
<circle cx="177.30" cy="480.80" r="1.80" fill="#c0102c" stroke="#3a0010" stroke-width="0.6"/>
<circle cx="177.60" cy="484.80" r="1.80" fill="#c0102c" stroke="#3a0010" stroke-width="0.6"/>
<circle cx="177.90" cy="487.90" r="1.80" fill="#c0102c" stroke="#3a0010" stroke-width="0.6"/>
<circle cx="178.00" cy="491.90" r="1.80" fill="#c0102c" stroke="#3a0010" stroke-width="0.6"/>
<circle cx="178.20" cy="495.00" r="1.80" fill="#c0102c" stroke="#3a0010" stroke-width="0.6"/>
<circle cx="178.20" cy="497.60" r="1.80" fill="#c0102c" stroke="#3a0010" stroke-width="0.6"/>
<circle cx="178.20" cy="502.00" r="0.90" fill="#000" stroke="none" stroke-width="1"/>
<text x="58.30" y="393.80" font-size="4.3" fill="#74b04a">JCHAIN</text>
<text x="58.30" y="399.10" font-size="4.3" fill="#74b04a">IGLL5</text>
<text x="58.30" y="402.60" font-size="4.3" fill="#74b04a">PRDM1</text>
<text x="74.80" y="405.00" font-size="4.3" fill="#74b04a">BHLHE41</text>
<text x="58.30" y="408.20" font-size="4.3" fill="#74b04a">MZB1</text>
<text x="71.60" y="409.00" font-size="4.3" fill="#74b04a">ITGA6</text>
<text x="58.30" y="412.50" font-size="4.3" fill="#74b04a">XBP1</text>
<text x="58.30" y="416.00" font-size="4.3" fill="#74b04a">CD27</text>
<text x="77.00" y="416.00" font-size="4.3" fill="#74b04a">HSP90B1</text>
<text x="58.30" y="419.30" font-size="4.3" fill="#74b04a">SLAMF7</text>
<text x="77.00" y="419.70" font-size="4.3" fill="#74b04a">PIM2</text>
<text x="60.20" y="423.90" font-size="4.3" fill="#74b04a">DRN1</text>
<text x="72.90" y="424.20" font-size="4.3" fill="#74b04a">IRF4</text>
<text x="82.30" y="425.50" font-size="4.3" fill="#74b04a">IGF1</text>
<text x="91.80" y="426.00" font-size="4.3" fill="#74b04a">CAV1</text>
<text x="60.80" y="427.60" font-size="4.3" fill="#74b04a">CD38</text>
<text x="62.10" y="431.40" font-size="4.3" fill="#74b04a">CCND2</text>
<text x="64.80" y="437.60" font-size="4.3" fill="#74b04a">UCHL1</text>
<text x="78.30" y="439.50" font-size="4.3" fill="#74b04a">BMP6</text>
<text x="91.00" y="439.50" font-size="4.3" fill="#74b04a">CDC25A</text>
<text x="169.80" y="469.20" font-size="4.3" fill="#b0284e" text-anchor="end">SPI1</text>
<text x="160.40" y="473.20" font-size="4.3" fill="#b0284e" text-anchor="end">VAV3</text>
<text x="163.30" y="473.20" font-size="4.3" fill="#b0284e">CD19</text>
<text x="163.60" y="476.30" font-size="4.3" fill="#b0284e">CIC</text>
<text x="160.40" y="477.90" font-size="4.3" fill="#b0284e" text-anchor="end">IL4R</text>
<text x="163.60" y="479.70" font-size="4.3" fill="#b0284e">BCL6</text>
<text x="148.50" y="482.90" font-size="4.3" fill="#b0284e" text-anchor="end">BHLHE40</text>
<text x="161.70" y="482.90" font-size="4.3" fill="#b0284e" text-anchor="end">CBLB</text>
<text x="163.60" y="483.10" font-size="4.3" fill="#b0284e">STAT6</text>
<text x="148.50" y="486.70" font-size="4.3" fill="#b0284e" text-anchor="end">SMAD3</text>
<text x="161.70" y="486.70" font-size="4.3" fill="#b0284e" text-anchor="end">PAX5</text>
<text x="163.60" y="486.70" font-size="4.3" fill="#b0284e">IRF8</text>
<text x="163.60" y="490.10" font-size="4.3" fill="#b0284e">CD83</text>
<text x="160.40" y="493.80" font-size="4.3" fill="#b0284e" text-anchor="end">MS4A1</text>
<text x="163.60" y="493.60" font-size="4.3" fill="#b0284e">BACH2</text>
<text x="163.60" y="497.10" font-size="4.3" fill="#b0284e">CD72</text>
<text x="161.00" y="498.10" font-size="4.3" fill="#b0284e" text-anchor="end">SPIB</text>
<text x="163.60" y="500.80" font-size="4.3" fill="#b0284e">LMO2</text>
<text x="279.90" y="399.80" font-size="9.2" fill="#231f20" stroke="#231f20" stroke-width="0.322" text-anchor="middle" textLength="39.60" lengthAdjust="spacingAndGlyphs">GSE22886</text>
<text x="280.20" y="408.70" font-size="9.2" fill="#231f20" stroke="#231f20" stroke-width="0.322" text-anchor="middle" textLength="84.40" lengthAdjust="spacingAndGlyphs">NBCs vs Blood PCs up</text>
<text x="387.60" y="400.20" font-size="9.2" fill="#231f20" stroke="#231f20" stroke-width="0.322" text-anchor="middle" textLength="39.20" lengthAdjust="spacingAndGlyphs">GSE22886</text>
<text x="387.10" y="409.30" font-size="9.2" fill="#231f20" stroke="#231f20" stroke-width="0.322" text-anchor="middle" textLength="95.20" lengthAdjust="spacingAndGlyphs">NBCs vs Blood PCs down</text>
<line x1="253.00" y1="414.50" x2="253.00" y2="458.90" stroke="#f0f0f0" stroke-width="0.5"/>
<line x1="265.50" y1="414.50" x2="265.50" y2="458.90" stroke="#f0f0f0" stroke-width="0.5"/>
<line x1="278.00" y1="414.50" x2="278.00" y2="458.90" stroke="#f0f0f0" stroke-width="0.5"/>
<line x1="290.50" y1="414.50" x2="290.50" y2="458.90" stroke="#f0f0f0" stroke-width="0.5"/>
<line x1="303.00" y1="414.50" x2="303.00" y2="458.90" stroke="#f0f0f0" stroke-width="0.5"/>
<line x1="237.30" y1="416.70" x2="240.50" y2="416.70" stroke="#000" stroke-width="1.2"/>
<text x="234.30" y="418.70" font-size="6.0" fill="#231f20" text-anchor="end" letter-spacing="-0.35">0</text>
<line x1="237.30" y1="422.29" x2="240.50" y2="422.29" stroke="#000" stroke-width="1.2"/>
<text x="234.30" y="424.29" font-size="6.0" fill="#231f20" text-anchor="end" letter-spacing="-0.35">-0.1</text>
<line x1="237.30" y1="427.88" x2="240.50" y2="427.88" stroke="#000" stroke-width="1.2"/>
<text x="234.30" y="429.88" font-size="6.0" fill="#231f20" text-anchor="end" letter-spacing="-0.35">-0.2</text>
<line x1="237.30" y1="433.47" x2="240.50" y2="433.47" stroke="#000" stroke-width="1.2"/>
<text x="234.30" y="435.47" font-size="6.0" fill="#231f20" text-anchor="end" letter-spacing="-0.35">-0.3</text>
<line x1="237.30" y1="439.06" x2="240.50" y2="439.06" stroke="#000" stroke-width="1.2"/>
<text x="234.30" y="441.06" font-size="6.0" fill="#231f20" text-anchor="end" letter-spacing="-0.35">-0.4</text>
<line x1="237.30" y1="444.65" x2="240.50" y2="444.65" stroke="#000" stroke-width="1.2"/>
<text x="234.30" y="446.65" font-size="6.0" fill="#231f20" text-anchor="end" letter-spacing="-0.35">-0.5</text>
<line x1="237.30" y1="450.24" x2="240.50" y2="450.24" stroke="#000" stroke-width="1.2"/>
<text x="234.30" y="452.24" font-size="6.0" fill="#231f20" text-anchor="end" letter-spacing="-0.35">-0.6</text>
<line x1="237.30" y1="455.83" x2="240.50" y2="455.83" stroke="#000" stroke-width="1.2"/>
<text x="234.30" y="457.83" font-size="6.0" fill="#231f20" text-anchor="end" letter-spacing="-0.35">-0.7</text>
<rect x="240.50" y="458.90" width="75.00" height="13.40" fill="#fff" stroke="none" stroke-width="1"/>
<rect x="246.00" y="458.90" width="1.10" height="13.40" fill="rgb(188,188,188)"/><rect x="246.55" y="458.90" width="0.70" height="13.40" fill="rgb(209,209,209)"/><rect x="248.20" y="458.90" width="1.10" height="13.40" fill="rgb(219,219,219)"/><rect x="249.30" y="458.90" width="0.70" height="13.40" fill="rgb(186,186,186)"/><rect x="251.10" y="458.90" width="0.50" height="13.40" fill="rgb(229,229,229)"/><rect x="254.00" y="458.90" width="0.50" height="13.40" fill="rgb(153,153,153)"/><rect x="254.55" y="458.90" width="0.50" height="13.40" fill="rgb(197,197,197)"/><rect x="255.65" y="458.90" width="0.50" height="13.40" fill="rgb(207,207,207)"/><rect x="256.20" y="458.90" width="1.10" height="13.40" fill="rgb(173,173,173)"/><rect x="256.75" y="458.90" width="1.10" height="13.40" fill="rgb(204,204,204)"/><rect x="257.30" y="458.90" width="1.10" height="13.40" fill="rgb(206,206,206)"/><rect x="257.85" y="458.90" width="0.90" height="13.40" fill="rgb(173,173,173)"/><rect x="258.40" y="458.90" width="1.10" height="13.40" fill="rgb(146,146,146)"/><rect x="258.95" y="458.90" width="0.70" height="13.40" fill="rgb(144,144,144)"/><rect x="260.05" y="458.90" width="0.50" height="13.40" fill="rgb(208,208,208)"/><rect x="260.60" y="458.90" width="0.90" height="13.40" fill="rgb(151,151,151)"/><rect x="261.70" y="458.90" width="0.30" height="13.40" fill="rgb(193,193,193)"/><rect x="265.30" y="458.90" width="0.70" height="13.40" fill="rgb(205,205,205)"/><rect x="267.10" y="458.90" width="1.10" height="13.40" fill="rgb(179,179,179)"/><rect x="267.65" y="458.90" width="0.70" height="13.40" fill="rgb(160,160,160)"/><rect x="268.20" y="458.90" width="1.10" height="13.40" fill="rgb(106,106,106)"/><rect x="269.30" y="458.90" width="0.50" height="13.40" fill="rgb(175,175,175)"/><rect x="270.95" y="458.90" width="1.10" height="13.40" fill="rgb(122,122,122)"/><rect x="271.50" y="458.90" width="0.70" height="13.40" fill="rgb(130,130,130)"/><rect x="273.15" y="458.90" width="1.10" height="13.40" fill="rgb(122,122,122)"/><rect x="273.70" y="458.90" width="0.90" height="13.40" fill="rgb(119,119,119)"/><rect x="275.90" y="458.90" width="1.10" height="13.40" fill="rgb(152,152,152)"/><rect x="276.45" y="458.90" width="0.90" height="13.40" fill="rgb(148,148,148)"/><rect x="277.00" y="458.90" width="1.10" height="13.40" fill="rgb(164,164,164)"/><rect x="278.65" y="458.90" width="0.70" height="13.40" fill="rgb(153,153,153)"/><rect x="279.75" y="458.90" width="1.10" height="13.40" fill="rgb(123,123,123)"/><rect x="281.40" y="458.90" width="0.60" height="13.40" fill="rgb(112,112,112)"/><rect x="281.95" y="458.90" width="0.05" height="13.40" fill="rgb(102,102,102)"/><rect x="282.55" y="458.90" width="0.90" height="13.40" fill="rgb(148,148,148)"/><rect x="283.10" y="458.90" width="0.90" height="13.40" fill="rgb(177,177,177)"/><rect x="283.65" y="458.90" width="0.70" height="13.40" fill="rgb(202,202,202)"/><rect x="284.20" y="458.90" width="0.70" height="13.40" fill="rgb(200,200,200)"/><rect x="285.85" y="458.90" width="0.50" height="13.40" fill="rgb(189,189,189)"/><rect x="286.95" y="458.90" width="0.50" height="13.40" fill="rgb(172,172,172)"/><rect x="287.50" y="458.90" width="0.70" height="13.40" fill="rgb(179,179,179)"/><rect x="288.05" y="458.90" width="0.90" height="13.40" fill="rgb(188,188,188)"/><rect x="289.15" y="458.90" width="0.85" height="13.40" fill="rgb(150,150,150)"/><rect x="290.55" y="458.90" width="0.50" height="13.40" fill="rgb(141,141,141)"/><rect x="291.10" y="458.90" width="0.90" height="13.40" fill="rgb(156,156,156)"/><rect x="291.65" y="458.90" width="0.70" height="13.40" fill="rgb(146,146,146)"/><rect x="292.20" y="458.90" width="0.70" height="13.40" fill="rgb(163,163,163)"/><rect x="292.75" y="458.90" width="1.10" height="13.40" fill="rgb(118,118,118)"/><rect x="293.30" y="458.90" width="0.50" height="13.40" fill="rgb(96,96,96)"/><rect x="293.85" y="458.90" width="1.10" height="13.40" fill="rgb(162,162,162)"/><rect x="294.40" y="458.90" width="1.10" height="13.40" fill="rgb(175,175,175)"/><rect x="294.95" y="458.90" width="1.10" height="13.40" fill="rgb(136,136,136)"/><rect x="295.50" y="458.90" width="1.10" height="13.40" fill="rgb(92,92,92)"/><rect x="296.05" y="458.90" width="1.10" height="13.40" fill="rgb(114,114,114)"/><rect x="297.15" y="458.90" width="1.10" height="13.40" fill="rgb(111,111,111)"/><rect x="297.70" y="458.90" width="0.50" height="13.40" fill="rgb(110,110,110)"/><rect x="298.25" y="458.90" width="0.90" height="13.40" fill="rgb(105,105,105)"/><rect x="300.00" y="458.90" width="0.90" height="13.40" fill="rgb(118,118,118)"/><rect x="300.55" y="458.90" width="1.10" height="13.40" fill="rgb(132,132,132)"/><rect x="301.10" y="458.90" width="0.50" height="13.40" fill="rgb(84,84,84)"/><rect x="301.65" y="458.90" width="1.10" height="13.40" fill="rgb(68,68,68)"/><rect x="302.20" y="458.90" width="0.70" height="13.40" fill="rgb(58,58,58)"/><rect x="302.75" y="458.90" width="1.10" height="13.40" fill="rgb(77,77,77)"/><rect x="303.30" y="458.90" width="0.50" height="13.40" fill="rgb(91,91,91)"/><rect x="304.40" y="458.90" width="0.90" height="13.40" fill="rgb(88,88,88)"/><rect x="304.95" y="458.90" width="0.70" height="13.40" fill="rgb(102,102,102)"/><rect x="305.50" y="458.90" width="0.50" height="13.40" fill="rgb(135,135,135)"/><rect x="306.00" y="458.90" width="0.70" height="13.40" fill="rgb(165,165,165)"/><rect x="307.10" y="458.90" width="0.90" height="13.40" fill="rgb(109,109,109)"/><rect x="308.20" y="458.90" width="1.10" height="13.40" fill="rgb(121,121,121)"/><rect x="308.75" y="458.90" width="0.90" height="13.40" fill="rgb(139,139,139)"/><rect x="309.30" y="458.90" width="0.90" height="13.40" fill="rgb(143,143,143)"/><rect x="309.85" y="458.90" width="0.70" height="13.40" fill="rgb(168,168,168)"/><rect x="310.40" y="458.90" width="0.60" height="13.40" fill="rgb(154,154,154)"/><rect x="310.95" y="458.90" width="0.05" height="13.40" fill="rgb(130,130,130)"/><rect x="311.00" y="458.90" width="1.10" height="13.40" fill="rgb(22,22,22)"/><rect x="311.55" y="458.90" width="0.70" height="13.40" fill="rgb(0,0,0)"/><rect x="312.10" y="458.90" width="1.10" height="13.40" fill="rgb(15,15,15)"/><rect x="312.65" y="458.90" width="0.70" height="13.40" fill="rgb(0,0,0)"/><rect x="313.20" y="458.90" width="1.10" height="13.40" fill="rgb(39,39,39)"/><rect x="313.75" y="458.90" width="0.70" height="13.40" fill="rgb(2,2,2)"/><rect x="314.30" y="458.90" width="0.70" height="13.40" fill="rgb(44,44,44)"/><rect x="314.85" y="458.90" width="0.65" height="13.40" fill="rgb(40,40,40)"/><rect x="315.40" y="458.90" width="0.10" height="13.40" fill="rgb(0,0,0)"/>
<defs><linearGradient id="gE1" x1="0" x2="1" y1="0" y2="0"><stop offset="0" stop-color="#c83a48"/><stop offset="0.2" stop-color="#d65a6a"/><stop offset="0.24" stop-color="#e2a2c4"/><stop offset="0.42" stop-color="#e6c4e6"/><stop offset="0.46" stop-color="#d0d0f4"/><stop offset="0.68" stop-color="#a4a4ee"/><stop offset="0.72" stop-color="#7070e2"/><stop offset="0.92" stop-color="#4040d4"/><stop offset="1" stop-color="#2020b8"/></linearGradient></defs>
<rect x="240.50" y="472.30" width="75.00" height="3.20" fill="url(#gE1)" stroke="none" stroke-width="1"/>
<polyline points="241.00,416.70 242.60,418.19 244.20,418.93 245.80,419.82 247.40,421.31 249.00,422.46 250.60,423.05 252.20,424.11 253.80,425.58 255.40,426.47 257.00,427.08 258.60,428.33 260.20,429.68 261.80,430.35 263.40,431.09 265.00,432.48 266.60,433.63 268.20,434.18 269.80,435.12 271.40,436.55 273.00,437.46 274.60,438.01 276.20,439.17 277.80,440.52 279.40,441.21 281.00,441.87 282.60,443.20 284.20,444.38 285.80,444.92 287.40,445.78 289.00,447.18 290.60,448.14 292.20,448.65 293.80,449.72 295.40,451.09 297.00,451.82 298.60,452.41 300.20,453.68 301.80,454.90 303.40,455.46 305.00,456.23 307.00,456.50 309.00,455.60 311.00,454.10 312.30,450.50 313.30,444.00 314.10,434.00 314.70,424.00 315.20,416.50" fill="none" stroke="#7ee03a" stroke-width="1.1" stroke-linejoin="round" stroke-linecap="round"/>
<rect x="240.50" y="414.50" width="78.90" height="61.70" fill="none" stroke="#000" stroke-width="1.3"/>
<text x="317.30" y="425.60" font-size="6.8" fill="#231f20" stroke="#231f20" stroke-width="0.238" text-anchor="end"><tspan font-style="italic">P</tspan> &lt; 0.0001</text>
<text x="317.30" y="433.20" font-size="6.8" fill="#231f20" stroke="#231f20" stroke-width="0.238" text-anchor="end">NES : -3.03</text>
<line x1="242.20" y1="479.40" x2="257.60" y2="479.40" stroke="#c03848" stroke-width="1.2"/>
<line x1="302.90" y1="479.40" x2="317.70" y2="479.40" stroke="#4050a8" stroke-width="1.2"/>
<line x1="360.28" y1="415.50" x2="360.28" y2="459.50" stroke="#f0f0f0" stroke-width="0.5"/>
<line x1="373.07" y1="415.50" x2="373.07" y2="459.50" stroke="#f0f0f0" stroke-width="0.5"/>
<line x1="385.85" y1="415.50" x2="385.85" y2="459.50" stroke="#f0f0f0" stroke-width="0.5"/>
<line x1="398.63" y1="415.50" x2="398.63" y2="459.50" stroke="#f0f0f0" stroke-width="0.5"/>
<line x1="411.42" y1="415.50" x2="411.42" y2="459.50" stroke="#f0f0f0" stroke-width="0.5"/>
<line x1="344.30" y1="420.30" x2="347.50" y2="420.30" stroke="#000" stroke-width="1.2"/>
<text x="341.30" y="422.30" font-size="6.0" fill="#231f20" text-anchor="end" letter-spacing="-0.35">0.7</text>
<line x1="344.30" y1="425.46" x2="347.50" y2="425.46" stroke="#000" stroke-width="1.2"/>
<text x="341.30" y="427.46" font-size="6.0" fill="#231f20" text-anchor="end" letter-spacing="-0.35">0.6</text>
<line x1="344.30" y1="430.61" x2="347.50" y2="430.61" stroke="#000" stroke-width="1.2"/>
<text x="341.30" y="432.61" font-size="6.0" fill="#231f20" text-anchor="end" letter-spacing="-0.35">0.5</text>
<line x1="344.30" y1="435.77" x2="347.50" y2="435.77" stroke="#000" stroke-width="1.2"/>
<text x="341.30" y="437.77" font-size="6.0" fill="#231f20" text-anchor="end" letter-spacing="-0.35">0.4</text>
<line x1="344.30" y1="440.93" x2="347.50" y2="440.93" stroke="#000" stroke-width="1.2"/>
<text x="341.30" y="442.93" font-size="6.0" fill="#231f20" text-anchor="end" letter-spacing="-0.35">0.3</text>
<line x1="344.30" y1="446.09" x2="347.50" y2="446.09" stroke="#000" stroke-width="1.2"/>
<text x="341.30" y="448.09" font-size="6.0" fill="#231f20" text-anchor="end" letter-spacing="-0.35">0.2</text>
<line x1="344.30" y1="451.24" x2="347.50" y2="451.24" stroke="#000" stroke-width="1.2"/>
<text x="341.30" y="453.24" font-size="6.0" fill="#231f20" text-anchor="end" letter-spacing="-0.35">0.1</text>
<line x1="344.30" y1="456.40" x2="347.50" y2="456.40" stroke="#000" stroke-width="1.2"/>
<text x="341.30" y="458.40" font-size="6.0" fill="#231f20" text-anchor="end" letter-spacing="-0.35">0.0</text>
<rect x="347.50" y="456.60" width="76.70" height="2.80" fill="#ebebeb" stroke="none" stroke-width="1"/>
<rect x="347.50" y="459.50" width="76.70" height="13.30" fill="#fff" stroke="none" stroke-width="1"/>
<rect x="348.40" y="459.50" width="0.90" height="13.30" fill="rgb(9,9,9)"/><rect x="348.95" y="459.50" width="0.70" height="13.30" fill="rgb(58,58,58)"/><rect x="349.50" y="459.50" width="0.50" height="13.30" fill="rgb(29,29,29)"/><rect x="350.05" y="459.50" width="0.50" height="13.30" fill="rgb(50,50,50)"/><rect x="350.60" y="459.50" width="1.10" height="13.30" fill="rgb(107,107,107)"/><rect x="351.15" y="459.50" width="1.10" height="13.30" fill="rgb(56,56,56)"/><rect x="351.70" y="459.50" width="0.50" height="13.30" fill="rgb(6,6,6)"/><rect x="352.25" y="459.50" width="0.70" height="13.30" fill="rgb(72,72,72)"/><rect x="353.35" y="459.50" width="0.90" height="13.30" fill="rgb(83,83,83)"/><rect x="354.45" y="459.50" width="0.50" height="13.30" fill="rgb(107,107,107)"/><rect x="355.00" y="459.50" width="1.10" height="13.30" fill="rgb(19,19,19)"/><rect x="355.55" y="459.50" width="0.70" height="13.30" fill="rgb(49,49,49)"/><rect x="356.10" y="459.50" width="0.90" height="13.30" fill="rgb(19,19,19)"/><rect x="356.65" y="459.50" width="0.50" height="13.30" fill="rgb(57,57,57)"/><rect x="357.20" y="459.50" width="0.90" height="13.30" fill="rgb(46,46,46)"/><rect x="358.30" y="459.50" width="0.50" height="13.30" fill="rgb(64,64,64)"/><rect x="358.85" y="459.50" width="0.90" height="13.30" fill="rgb(31,31,31)"/><rect x="359.40" y="459.50" width="0.70" height="13.30" fill="rgb(50,50,50)"/><rect x="359.95" y="459.50" width="0.50" height="13.30" fill="rgb(11,11,11)"/><rect x="360.50" y="459.50" width="0.70" height="13.30" fill="rgb(91,91,91)"/><rect x="361.05" y="459.50" width="0.50" height="13.30" fill="rgb(15,15,15)"/><rect x="362.00" y="459.50" width="0.50" height="13.30" fill="rgb(218,218,218)"/><rect x="363.65" y="459.50" width="0.50" height="13.30" fill="rgb(165,165,165)"/><rect x="365.55" y="459.50" width="0.50" height="13.30" fill="rgb(178,178,178)"/><rect x="366.10" y="459.50" width="1.10" height="13.30" fill="rgb(177,177,177)"/><rect x="366.65" y="459.50" width="0.90" height="13.30" fill="rgb(93,93,93)"/><rect x="367.20" y="459.50" width="1.10" height="13.30" fill="rgb(107,107,107)"/><rect x="368.30" y="459.50" width="0.70" height="13.30" fill="rgb(99,99,99)"/><rect x="368.85" y="459.50" width="0.70" height="13.30" fill="rgb(140,140,140)"/><rect x="369.40" y="459.50" width="0.50" height="13.30" fill="rgb(127,127,127)"/><rect x="369.95" y="459.50" width="1.10" height="13.30" fill="rgb(120,120,120)"/><rect x="371.60" y="459.50" width="0.40" height="13.30" fill="rgb(127,127,127)"/><rect x="374.75" y="459.50" width="0.50" height="13.30" fill="rgb(211,211,211)"/><rect x="376.00" y="459.50" width="0.70" height="13.30" fill="rgb(171,171,171)"/><rect x="376.55" y="459.50" width="0.90" height="13.30" fill="rgb(152,152,152)"/><rect x="377.10" y="459.50" width="0.70" height="13.30" fill="rgb(139,139,139)"/><rect x="379.85" y="459.50" width="0.50" height="13.30" fill="rgb(117,117,117)"/><rect x="380.95" y="459.50" width="0.70" height="13.30" fill="rgb(175,175,175)"/><rect x="382.05" y="459.50" width="1.10" height="13.30" fill="rgb(152,152,152)"/><rect x="383.15" y="459.50" width="0.70" height="13.30" fill="rgb(110,110,110)"/><rect x="383.70" y="459.50" width="0.50" height="13.30" fill="rgb(112,112,112)"/><rect x="384.25" y="459.50" width="1.10" height="13.30" fill="rgb(86,86,86)"/><rect x="384.80" y="459.50" width="1.10" height="13.30" fill="rgb(81,81,81)"/><rect x="385.35" y="459.50" width="0.90" height="13.30" fill="rgb(112,112,112)"/><rect x="385.90" y="459.50" width="0.90" height="13.30" fill="rgb(168,168,168)"/><rect x="387.00" y="459.50" width="1.10" height="13.30" fill="rgb(122,122,122)"/><rect x="389.75" y="459.50" width="1.10" height="13.30" fill="rgb(156,156,156)"/><rect x="390.30" y="459.50" width="0.70" height="13.30" fill="rgb(109,109,109)"/><rect x="390.85" y="459.50" width="1.10" height="13.30" fill="rgb(92,92,92)"/><rect x="391.95" y="459.50" width="0.50" height="13.30" fill="rgb(164,164,164)"/><rect x="393.05" y="459.50" width="0.70" height="13.30" fill="rgb(173,173,173)"/><rect x="394.15" y="459.50" width="0.85" height="13.30" fill="rgb(131,131,131)"/><rect x="395.00" y="459.50" width="0.70" height="13.30" fill="rgb(138,138,138)"/><rect x="396.65" y="459.50" width="0.90" height="13.30" fill="rgb(150,150,150)"/><rect x="397.20" y="459.50" width="0.70" height="13.30" fill="rgb(116,116,116)"/><rect x="397.75" y="459.50" width="0.70" height="13.30" fill="rgb(119,119,119)"/><rect x="398.85" y="459.50" width="0.90" height="13.30" fill="rgb(164,164,164)"/><rect x="399.40" y="459.50" width="0.50" height="13.30" fill="rgb(166,166,166)"/><rect x="401.05" y="459.50" width="0.70" height="13.30" fill="rgb(136,136,136)"/><rect x="401.60" y="459.50" width="0.40" height="13.30" fill="rgb(122,122,122)"/><rect x="411.00" y="459.50" width="0.90" height="13.30" fill="rgb(185,185,185)"/><rect x="412.10" y="459.50" width="0.70" height="13.30" fill="rgb(185,185,185)"/><rect x="412.65" y="459.50" width="0.35" height="13.30" fill="rgb(191,191,191)"/><rect x="421.25" y="459.50" width="1.10" height="13.30" fill="rgb(242,242,242)"/>
<defs><linearGradient id="gE2" x1="0" x2="1" y1="0" y2="0"><stop offset="0" stop-color="#c83a48"/><stop offset="0.2" stop-color="#d65a6a"/><stop offset="0.24" stop-color="#e2a2c4"/><stop offset="0.42" stop-color="#e6c4e6"/><stop offset="0.46" stop-color="#d0d0f4"/><stop offset="0.68" stop-color="#a4a4ee"/><stop offset="0.72" stop-color="#7070e2"/><stop offset="0.92" stop-color="#4040d4"/><stop offset="1" stop-color="#2020b8"/></linearGradient></defs>
<rect x="347.50" y="472.80" width="76.70" height="3.00" fill="url(#gE2)" stroke="none" stroke-width="1"/>
<polyline points="347.80,456.20 348.30,447.00 349.00,438.00 349.80,431.00 350.80,427.00 352.00,424.50 353.50,423.20 355.00,422.30 357.00,420.50 359.00,419.50 361.00,419.30 363.00,420.00 365.04,421.23 367.08,422.45 369.12,423.68 371.16,424.91 373.20,426.13 375.24,427.36 377.28,428.59 379.32,429.81 381.36,431.04 383.40,432.27 385.44,433.49 387.48,434.72 389.52,435.95 391.56,437.17 393.60,438.40 395.64,439.63 397.68,440.85 399.72,442.08 401.76,443.31 403.80,444.53 405.84,445.76 407.88,446.99 409.92,448.21 411.96,449.44 414.00,450.67 416.04,451.89 418.08,453.12 420.12,454.35 422.16,455.57 424.20,456.80" fill="none" stroke="#7ee03a" stroke-width="1.1" stroke-linejoin="round" stroke-linecap="round"/>
<rect x="347.50" y="415.50" width="79.90" height="60.70" fill="none" stroke="#000" stroke-width="1.3"/>
<text x="425.10" y="425.20" font-size="6.8" fill="#231f20" stroke="#231f20" stroke-width="0.238" text-anchor="end"><tspan font-style="italic">P</tspan> &lt; 0.0001</text>
<text x="425.10" y="432.60" font-size="6.8" fill="#231f20" stroke="#231f20" stroke-width="0.238" text-anchor="end">NES : 3.04</text>
<line x1="348.00" y1="479.40" x2="362.80" y2="479.40" stroke="#c03848" stroke-width="1.2"/>
<line x1="408.20" y1="479.40" x2="423.00" y2="479.40" stroke="#4050a8" stroke-width="1.2"/>
<text x="249.40" y="487.60" font-size="5.6" fill="#231f20" text-anchor="middle" textLength="21.60" lengthAdjust="spacingAndGlyphs">rPC1 up</text>
<text x="249.40" y="494.40" font-size="5.6" fill="#231f20" text-anchor="middle">genes</text>
<text x="355.15" y="487.60" font-size="5.6" fill="#231f20" text-anchor="middle" textLength="20.70" lengthAdjust="spacingAndGlyphs">rPC1 up</text>
<text x="355.15" y="494.40" font-size="5.6" fill="#231f20" text-anchor="middle">genes</text>
<text x="310.05" y="487.60" font-size="5.6" fill="#231f20" text-anchor="middle" textLength="27.90" lengthAdjust="spacingAndGlyphs">rPC1 down</text>
<text x="310.05" y="494.40" font-size="5.6" fill="#231f20" text-anchor="middle">genes</text>
<text x="415.45" y="487.60" font-size="5.6" fill="#231f20" text-anchor="middle" textLength="27.90" lengthAdjust="spacingAndGlyphs">rPC1 down</text>
<text x="415.45" y="494.40" font-size="5.6" fill="#231f20" text-anchor="middle">genes</text>
<text x="219.30" y="474.70" font-size="7.4" fill="#231f20" stroke="#231f20" stroke-width="0.259" textLength="58.90" lengthAdjust="spacingAndGlyphs" transform="rotate(-90 219.30 474.70)">Enrichment score (ES)</text>
<text x="84.80" y="574.30" font-size="8.4" fill="#231f20" stroke="#231f20" stroke-width="0.294" text-anchor="middle" textLength="70.50" lengthAdjust="spacingAndGlyphs">GO IRE1 mediated</text>
<text x="84.60" y="584.30" font-size="8.4" fill="#231f20" stroke="#231f20" stroke-width="0.294" text-anchor="middle" textLength="16.70" lengthAdjust="spacingAndGlyphs">UPR</text>
<text x="189.50" y="574.80" font-size="8.4" fill="#231f20" stroke="#231f20" stroke-width="0.294" text-anchor="middle" textLength="71.90" lengthAdjust="spacingAndGlyphs">GO response to ER</text>
<text x="189.80" y="583.70" font-size="8.4" fill="#231f20" stroke="#231f20" stroke-width="0.294" text-anchor="middle" textLength="20.50" lengthAdjust="spacingAndGlyphs">stress</text>
<line x1="43.10" y1="636.50" x2="123.00" y2="636.50" stroke="#ececec" stroke-width="0.5"/>
<text x="39.40" y="638.70" font-size="6.3" fill="#231f20" text-anchor="end">0.0</text>
<line x1="43.10" y1="627.50" x2="123.00" y2="627.50" stroke="#ececec" stroke-width="0.5"/>
<text x="39.40" y="629.70" font-size="6.3" fill="#231f20" text-anchor="end">0.1</text>
<line x1="43.10" y1="618.50" x2="123.00" y2="618.50" stroke="#ececec" stroke-width="0.5"/>
<text x="39.40" y="620.70" font-size="6.3" fill="#231f20" text-anchor="end">0.2</text>
<line x1="43.10" y1="609.50" x2="123.00" y2="609.50" stroke="#ececec" stroke-width="0.5"/>
<text x="39.40" y="611.70" font-size="6.3" fill="#231f20" text-anchor="end">0.3</text>
<line x1="43.10" y1="600.50" x2="123.00" y2="600.50" stroke="#ececec" stroke-width="0.5"/>
<text x="39.40" y="602.70" font-size="6.3" fill="#231f20" text-anchor="end">0.4</text>
<line x1="43.10" y1="591.50" x2="123.00" y2="591.50" stroke="#ececec" stroke-width="0.5"/>
<text x="39.40" y="593.70" font-size="6.3" fill="#231f20" text-anchor="end">0.5</text>
<line x1="56.42" y1="589.50" x2="56.42" y2="636.50" stroke="#f2f2f2" stroke-width="0.5"/>
<line x1="69.73" y1="589.50" x2="69.73" y2="636.50" stroke="#f2f2f2" stroke-width="0.5"/>
<line x1="83.05" y1="589.50" x2="83.05" y2="636.50" stroke="#f2f2f2" stroke-width="0.5"/>
<line x1="96.37" y1="589.50" x2="96.37" y2="636.50" stroke="#f2f2f2" stroke-width="0.5"/>
<line x1="109.68" y1="589.50" x2="109.68" y2="636.50" stroke="#f2f2f2" stroke-width="0.5"/>
<line x1="43.10" y1="589.50" x2="43.10" y2="636.50" stroke="#e0e0e0" stroke-width="0.6"/>
<line x1="43.10" y1="636.50" x2="123.00" y2="636.50" stroke="#c8c8c8" stroke-width="0.8"/>
<rect x="43.30" y="636.9" width="1.30" height="14.7" fill="#2a2a2a"/><rect x="44.60" y="636.9" width="1.20" height="14.7" fill="#3a3a3a"/><rect x="45.80" y="636.9" width="1.10" height="14.7" fill="#555"/><rect x="47.80" y="636.9" width="0.70" height="14.7" fill="#999"/><rect x="50.10" y="636.9" width="0.70" height="14.7" fill="#888"/><rect x="51.40" y="636.9" width="0.90" height="14.7" fill="#777"/><rect x="56.00" y="636.9" width="0.70" height="14.7" fill="#8a8a8a"/><rect x="57.00" y="636.9" width="0.60" height="14.7" fill="#aaa"/><rect x="60.40" y="636.9" width="0.80" height="14.7" fill="#bbb"/><rect x="64.20" y="636.9" width="0.80" height="14.7" fill="#888"/><rect x="66.40" y="636.9" width="1.10" height="14.7" fill="#999"/><rect x="71.00" y="636.9" width="1.00" height="14.7" fill="#999"/><rect x="74.20" y="636.9" width="1.20" height="14.7" fill="#777"/><rect x="80.00" y="636.9" width="0.80" height="14.7" fill="#ccc"/><rect x="86.60" y="636.9" width="1.00" height="14.7" fill="#999"/><rect x="91.50" y="636.9" width="0.90" height="14.7" fill="#999"/><rect x="93.90" y="636.9" width="0.60" height="14.7" fill="#aaa"/><rect x="95.00" y="636.9" width="0.60" height="14.7" fill="#999"/><rect x="96.90" y="636.9" width="0.80" height="14.7" fill="#aaa"/><rect x="109.40" y="636.9" width="1.10" height="14.7" fill="#999"/>
<defs><linearGradient id="gF1" x1="0" x2="1" y1="0" y2="0"><stop offset="0" stop-color="#d03040"/><stop offset="0.2" stop-color="#d24858"/><stop offset="0.33" stop-color="#da6a7a"/><stop offset="0.34" stop-color="#e8a8d0"/><stop offset="0.48" stop-color="#e8b0d8"/><stop offset="0.49" stop-color="#d4d4f8"/><stop offset="0.7" stop-color="#c8c8f6"/><stop offset="0.71" stop-color="#7474ea"/><stop offset="0.88" stop-color="#4848e0"/><stop offset="0.92" stop-color="#1818c4"/><stop offset="1" stop-color="#0808b0"/></linearGradient></defs>
<rect x="43.10" y="651.60" width="79.90" height="3.40" fill="url(#gF1)" stroke="none" stroke-width="1"/>
<polyline points="43.30,636.20 43.60,617.70 44.10,610.30 44.90,603.00 46.50,596.40 48.20,596.80 49.80,596.40 50.60,595.60 52.30,593.20 53.90,594.80 55.50,596.80 57.20,595.60 58.80,597.30 61.20,598.40 63.70,599.70 65.30,598.90 67.80,600.50 70.20,601.30 71.90,602.60 73.50,601.30 74.60,603.00 75.90,600.50 77.90,602.20 80.00,604.30 81.70,603.30 84.10,605.40 86.60,607.10 89.00,609.20 91.50,610.80 93.10,611.10 94.70,610.80 96.40,612.00 98.00,612.00 99.60,613.10 102.10,615.20 104.50,617.40 107.00,619.80 109.40,622.30 110.60,621.30 112.70,623.90 116.00,627.20 119.20,630.40 122.50,633.70 123.00,634.50" fill="none" stroke="#7ee03a" stroke-width="1.1" stroke-linejoin="round" stroke-linecap="round"/>
<text x="122.50" y="598.80" font-size="6.8" fill="#231f20" stroke="#231f20" stroke-width="0.238" text-anchor="end">P &lt; 0.0001</text>
<text x="122.20" y="606.80" font-size="6.8" fill="#231f20" stroke="#231f20" stroke-width="0.238" text-anchor="end">NES : -3.7</text>
<text x="23.70" y="652.30" font-size="7.4" fill="#231f20" stroke="#231f20" stroke-width="0.259" textLength="59.80" lengthAdjust="spacingAndGlyphs" transform="rotate(-90 23.70 652.30)">Enrichment score (ES)</text>
<rect x="148.40" y="590.50" width="80.60" height="65.30" fill="#ebe5c9" stroke="#d4ccaa" stroke-width="0.5"/>
<text x="189.80" y="593.60" font-size="3.0" fill="#111" text-anchor="middle" font-weight="bold" textLength="19.00" lengthAdjust="spacingAndGlyphs">Enrichment plot:</text>
<text x="188.20" y="596.30" font-size="3.0" fill="#111" text-anchor="middle" font-weight="bold" textLength="77.50" lengthAdjust="spacingAndGlyphs">GO_RESPONSE_TO_ENDOPLASMIC_RETICULUM_STRE</text>
<text x="189.80" y="599.00" font-size="3.0" fill="#111" text-anchor="middle" font-weight="bold" textLength="3.80" lengthAdjust="spacingAndGlyphs">SS</text>
<rect x="158.90" y="600.40" width="68.10" height="22.30" fill="#fff" stroke="#b8b8b8" stroke-width="0.3"/>
<line x1="172.50" y1="600.60" x2="172.50" y2="622.50" stroke="#f0f0f0" stroke-width="0.3"/>
<line x1="186.10" y1="600.60" x2="186.10" y2="622.50" stroke="#f0f0f0" stroke-width="0.3"/>
<line x1="199.70" y1="600.60" x2="199.70" y2="622.50" stroke="#f0f0f0" stroke-width="0.3"/>
<line x1="213.30" y1="600.60" x2="213.30" y2="622.50" stroke="#f0f0f0" stroke-width="0.3"/>
<line x1="159.00" y1="604.80" x2="227.00" y2="604.80" stroke="#f2f2f2" stroke-width="0.3"/>
<line x1="159.00" y1="609.20" x2="227.00" y2="609.20" stroke="#f2f2f2" stroke-width="0.3"/>
<line x1="159.00" y1="613.60" x2="227.00" y2="613.60" stroke="#f2f2f2" stroke-width="0.3"/>
<line x1="159.00" y1="618.00" x2="227.00" y2="618.00" stroke="#f2f2f2" stroke-width="0.3"/>
<text x="157.50" y="602.00" font-size="1.6" fill="#777" text-anchor="end">0.6</text>
<text x="157.50" y="605.10" font-size="1.6" fill="#777" text-anchor="end">0.5</text>
<text x="157.50" y="608.20" font-size="1.6" fill="#777" text-anchor="end">0.4</text>
<text x="157.50" y="611.30" font-size="1.6" fill="#777" text-anchor="end">0.3</text>
<text x="157.50" y="614.40" font-size="1.6" fill="#777" text-anchor="end">0.2</text>
<text x="157.50" y="617.50" font-size="1.6" fill="#777" text-anchor="end">0.1</text>
<text x="157.50" y="620.60" font-size="1.6" fill="#777" text-anchor="end">0.0</text>
<text x="153.80" y="621.00" font-size="1.8" fill="#666" textLength="19.00" lengthAdjust="spacingAndGlyphs" transform="rotate(-90 153.80 621.00)">Enrichment score (ES)</text>
<rect x="158.90" y="622.70" width="68.10" height="7.40" fill="#fff" stroke="none" stroke-width="1"/>
<rect x="159.00" y="622.70" width="0.90" height="7.40" fill="rgb(50,50,50)"/><rect x="159.55" y="622.70" width="0.70" height="7.40" fill="rgb(70,70,70)"/><rect x="161.75" y="622.70" width="1.10" height="7.40" fill="rgb(54,54,54)"/><rect x="162.30" y="622.70" width="0.50" height="7.40" fill="rgb(75,75,75)"/><rect x="162.85" y="622.70" width="1.10" height="7.40" fill="rgb(24,24,24)"/><rect x="163.95" y="622.70" width="1.10" height="7.40" fill="rgb(68,68,68)"/><rect x="164.50" y="622.70" width="0.90" height="7.40" fill="rgb(22,22,22)"/><rect x="165.05" y="622.70" width="0.50" height="7.40" fill="rgb(54,54,54)"/><rect x="166.15" y="622.70" width="0.70" height="7.40" fill="rgb(71,71,71)"/><rect x="167.25" y="622.70" width="0.75" height="7.40" fill="rgb(29,29,29)"/><rect x="167.80" y="622.70" width="0.20" height="7.40" fill="rgb(41,41,41)"/><rect x="168.00" y="622.70" width="0.90" height="7.40" fill="rgb(62,62,62)"/><rect x="168.55" y="622.70" width="0.50" height="7.40" fill="rgb(46,46,46)"/><rect x="169.65" y="622.70" width="0.50" height="7.40" fill="rgb(75,75,75)"/><rect x="170.20" y="622.70" width="0.90" height="7.40" fill="rgb(11,11,11)"/><rect x="170.75" y="622.70" width="0.90" height="7.40" fill="rgb(49,49,49)"/><rect x="171.30" y="622.70" width="1.10" height="7.40" fill="rgb(23,23,23)"/><rect x="171.85" y="622.70" width="0.90" height="7.40" fill="rgb(56,56,56)"/><rect x="172.40" y="622.70" width="0.90" height="7.40" fill="rgb(54,54,54)"/><rect x="172.95" y="622.70" width="1.10" height="7.40" fill="rgb(1,1,1)"/><rect x="173.50" y="622.70" width="0.50" height="7.40" fill="rgb(93,93,93)"/><rect x="174.60" y="622.70" width="1.10" height="7.40" fill="rgb(112,112,112)"/><rect x="178.45" y="622.70" width="0.90" height="7.40" fill="rgb(82,82,82)"/><rect x="179.00" y="622.70" width="1.10" height="7.40" fill="rgb(50,50,50)"/><rect x="179.55" y="622.70" width="1.10" height="7.40" fill="rgb(105,105,105)"/><rect x="180.10" y="622.70" width="0.90" height="7.40" fill="rgb(91,91,91)"/><rect x="181.20" y="622.70" width="0.70" height="7.40" fill="rgb(12,12,12)"/><rect x="182.30" y="622.70" width="0.70" height="7.40" fill="rgb(114,114,114)"/><rect x="184.10" y="622.70" width="0.90" height="7.40" fill="rgb(133,133,133)"/><rect x="187.95" y="622.70" width="0.90" height="7.40" fill="rgb(32,32,32)"/><rect x="189.05" y="622.70" width="0.70" height="7.40" fill="rgb(36,36,36)"/><rect x="189.60" y="622.70" width="0.50" height="7.40" fill="rgb(105,105,105)"/><rect x="192.90" y="622.70" width="1.10" height="7.40" fill="rgb(151,151,151)"/><rect x="193.45" y="622.70" width="0.70" height="7.40" fill="rgb(32,32,32)"/><rect x="194.00" y="622.70" width="0.70" height="7.40" fill="rgb(129,129,129)"/><rect x="195.10" y="622.70" width="0.90" height="7.40" fill="rgb(35,35,35)"/><rect x="195.65" y="622.70" width="1.10" height="7.40" fill="rgb(144,144,144)"/><rect x="198.40" y="622.70" width="0.90" height="7.40" fill="rgb(20,20,20)"/><rect x="199.50" y="622.70" width="0.50" height="7.40" fill="rgb(37,37,37)"/><rect x="200.00" y="622.70" width="1.10" height="7.40" fill="rgb(90,90,90)"/><rect x="200.55" y="622.70" width="0.70" height="7.40" fill="rgb(152,152,152)"/><rect x="201.65" y="622.70" width="0.70" height="7.40" fill="rgb(62,62,62)"/><rect x="202.20" y="622.70" width="1.10" height="7.40" fill="rgb(102,102,102)"/><rect x="203.85" y="622.70" width="0.50" height="7.40" fill="rgb(43,43,43)"/><rect x="204.40" y="622.70" width="0.90" height="7.40" fill="rgb(64,64,64)"/><rect x="204.95" y="622.70" width="0.50" height="7.40" fill="rgb(119,119,119)"/><rect x="207.70" y="622.70" width="0.90" height="7.40" fill="rgb(139,139,139)"/><rect x="208.25" y="622.70" width="0.90" height="7.40" fill="rgb(167,167,167)"/><rect x="208.80" y="622.70" width="0.70" height="7.40" fill="rgb(146,146,146)"/><rect x="210.45" y="622.70" width="0.50" height="7.40" fill="rgb(145,145,145)"/><rect x="212.10" y="622.70" width="1.10" height="7.40" fill="rgb(60,60,60)"/><rect x="217.20" y="622.70" width="0.90" height="7.40" fill="rgb(110,110,110)"/><rect x="218.30" y="622.70" width="1.10" height="7.40" fill="rgb(146,146,146)"/><rect x="220.50" y="622.70" width="0.70" height="7.40" fill="rgb(159,159,159)"/><rect x="221.05" y="622.70" width="0.50" height="7.40" fill="rgb(167,167,167)"/><rect x="221.60" y="622.70" width="1.10" height="7.40" fill="rgb(109,109,109)"/><rect x="223.25" y="622.70" width="0.70" height="7.40" fill="rgb(90,90,90)"/><rect x="224.90" y="622.70" width="0.50" height="7.40" fill="rgb(179,179,179)"/><rect x="226.55" y="622.70" width="0.25" height="7.40" fill="rgb(133,133,133)"/>
<defs><linearGradient id="gF2" x1="0" x2="1" y1="0" y2="0"><stop offset="0" stop-color="#d82020"/><stop offset="0.33" stop-color="#e05050"/><stop offset="0.36" stop-color="#f0c0c8"/><stop offset="0.5" stop-color="#e8e0f0"/><stop offset="0.62" stop-color="#c8c8f0"/><stop offset="0.68" stop-color="#3030d8"/><stop offset="1" stop-color="#1010d0"/></linearGradient></defs>
<rect x="158.90" y="630.10" width="68.10" height="1.80" fill="url(#gF2)" stroke="none" stroke-width="1"/>
<rect x="158.90" y="631.90" width="68.10" height="14.80" fill="#fff" stroke="#b8b8b8" stroke-width="0.3"/>
<path d="M159.2,632.3 L161,633.8 L165,635 L172,635.9 L185,636.8 L200,637.5 L215,638 L222,638.8 L225.5,641 L226.8,646.2 L226.8,637.5 L159.2,637.5 Z" fill="#cfcfcf" stroke="none" stroke-width="1"/>
<line x1="159.20" y1="637.50" x2="226.80" y2="637.50" stroke="#999" stroke-width="0.3"/>
<text x="190.00" y="640.00" font-size="1.8" fill="#444" text-anchor="middle">Zero cross at 6958</text>
<line x1="198.00" y1="644.50" x2="215.00" y2="644.50" stroke="#8080d0" stroke-width="0.4"/>
<text x="159.50" y="648.20" font-size="1.5" fill="#666" text-anchor="middle">0</text>
<text x="175.00" y="648.20" font-size="1.5" fill="#666" text-anchor="middle">2,000</text>
<text x="191.00" y="648.20" font-size="1.5" fill="#666" text-anchor="middle">4,000</text>
<text x="207.00" y="648.20" font-size="1.5" fill="#666" text-anchor="middle">6,000</text>
<text x="223.00" y="648.20" font-size="1.5" fill="#666" text-anchor="middle">8,000</text>
<text x="190.00" y="650.20" font-size="1.6" fill="#666" text-anchor="middle">Rank in Ordered Dataset</text>
<text x="153.80" y="646.00" font-size="1.6" fill="#666" textLength="13.00" lengthAdjust="spacingAndGlyphs" transform="rotate(-90 153.80 646.00)">Ranked list metric</text>
<rect x="160.90" y="652.40" width="52.90" height="2.00" fill="#fff" stroke="#b0b0b0" stroke-width="0.3"/>
<line x1="162.00" y1="653.40" x2="166.00" y2="653.40" stroke="#7ee03a" stroke-width="0.6"/>
<polyline points="159.20,621.90 159.80,614.00 160.90,607.80 162.50,603.70 165.80,601.60 168.30,601.20 172.40,602.00 179.00,604.50 187.30,607.80 195.60,612.00 203.90,615.30 212.10,618.20 220.40,620.20 227.00,621.90" fill="none" stroke="#7ee03a" stroke-width="1.0" stroke-linejoin="round" stroke-linecap="round"/>
<text x="227.80" y="605.90" font-size="7.6" fill="#231f20" stroke="#231f20" stroke-width="0.266" text-anchor="end" textLength="32.20" lengthAdjust="spacingAndGlyphs">P &lt; 0.0001</text>
<text x="227.80" y="613.60" font-size="7.6" fill="#231f20" stroke="#231f20" stroke-width="0.266" text-anchor="end" textLength="33.50" lengthAdjust="spacingAndGlyphs">NES : -4.15</text>
<text x="145.00" y="640.20" font-size="6.4" fill="#231f20" text-anchor="end">0.0</text>
<text x="145.00" y="633.56" font-size="6.4" fill="#231f20" text-anchor="end">0.1</text>
<text x="145.00" y="626.92" font-size="6.4" fill="#231f20" text-anchor="end">0.2</text>
<text x="145.00" y="620.28" font-size="6.4" fill="#231f20" text-anchor="end">0.3</text>
<text x="145.00" y="613.64" font-size="6.4" fill="#231f20" text-anchor="end">0.4</text>
<text x="145.00" y="607.00" font-size="6.4" fill="#231f20" text-anchor="end">0.5</text>
<text x="145.00" y="600.36" font-size="6.4" fill="#231f20" text-anchor="end">0.6</text>
<text x="145.00" y="593.72" font-size="6.4" fill="#231f20" text-anchor="end">0.7</text>
<line x1="43.30" y1="663.30" x2="57.00" y2="663.30" stroke="#c03848" stroke-width="1.3"/>
<line x1="107.50" y1="663.30" x2="120.80" y2="663.30" stroke="#4050a8" stroke-width="1.3"/>
<line x1="149.20" y1="663.50" x2="163.10" y2="663.50" stroke="#c03848" stroke-width="1.3"/>
<line x1="212.70" y1="663.50" x2="226.50" y2="663.50" stroke="#4050a8" stroke-width="1.3"/>
<text x="50.40" y="671.10" font-size="6.2" fill="#231f20" text-anchor="middle" textLength="22.20" lengthAdjust="spacingAndGlyphs">rPC1 up</text>
<text x="50.40" y="677.70" font-size="6.2" fill="#231f20" text-anchor="middle">genes</text>
<text x="156.35" y="671.30" font-size="6.2" fill="#231f20" text-anchor="middle" textLength="21.10" lengthAdjust="spacingAndGlyphs">rPC1 up</text>
<text x="156.35" y="677.90" font-size="6.2" fill="#231f20" text-anchor="middle">genes</text>
<text x="114.00" y="671.10" font-size="6.2" fill="#231f20" text-anchor="middle" textLength="27.60" lengthAdjust="spacingAndGlyphs">rPC1 down</text>
<text x="114.00" y="677.70" font-size="6.2" fill="#231f20" text-anchor="middle">genes</text>
<text x="220.25" y="671.30" font-size="6.2" fill="#231f20" text-anchor="middle" textLength="27.90" lengthAdjust="spacingAndGlyphs">rPC1 down</text>
<text x="220.25" y="677.90" font-size="6.2" fill="#231f20" text-anchor="middle">genes</text>
<text x="320.30" y="574.70" font-size="8.4" fill="#231f20" stroke="#231f20" stroke-width="0.294" text-anchor="middle" textLength="39.10" lengthAdjust="spacingAndGlyphs">GSE46606</text>
<text x="320.30" y="583.80" font-size="8.4" fill="#231f20" stroke="#231f20" stroke-width="0.294" text-anchor="middle" textLength="117.30" lengthAdjust="spacingAndGlyphs">IRF4 KO vs WT_CD40L-IL2-IL5-</text>
<text x="317.40" y="592.70" font-size="8.4" fill="#231f20" stroke="#231f20" stroke-width="0.294" text-anchor="middle" textLength="100.60" lengthAdjust="spacingAndGlyphs">3days-stimulated B cell Up</text>
<text x="368.60" y="588.60" font-size="4.8" fill="#231f20">21</text>
<text x="445.00" y="574.50" font-size="8.4" fill="#231f20" stroke="#231f20" stroke-width="0.294" text-anchor="middle" textLength="72.80" lengthAdjust="spacingAndGlyphs">Minnich et al., 2016</text>
<text x="481.60" y="570.00" font-size="4.8" fill="#231f20">33</text>
<text x="447.60" y="583.60" font-size="8.4" fill="#231f20" stroke="#231f20" stroke-width="0.294" text-anchor="middle" textLength="87.80" lengthAdjust="spacingAndGlyphs">Prdm1-ko vs Prdm1-het</text>
<text x="447.80" y="592.70" font-size="8.4" fill="#231f20" stroke="#231f20" stroke-width="0.294" text-anchor="middle" textLength="10.30" lengthAdjust="spacingAndGlyphs">Up</text>
<rect x="272.50" y="601.30" width="93.80" height="69.90" fill="#efebdb" stroke="none" stroke-width="1"/>
<rect x="278.40" y="602.50" width="84.00" height="47.30" fill="#fff" stroke="none" stroke-width="1"/>
<line x1="292.40" y1="602.50" x2="292.40" y2="649.80" stroke="#ededed" stroke-width="0.5"/>
<line x1="306.40" y1="602.50" x2="306.40" y2="649.80" stroke="#ededed" stroke-width="0.5"/>
<line x1="320.40" y1="602.50" x2="320.40" y2="649.80" stroke="#ededed" stroke-width="0.5"/>
<line x1="334.40" y1="602.50" x2="334.40" y2="649.80" stroke="#ededed" stroke-width="0.5"/>
<line x1="348.40" y1="602.50" x2="348.40" y2="649.80" stroke="#ededed" stroke-width="0.5"/>
<line x1="278.40" y1="608.14" x2="362.40" y2="608.14" stroke="#f0f0f0" stroke-width="0.5"/>
<line x1="278.40" y1="613.77" x2="362.40" y2="613.77" stroke="#f0f0f0" stroke-width="0.5"/>
<line x1="278.40" y1="619.41" x2="362.40" y2="619.41" stroke="#f0f0f0" stroke-width="0.5"/>
<line x1="278.40" y1="625.04" x2="362.40" y2="625.04" stroke="#f0f0f0" stroke-width="0.5"/>
<line x1="278.40" y1="630.68" x2="362.40" y2="630.68" stroke="#f0f0f0" stroke-width="0.5"/>
<line x1="278.40" y1="636.31" x2="362.40" y2="636.31" stroke="#f0f0f0" stroke-width="0.5"/>
<line x1="278.40" y1="641.95" x2="362.40" y2="641.95" stroke="#f0f0f0" stroke-width="0.5"/>
<text x="273.30" y="607.00" font-size="2.3" fill="#666">0.6</text>
<text x="273.30" y="612.13" font-size="2.3" fill="#666">0.5</text>
<text x="273.30" y="617.27" font-size="2.3" fill="#666">0.4</text>
<text x="273.30" y="622.40" font-size="2.3" fill="#666">0.3</text>
<text x="273.30" y="627.53" font-size="2.3" fill="#666">0.2</text>
<text x="273.30" y="632.67" font-size="2.3" fill="#666">0.1</text>
<text x="273.30" y="637.80" font-size="2.3" fill="#666">0.0</text>
<text x="273.30" y="642.93" font-size="2.3" fill="#666">-0.1</text>
<line x1="291.00" y1="600.30" x2="291.00" y2="601.30" stroke="#999" stroke-width="0.4"/>
<line x1="313.68" y1="600.30" x2="313.68" y2="601.30" stroke="#999" stroke-width="0.4"/>
<line x1="335.52" y1="600.30" x2="335.52" y2="601.30" stroke="#999" stroke-width="0.4"/>
<line x1="354.00" y1="600.30" x2="354.00" y2="601.30" stroke="#999" stroke-width="0.4"/>
<line x1="278.40" y1="637.00" x2="362.40" y2="637.00" stroke="#bdbdbd" stroke-width="1.4"/>
<line x1="278.40" y1="649.80" x2="362.40" y2="649.80" stroke="#c4c4c4" stroke-width="0.5"/>
<rect x="278.40" y="650.10" width="84.00" height="16.30" fill="#fff" stroke="none" stroke-width="1"/>
<rect x="278.60" y="650.90" width="0.70" height="15.50" fill="rgb(13,13,13)"/><rect x="279.15" y="650.90" width="0.90" height="15.50" fill="rgb(23,23,23)"/><rect x="279.70" y="650.90" width="0.50" height="15.50" fill="rgb(23,23,23)"/><rect x="280.25" y="650.90" width="0.50" height="15.50" fill="rgb(39,39,39)"/><rect x="280.80" y="650.90" width="0.70" height="15.50" fill="rgb(9,9,9)"/><rect x="281.90" y="650.90" width="0.50" height="15.50" fill="rgb(15,15,15)"/><rect x="282.45" y="650.90" width="0.85" height="15.50" fill="rgb(35,35,35)"/><rect x="283.00" y="650.90" width="0.30" height="15.50" fill="rgb(50,50,50)"/><rect x="283.30" y="650.90" width="1.10" height="15.50" fill="rgb(171,171,171)"/><rect x="283.85" y="650.90" width="0.50" height="15.50" fill="rgb(190,190,190)"/><rect x="284.40" y="650.90" width="0.70" height="15.50" fill="rgb(158,158,158)"/><rect x="284.95" y="650.90" width="0.50" height="15.50" fill="rgb(169,169,169)"/><rect x="286.05" y="650.90" width="0.05" height="15.50" fill="rgb(203,203,203)"/><rect x="286.10" y="650.90" width="0.50" height="15.50" fill="rgb(44,44,44)"/><rect x="286.65" y="650.90" width="1.10" height="15.50" fill="rgb(96,96,96)"/><rect x="287.20" y="650.90" width="0.50" height="15.50" fill="rgb(53,53,53)"/><rect x="287.75" y="650.90" width="1.10" height="15.50" fill="rgb(75,75,75)"/><rect x="288.30" y="650.90" width="0.50" height="15.50" fill="rgb(104,104,104)"/><rect x="288.85" y="650.90" width="0.90" height="15.50" fill="rgb(95,95,95)"/><rect x="289.40" y="650.90" width="0.50" height="15.50" fill="rgb(110,110,110)"/><rect x="292.35" y="650.90" width="1.10" height="15.50" fill="rgb(129,129,129)"/><rect x="292.90" y="650.90" width="1.10" height="15.50" fill="rgb(114,114,114)"/><rect x="293.45" y="650.90" width="0.70" height="15.50" fill="rgb(49,49,49)"/><rect x="294.00" y="650.90" width="1.10" height="15.50" fill="rgb(76,76,76)"/><rect x="294.55" y="650.90" width="1.10" height="15.50" fill="rgb(81,81,81)"/><rect x="295.10" y="650.90" width="0.70" height="15.50" fill="rgb(106,106,106)"/><rect x="296.20" y="650.90" width="0.30" height="15.50" fill="rgb(77,77,77)"/><rect x="297.05" y="650.90" width="0.90" height="15.50" fill="rgb(173,173,173)"/><rect x="298.70" y="650.90" width="0.50" height="15.50" fill="rgb(123,123,123)"/><rect x="299.25" y="650.90" width="0.05" height="15.50" fill="rgb(147,147,147)"/><rect x="299.30" y="650.90" width="0.70" height="15.50" fill="rgb(51,51,51)"/><rect x="299.85" y="650.90" width="1.10" height="15.50" fill="rgb(40,40,40)"/><rect x="300.40" y="650.90" width="1.10" height="15.50" fill="rgb(40,40,40)"/><rect x="300.95" y="650.90" width="1.10" height="15.50" fill="rgb(94,94,94)"/><rect x="301.50" y="650.90" width="0.90" height="15.50" fill="rgb(62,62,62)"/><rect x="302.05" y="650.90" width="0.70" height="15.50" fill="rgb(32,32,32)"/><rect x="302.60" y="650.90" width="0.50" height="15.50" fill="rgb(76,76,76)"/><rect x="303.10" y="650.90" width="0.50" height="15.50" fill="rgb(208,208,208)"/><rect x="303.65" y="650.90" width="0.90" height="15.50" fill="rgb(189,189,189)"/><rect x="304.20" y="650.90" width="0.90" height="15.50" fill="rgb(173,173,173)"/><rect x="304.75" y="650.90" width="1.10" height="15.50" fill="rgb(165,165,165)"/><rect x="306.45" y="650.90" width="0.90" height="15.50" fill="rgb(118,118,118)"/><rect x="307.00" y="650.90" width="0.70" height="15.50" fill="rgb(109,109,109)"/><rect x="307.55" y="650.90" width="1.10" height="15.50" fill="rgb(106,106,106)"/><rect x="308.10" y="650.90" width="1.10" height="15.50" fill="rgb(78,78,78)"/><rect x="308.65" y="650.90" width="1.10" height="15.50" fill="rgb(84,84,84)"/><rect x="309.75" y="650.90" width="0.50" height="15.50" fill="rgb(65,65,65)"/><rect x="310.30" y="650.90" width="1.10" height="15.50" fill="rgb(123,123,123)"/><rect x="310.85" y="650.90" width="0.65" height="15.50" fill="rgb(92,92,92)"/><rect x="311.40" y="650.90" width="0.10" height="15.50" fill="rgb(102,102,102)"/><rect x="313.15" y="650.90" width="1.10" height="15.50" fill="rgb(226,226,226)"/><rect x="313.70" y="650.90" width="0.70" height="15.50" fill="rgb(232,232,232)"/><rect x="314.40" y="650.90" width="0.70" height="15.50" fill="rgb(156,156,156)"/><rect x="314.95" y="650.90" width="0.90" height="15.50" fill="rgb(133,133,133)"/><rect x="315.50" y="650.90" width="0.80" height="15.50" fill="rgb(168,168,168)"/><rect x="316.05" y="650.90" width="0.25" height="15.50" fill="rgb(157,157,157)"/><rect x="321.00" y="650.90" width="0.90" height="15.50" fill="rgb(142,142,142)"/><rect x="321.55" y="650.90" width="0.90" height="15.50" fill="rgb(170,170,170)"/><rect x="322.10" y="650.90" width="0.40" height="15.50" fill="rgb(147,147,147)"/><rect x="328.50" y="650.90" width="0.50" height="15.50" fill="rgb(184,184,184)"/><rect x="333.20" y="650.90" width="1.10" height="15.50" fill="rgb(97,97,97)"/><rect x="333.75" y="650.90" width="0.90" height="15.50" fill="rgb(72,72,72)"/><rect x="334.30" y="650.90" width="0.70" height="15.50" fill="rgb(64,64,64)"/><rect x="334.85" y="650.90" width="0.90" height="15.50" fill="rgb(52,52,52)"/><rect x="335.40" y="650.90" width="0.90" height="15.50" fill="rgb(67,67,67)"/><rect x="335.95" y="650.90" width="0.90" height="15.50" fill="rgb(72,72,72)"/><rect x="336.50" y="650.90" width="0.50" height="15.50" fill="rgb(58,58,58)"/><rect x="337.55" y="650.90" width="0.50" height="15.50" fill="rgb(132,132,132)"/><rect x="338.10" y="650.90" width="0.90" height="15.50" fill="rgb(176,176,176)"/><rect x="339.20" y="650.90" width="1.10" height="15.50" fill="rgb(175,175,175)"/><rect x="339.75" y="650.90" width="0.70" height="15.50" fill="rgb(117,117,117)"/><rect x="340.30" y="650.90" width="0.40" height="15.50" fill="rgb(148,148,148)"/><rect x="340.70" y="650.90" width="0.50" height="15.50" fill="rgb(92,92,92)"/><rect x="341.25" y="650.90" width="1.10" height="15.50" fill="rgb(106,106,106)"/><rect x="342.35" y="650.90" width="0.50" height="15.50" fill="rgb(148,148,148)"/><rect x="342.90" y="650.90" width="0.50" height="15.50" fill="rgb(95,95,95)"/><rect x="343.45" y="650.90" width="0.50" height="15.50" fill="rgb(123,123,123)"/><rect x="344.00" y="650.90" width="0.50" height="15.50" fill="rgb(145,145,145)"/><rect x="344.55" y="650.90" width="0.90" height="15.50" fill="rgb(118,118,118)"/><rect x="345.10" y="650.90" width="0.90" height="15.50" fill="rgb(93,93,93)"/><rect x="346.20" y="650.90" width="0.20" height="15.50" fill="rgb(129,129,129)"/><rect x="349.20" y="650.90" width="0.50" height="15.50" fill="rgb(146,146,146)"/><rect x="350.30" y="650.90" width="0.90" height="15.50" fill="rgb(125,125,125)"/><rect x="350.85" y="650.90" width="0.90" height="15.50" fill="rgb(164,164,164)"/><rect x="351.40" y="650.90" width="0.50" height="15.50" fill="rgb(123,123,123)"/><rect x="351.95" y="650.90" width="0.50" height="15.50" fill="rgb(100,100,100)"/><rect x="353.05" y="650.90" width="0.90" height="15.50" fill="rgb(152,152,152)"/><rect x="354.15" y="650.90" width="0.70" height="15.50" fill="rgb(102,102,102)"/><rect x="354.70" y="650.90" width="0.20" height="15.50" fill="rgb(102,102,102)"/><rect x="354.90" y="650.90" width="1.10" height="15.50" fill="rgb(30,30,30)"/><rect x="355.45" y="650.90" width="0.50" height="15.50" fill="rgb(36,36,36)"/><rect x="356.00" y="650.90" width="0.50" height="15.50" fill="rgb(88,88,88)"/><rect x="356.55" y="650.90" width="0.70" height="15.50" fill="rgb(55,55,55)"/><rect x="357.65" y="650.90" width="0.70" height="15.50" fill="rgb(56,56,56)"/><rect x="358.20" y="650.90" width="1.10" height="15.50" fill="rgb(46,46,46)"/><rect x="358.75" y="650.90" width="1.10" height="15.50" fill="rgb(49,49,49)"/><rect x="359.30" y="650.90" width="1.10" height="15.50" fill="rgb(37,37,37)"/><rect x="359.85" y="650.90" width="0.65" height="15.50" fill="rgb(70,70,70)"/><rect x="360.40" y="650.90" width="0.10" height="15.50" fill="rgb(86,86,86)"/><rect x="360.50" y="650.90" width="1.10" height="15.50" fill="rgb(106,106,106)"/><rect x="361.05" y="650.90" width="0.95" height="15.50" fill="rgb(130,130,130)"/>
<defs><linearGradient id="gG1" x1="0" x2="1" y1="0" y2="0"><stop offset="0" stop-color="#cc3848"/><stop offset="0.3" stop-color="#dc6070"/><stop offset="0.33" stop-color="#e0a4d8"/><stop offset="0.64" stop-color="#e4b0e0"/><stop offset="0.66" stop-color="#cccaf4"/><stop offset="0.85" stop-color="#b0b0f0"/><stop offset="0.86" stop-color="#5a5ae4"/><stop offset="0.94" stop-color="#3c3cdc"/><stop offset="0.955" stop-color="#1212b4"/><stop offset="1" stop-color="#0c0ca8"/></linearGradient></defs>
<rect x="278.40" y="666.40" width="84.00" height="3.60" fill="url(#gG1)" stroke="none" stroke-width="1"/>
<polyline points="278.70,637.00 279.10,630.00 280.00,620.00 281.50,611.00 283.00,606.50 285.00,606.00 287.50,605.30 289.00,606.30 291.00,607.00 293.00,607.20 296.00,608.50 300.00,610.50 305.00,614.00 310.00,618.00 315.00,622.50 320.00,627.00 325.00,631.50 330.00,636.00 335.00,640.00 340.00,643.50 345.00,646.00 350.00,647.50 353.00,648.30 355.50,648.00 357.00,645.50 359.00,641.50 361.00,639.00 362.30,636.80" fill="none" stroke="#7ee03a" stroke-width="1.2" stroke-linejoin="round" stroke-linecap="round"/>
<text x="361.40" y="607.00" font-size="6.6" fill="#231f20" stroke="#231f20" stroke-width="0.231" text-anchor="end"><tspan font-style="italic">P</tspan> &lt;0.0001</text>
<text x="361.40" y="613.80" font-size="6.6" fill="#231f20" stroke="#231f20" stroke-width="0.231" text-anchor="end">NES : 1.35</text>
<rect x="400.80" y="601.20" width="91.40" height="69.60" fill="#efebdb" stroke="none" stroke-width="1"/>
<rect x="406.50" y="602.40" width="82.80" height="47.40" fill="#fff" stroke="none" stroke-width="1"/>
<line x1="420.30" y1="602.40" x2="420.30" y2="649.80" stroke="#ededed" stroke-width="0.5"/>
<line x1="434.10" y1="602.40" x2="434.10" y2="649.80" stroke="#ededed" stroke-width="0.5"/>
<line x1="447.90" y1="602.40" x2="447.90" y2="649.80" stroke="#ededed" stroke-width="0.5"/>
<line x1="461.70" y1="602.40" x2="461.70" y2="649.80" stroke="#ededed" stroke-width="0.5"/>
<line x1="475.50" y1="602.40" x2="475.50" y2="649.80" stroke="#ededed" stroke-width="0.5"/>
<line x1="406.50" y1="608.05" x2="489.30" y2="608.05" stroke="#f0f0f0" stroke-width="0.5"/>
<line x1="406.50" y1="613.69" x2="489.30" y2="613.69" stroke="#f0f0f0" stroke-width="0.5"/>
<line x1="406.50" y1="619.34" x2="489.30" y2="619.34" stroke="#f0f0f0" stroke-width="0.5"/>
<line x1="406.50" y1="624.99" x2="489.30" y2="624.99" stroke="#f0f0f0" stroke-width="0.5"/>
<line x1="406.50" y1="630.64" x2="489.30" y2="630.64" stroke="#f0f0f0" stroke-width="0.5"/>
<line x1="406.50" y1="636.28" x2="489.30" y2="636.28" stroke="#f0f0f0" stroke-width="0.5"/>
<line x1="406.50" y1="641.93" x2="489.30" y2="641.93" stroke="#f0f0f0" stroke-width="0.5"/>
<text x="401.60" y="606.90" font-size="2.3" fill="#666">0.6</text>
<text x="401.60" y="612.52" font-size="2.3" fill="#666">0.5</text>
<text x="401.60" y="618.13" font-size="2.3" fill="#666">0.4</text>
<text x="401.60" y="623.75" font-size="2.3" fill="#666">0.3</text>
<text x="401.60" y="629.37" font-size="2.3" fill="#666">0.2</text>
<text x="401.60" y="634.98" font-size="2.3" fill="#666">0.1</text>
<text x="401.60" y="640.60" font-size="2.3" fill="#666">0.0</text>
<text x="401.60" y="646.22" font-size="2.3" fill="#666">-0.1</text>
<line x1="418.92" y1="600.20" x2="418.92" y2="601.20" stroke="#999" stroke-width="0.4"/>
<line x1="441.28" y1="600.20" x2="441.28" y2="601.20" stroke="#999" stroke-width="0.4"/>
<line x1="462.80" y1="600.20" x2="462.80" y2="601.20" stroke="#999" stroke-width="0.4"/>
<line x1="481.02" y1="600.20" x2="481.02" y2="601.20" stroke="#999" stroke-width="0.4"/>
<line x1="406.50" y1="639.80" x2="489.30" y2="639.80" stroke="#bdbdbd" stroke-width="1.4"/>
<line x1="406.50" y1="649.80" x2="489.30" y2="649.80" stroke="#c4c4c4" stroke-width="0.5"/>
<rect x="406.50" y="650.10" width="82.80" height="15.70" fill="#fff" stroke="none" stroke-width="1"/>
<rect x="406.50" y="651.10" width="0.70" height="14.70" fill="rgb(41,41,41)"/><rect x="407.60" y="651.10" width="0.50" height="14.70" fill="rgb(41,41,41)"/><rect x="408.15" y="651.10" width="0.50" height="14.70" fill="rgb(29,29,29)"/><rect x="408.70" y="651.10" width="1.10" height="14.70" fill="rgb(34,34,34)"/><rect x="409.25" y="651.10" width="0.50" height="14.70" fill="rgb(3,3,3)"/><rect x="409.80" y="651.10" width="0.40" height="14.70" fill="rgb(22,22,22)"/><rect x="410.20" y="651.10" width="0.70" height="14.70" fill="rgb(178,178,178)"/><rect x="411.30" y="651.10" width="0.70" height="14.70" fill="rgb(155,155,155)"/><rect x="411.85" y="651.10" width="0.50" height="14.70" fill="rgb(123,123,123)"/><rect x="412.40" y="651.10" width="0.60" height="14.70" fill="rgb(124,124,124)"/><rect x="412.95" y="651.10" width="0.05" height="14.70" fill="rgb(182,182,182)"/><rect x="413.55" y="651.10" width="0.50" height="14.70" fill="rgb(92,92,92)"/><rect x="414.10" y="651.10" width="0.90" height="14.70" fill="rgb(89,89,89)"/><rect x="414.65" y="651.10" width="1.10" height="14.70" fill="rgb(93,93,93)"/><rect x="415.20" y="651.10" width="0.90" height="14.70" fill="rgb(107,107,107)"/><rect x="415.75" y="651.10" width="0.90" height="14.70" fill="rgb(87,87,87)"/><rect x="416.30" y="651.10" width="0.50" height="14.70" fill="rgb(93,93,93)"/><rect x="417.35" y="651.10" width="1.10" height="14.70" fill="rgb(82,82,82)"/><rect x="418.45" y="651.10" width="1.10" height="14.70" fill="rgb(109,109,109)"/><rect x="419.00" y="651.10" width="0.50" height="14.70" fill="rgb(176,176,176)"/><rect x="419.55" y="651.10" width="0.70" height="14.70" fill="rgb(140,140,140)"/><rect x="420.10" y="651.10" width="1.10" height="14.70" fill="rgb(103,103,103)"/><rect x="420.65" y="651.10" width="0.50" height="14.70" fill="rgb(74,74,74)"/><rect x="421.20" y="651.10" width="0.50" height="14.70" fill="rgb(157,157,157)"/><rect x="421.75" y="651.10" width="0.90" height="14.70" fill="rgb(71,71,71)"/><rect x="422.30" y="651.10" width="0.90" height="14.70" fill="rgb(128,128,128)"/><rect x="423.40" y="651.10" width="1.00" height="14.70" fill="rgb(162,162,162)"/><rect x="423.95" y="651.10" width="0.45" height="14.70" fill="rgb(73,73,73)"/><rect x="424.40" y="651.10" width="0.70" height="14.70" fill="rgb(83,83,83)"/><rect x="424.95" y="651.10" width="0.90" height="14.70" fill="rgb(76,76,76)"/><rect x="425.50" y="651.10" width="0.90" height="14.70" fill="rgb(62,62,62)"/><rect x="426.05" y="651.10" width="0.70" height="14.70" fill="rgb(34,34,34)"/><rect x="426.60" y="651.10" width="0.50" height="14.70" fill="rgb(45,45,45)"/><rect x="427.15" y="651.10" width="0.70" height="14.70" fill="rgb(106,106,106)"/><rect x="427.70" y="651.10" width="0.40" height="14.70" fill="rgb(92,92,92)"/><rect x="428.65" y="651.10" width="0.50" height="14.70" fill="rgb(153,153,153)"/><rect x="429.20" y="651.10" width="0.50" height="14.70" fill="rgb(151,151,151)"/><rect x="430.30" y="651.10" width="1.10" height="14.70" fill="rgb(157,157,157)"/><rect x="430.85" y="651.10" width="0.70" height="14.70" fill="rgb(150,150,150)"/><rect x="431.40" y="651.10" width="0.50" height="14.70" fill="rgb(187,187,187)"/><rect x="431.90" y="651.10" width="0.70" height="14.70" fill="rgb(48,48,48)"/><rect x="432.45" y="651.10" width="0.90" height="14.70" fill="rgb(66,66,66)"/><rect x="433.00" y="651.10" width="0.70" height="14.70" fill="rgb(83,83,83)"/><rect x="433.55" y="651.10" width="0.50" height="14.70" fill="rgb(55,55,55)"/><rect x="434.10" y="651.10" width="0.90" height="14.70" fill="rgb(78,78,78)"/><rect x="434.65" y="651.10" width="1.05" height="14.70" fill="rgb(103,103,103)"/><rect x="435.20" y="651.10" width="0.50" height="14.70" fill="rgb(51,51,51)"/><rect x="435.70" y="651.10" width="0.70" height="14.70" fill="rgb(116,116,116)"/><rect x="436.25" y="651.10" width="0.90" height="14.70" fill="rgb(153,153,153)"/><rect x="437.90" y="651.10" width="0.60" height="14.70" fill="rgb(177,177,177)"/><rect x="443.45" y="651.10" width="0.50" height="14.70" fill="rgb(195,195,195)"/><rect x="444.65" y="651.10" width="0.50" height="14.70" fill="rgb(168,168,168)"/><rect x="445.20" y="651.10" width="1.10" height="14.70" fill="rgb(128,128,128)"/><rect x="445.75" y="651.10" width="1.10" height="14.70" fill="rgb(95,95,95)"/><rect x="446.30" y="651.10" width="0.70" height="14.70" fill="rgb(111,111,111)"/><rect x="446.85" y="651.10" width="0.90" height="14.70" fill="rgb(115,115,115)"/><rect x="447.40" y="651.10" width="0.50" height="14.70" fill="rgb(152,152,152)"/><rect x="449.80" y="651.10" width="1.10" height="14.70" fill="rgb(58,58,58)"/><rect x="450.35" y="651.10" width="0.50" height="14.70" fill="rgb(75,75,75)"/><rect x="451.45" y="651.10" width="0.25" height="14.70" fill="rgb(47,47,47)"/><rect x="458.40" y="651.10" width="1.10" height="14.70" fill="rgb(128,128,128)"/><rect x="458.95" y="651.10" width="0.90" height="14.70" fill="rgb(165,165,165)"/><rect x="459.50" y="651.10" width="0.50" height="14.70" fill="rgb(154,154,154)"/><rect x="460.00" y="651.10" width="1.10" height="14.70" fill="rgb(200,200,200)"/><rect x="462.20" y="651.10" width="1.10" height="14.70" fill="rgb(210,210,210)"/><rect x="463.30" y="651.10" width="0.70" height="14.70" fill="rgb(206,206,206)"/><rect x="464.40" y="651.10" width="1.10" height="14.70" fill="rgb(207,207,207)"/><rect x="465.80" y="651.10" width="0.90" height="14.70" fill="rgb(36,36,36)"/><rect x="466.90" y="651.10" width="0.90" height="14.70" fill="rgb(74,74,74)"/><rect x="467.45" y="651.10" width="0.70" height="14.70" fill="rgb(80,80,80)"/><rect x="468.00" y="651.10" width="1.10" height="14.70" fill="rgb(39,39,39)"/><rect x="468.55" y="651.10" width="0.50" height="14.70" fill="rgb(80,80,80)"/><rect x="469.10" y="651.10" width="0.70" height="14.70" fill="rgb(38,38,38)"/><rect x="469.65" y="651.10" width="0.85" height="14.70" fill="rgb(49,49,49)"/><rect x="470.20" y="651.10" width="0.30" height="14.70" fill="rgb(38,38,38)"/><rect x="470.50" y="651.10" width="0.70" height="14.70" fill="rgb(149,149,149)"/><rect x="471.05" y="651.10" width="0.70" height="14.70" fill="rgb(131,131,131)"/><rect x="472.15" y="651.10" width="1.10" height="14.70" fill="rgb(125,125,125)"/><rect x="473.30" y="651.10" width="0.90" height="14.70" fill="rgb(56,56,56)"/><rect x="473.85" y="651.10" width="1.10" height="14.70" fill="rgb(46,46,46)"/><rect x="474.40" y="651.10" width="0.50" height="14.70" fill="rgb(102,102,102)"/><rect x="474.95" y="651.10" width="1.10" height="14.70" fill="rgb(95,95,95)"/><rect x="475.50" y="651.10" width="0.50" height="14.70" fill="rgb(76,76,76)"/><rect x="476.05" y="651.10" width="0.50" height="14.70" fill="rgb(36,36,36)"/><rect x="476.60" y="651.10" width="0.90" height="14.70" fill="rgb(80,80,80)"/><rect x="477.70" y="651.10" width="1.10" height="14.70" fill="rgb(95,95,95)"/><rect x="478.25" y="651.10" width="0.50" height="14.70" fill="rgb(91,91,91)"/><rect x="478.80" y="651.10" width="0.20" height="14.70" fill="rgb(59,59,59)"/><rect x="479.00" y="651.10" width="0.50" height="14.70" fill="rgb(60,60,60)"/><rect x="479.55" y="651.10" width="0.50" height="14.70" fill="rgb(138,138,138)"/><rect x="480.10" y="651.10" width="0.50" height="14.70" fill="rgb(78,78,78)"/><rect x="480.65" y="651.10" width="0.50" height="14.70" fill="rgb(143,143,143)"/><rect x="481.20" y="651.10" width="0.90" height="14.70" fill="rgb(139,139,139)"/><rect x="481.75" y="651.10" width="0.50" height="14.70" fill="rgb(119,119,119)"/><rect x="482.30" y="651.10" width="0.50" height="14.70" fill="rgb(125,125,125)"/><rect x="482.85" y="651.10" width="1.10" height="14.70" fill="rgb(65,65,65)"/><rect x="483.40" y="651.10" width="0.90" height="14.70" fill="rgb(136,136,136)"/><rect x="483.95" y="651.10" width="0.50" height="14.70" fill="rgb(100,100,100)"/><rect x="484.50" y="651.10" width="0.10" height="14.70" fill="rgb(117,117,117)"/><rect x="484.60" y="651.10" width="0.50" height="14.70" fill="rgb(80,80,80)"/><rect x="485.15" y="651.10" width="0.70" height="14.70" fill="rgb(83,83,83)"/><rect x="485.70" y="651.10" width="0.90" height="14.70" fill="rgb(53,53,53)"/><rect x="486.25" y="651.10" width="0.50" height="14.70" fill="rgb(42,42,42)"/><rect x="486.80" y="651.10" width="0.70" height="14.70" fill="rgb(60,60,60)"/><rect x="487.35" y="651.10" width="1.10" height="14.70" fill="rgb(55,55,55)"/><rect x="487.90" y="651.10" width="0.90" height="14.70" fill="rgb(37,37,37)"/><rect x="488.45" y="651.10" width="0.50" height="14.70" fill="rgb(70,70,70)"/>
<defs><linearGradient id="gG2" x1="0" x2="1" y1="0" y2="0"><stop offset="0" stop-color="#cc3848"/><stop offset="0.3" stop-color="#dc6070"/><stop offset="0.32" stop-color="#e0a4d8"/><stop offset="0.64" stop-color="#e4b0e0"/><stop offset="0.65" stop-color="#cccaf4"/><stop offset="0.86" stop-color="#b0b0f0"/><stop offset="0.87" stop-color="#5a5ae4"/><stop offset="0.95" stop-color="#3c3cdc"/><stop offset="0.96" stop-color="#1212b4"/><stop offset="1" stop-color="#0c0ca8"/></linearGradient></defs>
<rect x="406.50" y="665.80" width="82.80" height="3.80" fill="url(#gG2)" stroke="none" stroke-width="1"/>
<polyline points="406.80,640.00 407.50,625.00 409.00,611.00 411.00,605.00 413.00,603.50 416.00,604.00 418.00,603.00 421.00,603.50 425.00,605.50 430.00,609.00 435.00,613.00 440.00,617.00 445.00,621.00 450.00,625.00 455.00,629.30 460.00,633.50 464.00,637.00 468.00,640.00 472.00,643.00 475.00,645.00 478.00,646.80 480.00,647.50 482.00,647.90 484.00,647.80 486.00,646.80 487.50,645.00 488.50,642.50 489.20,640.00" fill="none" stroke="#7ee03a" stroke-width="1.2" stroke-linejoin="round" stroke-linecap="round"/>
<text x="491.50" y="606.40" font-size="6.6" fill="#231f20" stroke="#231f20" stroke-width="0.231" text-anchor="end"><tspan font-style="italic">P</tspan> &lt;0.0001</text>
<text x="491.50" y="615.50" font-size="6.6" fill="#231f20" stroke="#231f20" stroke-width="0.231" text-anchor="end">NES : 1.47</text>
<text x="267.40" y="665.10" font-size="7.4" fill="#231f20" stroke="#231f20" stroke-width="0.259" textLength="59.40" lengthAdjust="spacingAndGlyphs" transform="rotate(-90 267.40 665.10)">Enrichment score (ES)</text>
<text x="394.30" y="665.10" font-size="7.4" fill="#231f20" stroke="#231f20" stroke-width="0.259" textLength="59.40" lengthAdjust="spacingAndGlyphs" transform="rotate(-90 394.30 665.10)">Enrichment score (ES)</text>
<text x="261.90" y="685.50" font-size="8.8" fill="#231f20" stroke="#231f20" stroke-width="0.308" textLength="39.30" lengthAdjust="spacingAndGlyphs">P2/CD23+</text>
<text x="341.90" y="685.50" font-size="8.8" fill="#231f20" stroke="#231f20" stroke-width="0.308" textLength="36.20" lengthAdjust="spacingAndGlyphs">P2/CD23-</text>
<text x="390.00" y="685.50" font-size="8.8" fill="#231f20" stroke="#231f20" stroke-width="0.308" textLength="38.50" lengthAdjust="spacingAndGlyphs">P2/CD23+</text>
<text x="470.40" y="685.50" font-size="8.8" fill="#231f20" stroke="#231f20" stroke-width="0.308" textLength="36.20" lengthAdjust="spacingAndGlyphs">P2/CD23-</text>
<rect x="30.40" y="153.30" width="150.20" height="7.60" fill="#fbf1cb" stroke="none" stroke-width="1"/>
<rect x="180.60" y="153.30" width="186.60" height="7.60" fill="#f9e5d8" stroke="none" stroke-width="1"/>
<rect x="30.40" y="160.80" width="337.60" height="0.70" fill="#dadada" stroke="none" stroke-width="1"/>
<rect x="30.40" y="161.40" width="337.60" height="3.30" fill="#b2b4b6" stroke="none" stroke-width="1"/>
<path d="M368,156.1 L379.6,162.5 L368,169.8 Z" fill="#d9d9d9" stroke="#8c8c8c" stroke-width="0.7"/>
<line x1="30.40" y1="142.30" x2="30.40" y2="164.50" stroke="#222" stroke-width="1.0"/>
<line x1="105.20" y1="147.20" x2="105.20" y2="161.30" stroke="#6a6a6a" stroke-width="0.9"/>
<line x1="180.50" y1="142.10" x2="180.50" y2="161.40" stroke="#2a2a2a" stroke-width="1.0"/>
<line x1="256.20" y1="153.30" x2="256.20" y2="161.10" stroke="#6a6a6a" stroke-width="0.9"/>
<text x="21.50" y="135.40" font-size="5.2" fill="#333" textLength="16.20" lengthAdjust="spacingAndGlyphs">VPD450</text>
<text x="21.50" y="140.80" font-size="5.2" fill="#333" textLength="16.50" lengthAdjust="spacingAndGlyphs">labelling</text>
<text x="33.20" y="146.60" font-size="5.0" fill="#333" textLength="12.50" lengthAdjust="spacingAndGlyphs">Stim1:</text>
<line x1="33.20" y1="147.30" x2="45.70" y2="147.30" stroke="#333" stroke-width="0.35"/>
<text x="108.30" y="146.60" font-size="5.0" fill="#333" textLength="12.50" lengthAdjust="spacingAndGlyphs">Stim1:</text>
<line x1="108.30" y1="147.30" x2="120.80" y2="147.30" stroke="#333" stroke-width="0.35"/>
<text x="183.00" y="146.60" font-size="5.0" fill="#333" textLength="12.50" lengthAdjust="spacingAndGlyphs">Stim2:</text>
<line x1="183.00" y1="147.30" x2="195.50" y2="147.30" stroke="#333" stroke-width="0.35"/>
<text x="33.20" y="152.20" font-size="5.0" fill="#333" textLength="64.20" lengthAdjust="spacingAndGlyphs">IL-2/CD40L/CpG/anti IgM Fab'2</text>
<text x="108.30" y="152.00" font-size="5.0" fill="#333" textLength="14.80" lengthAdjust="spacingAndGlyphs">+ IL-10</text>
<text x="183.00" y="152.20" font-size="5.0" fill="#333" textLength="27.90" lengthAdjust="spacingAndGlyphs">IL-2/IL-4/IL-10</text>
<text x="51.20" y="158.60" font-size="5.0" fill="#333" textLength="32.30" lengthAdjust="spacingAndGlyphs">Activation phase</text>
<text x="124.20" y="158.60" font-size="5.0" fill="#333" textLength="37.00" lengthAdjust="spacingAndGlyphs">Proliferation phase</text>
<text x="183.50" y="158.60" font-size="5.0" fill="#333" textLength="41.50" lengthAdjust="spacingAndGlyphs">Differentiation phase</text>
<text x="259.00" y="158.60" font-size="5.0" fill="#333" textLength="35.30" lengthAdjust="spacingAndGlyphs">Maturation phase</text>
<text x="20.00" y="170.50" font-size="7.0" fill="#231f20" stroke="#231f20" stroke-width="0.245" textLength="13.80" lengthAdjust="spacingAndGlyphs">Day 0</text>
<text x="95.50" y="170.50" font-size="7.0" fill="#231f20" stroke="#231f20" stroke-width="0.245" textLength="14.50" lengthAdjust="spacingAndGlyphs">Day 2</text>
<text x="170.40" y="170.50" font-size="7.0" fill="#231f20" stroke="#231f20" stroke-width="0.245" textLength="14.60" lengthAdjust="spacingAndGlyphs">Day 4</text>
<text x="245.80" y="170.50" font-size="7.0" fill="#231f20" stroke="#231f20" stroke-width="0.245" textLength="13.90" lengthAdjust="spacingAndGlyphs">Day 6</text>
<text x="380.60" y="164.40" font-size="5.6" fill="#231f20" textLength="9.60" lengthAdjust="spacingAndGlyphs">PCs</text>
<text x="21.90" y="98.00" font-size="6.8" fill="#b3284e" stroke="#b3284e" stroke-width="0.238" textLength="16.90" lengthAdjust="spacingAndGlyphs">NBCs</text>
<line x1="30.80" y1="109.60" x2="39.40" y2="101.60" stroke="#888" stroke-width="0.5"/>
<line x1="30.80" y1="119.00" x2="39.40" y2="125.30" stroke="#888" stroke-width="0.5"/>
<circle cx="30.30" cy="114.40" r="5.60" fill="#e8f0e0" stroke="#9ab890" stroke-width="0.6"/>
<circle cx="30.10" cy="114.20" r="4.60" fill="#f3c5a2" stroke="#c89070" stroke-width="0.5"/>
<rect x="39.40" y="101.40" width="24.60" height="24.00" fill="#fff" stroke="#8a8a8a" stroke-width="0.6"/>
<line x1="59.00" y1="123.80" x2="62.20" y2="123.80" stroke="#777" stroke-width="0.6"/>
<ellipse cx="52.10" cy="112.70" rx="5.40" ry="5.90" fill="#8a14b4" stroke="none" stroke-width="1" transform="rotate(10 52.10 112.70)"/>
<ellipse cx="52.00" cy="108.80" rx="3.50" ry="2.20" fill="#b060d0" stroke="none" stroke-width="1" transform="rotate(0 52.00 108.80)" opacity="0.7"/>
<line x1="66.90" y1="113.50" x2="153.50" y2="113.50" stroke="#000" stroke-width="2.8"/>
<path d="M157.2,113.5 L151.8,110.4 L151.8,116.6 Z" fill="#000" stroke="none" stroke-width="1"/>
<text x="141.20" y="94.20" font-size="6.8" fill="#b3284e" stroke="#b3284e" stroke-width="0.238" textLength="38.40" lengthAdjust="spacingAndGlyphs">D4-activated</text>
<text x="151.20" y="101.50" font-size="6.8" fill="#b3284e" stroke="#b3284e" stroke-width="0.238" textLength="18.40" lengthAdjust="spacingAndGlyphs">B cells</text>
<line x1="144.50" y1="122.50" x2="166.00" y2="114.50" stroke="#888" stroke-width="0.5"/>
<line x1="169.40" y1="144.60" x2="175.50" y2="120.50" stroke="#888" stroke-width="0.5"/>
<rect x="144.50" y="122.50" width="24.90" height="23.50" fill="#fff" stroke="#8a8a8a" stroke-width="0.6"/>
<line x1="164.40" y1="144.40" x2="167.60" y2="144.40" stroke="#777" stroke-width="0.6"/>
<circle cx="155.20" cy="134.80" r="8.60" fill="#7a5ab8" stroke="none" stroke-width="1"/>
<circle cx="155.60" cy="134.60" r="7.80" fill="#94428e" stroke="none" stroke-width="1"/>
<circle cx="153.50" cy="133.00" r="4.00" fill="#a85a9a" stroke="none" stroke-width="1" opacity="0.6"/>
<circle cx="176.00" cy="107.60" r="6.40" fill="#e4f0dc" stroke="#8cc070" stroke-width="0.6"/>
<circle cx="176.00" cy="107.60" r="5.30" fill="#f3c5a2" stroke="#c89070" stroke-width="0.5"/>
<circle cx="180.60" cy="111.80" r="6.90" fill="#e4f0dc" stroke="#8cc070" stroke-width="0.6"/>
<circle cx="180.60" cy="111.80" r="5.80" fill="#f3c5a2" stroke="#c89070" stroke-width="0.5"/>
<circle cx="172.00" cy="114.60" r="7.30" fill="#e4f0dc" stroke="#8cc070" stroke-width="0.6"/>
<circle cx="172.00" cy="114.60" r="6.20" fill="#f3c5a2" stroke="#c89070" stroke-width="0.5"/>
<path d="M186.0,105.3 L209.2,95.0 L208.4,92.2 L215.2,93.4 L211.6,99.6 L210.6,97.0 L187.1,108.6 Z" fill="#000" stroke="none" stroke-width="1"/>
<text x="184.00" y="103.80" font-size="6.9" fill="#b3284e" stroke="#b3284e" stroke-width="0.242" textLength="19.80" lengthAdjust="spacingAndGlyphs" transform="rotate(-27 184.00 103.80)">VPD450</text>
<text x="202.00" y="92.00" font-size="3.8" fill="#b3284e" transform="rotate(-27 202.00 92.00)">hi</text>
<path d="M187.1,116.3 L206.6,124.6 L205.2,128.0 L212.0,126.3 L208.8,119.9 L207.8,121.9 L188.2,113.1 Z" fill="#f2f2f2" stroke="#8a8a8a" stroke-width="0.6"/>
<text x="182.40" y="126.40" font-size="6.9" fill="#222" stroke="#222" stroke-width="0.242" textLength="19.80" lengthAdjust="spacingAndGlyphs" transform="rotate(25 182.40 126.40)">VPD450</text>
<text x="200.60" y="132.00" font-size="3.8" fill="#222" transform="rotate(25 200.60 132.00)">lo</text>
<text x="194.20" y="37.80" font-size="6.0" fill="#333" textLength="19.50" lengthAdjust="spacingAndGlyphs">Casp3a</text>
<text x="213.90" y="34.50" font-size="3.4" fill="#444">+</text>
<line x1="192.40" y1="64.70" x2="208.00" y2="80.00" stroke="#888" stroke-width="0.5"/>
<line x1="217.30" y1="64.70" x2="218.00" y2="77.00" stroke="#888" stroke-width="0.5"/>
<rect x="192.30" y="39.30" width="24.80" height="24.80" fill="#fff" stroke="#8a8a8a" stroke-width="0.6"/>
<line x1="212.10" y1="62.50" x2="215.30" y2="62.50" stroke="#777" stroke-width="0.6"/>
<ellipse cx="198.20" cy="47.30" rx="4.60" ry="6.30" fill="#cca4ea" stroke="none" stroke-width="1" transform="rotate(10 198.20 47.30)"/>
<path d="M203.5,41.2 Q208.8,42 208.4,48.5 Q207.5,55 202,55.3 Q198.2,54.5 199.8,50.5 Q202,47.5 201.2,44.5 Q201.2,41.5 203.5,41.2 Z" fill="#ac12cc" stroke="none" stroke-width="1"/>
<circle cx="194.30" cy="56.00" r="0.70" fill="#c890e0" stroke="none" stroke-width="1"/>
<path d="M201.0,55.5 Q200.6,58 202.5,59.3" fill="none" stroke="#d050c8" stroke-width="0.9"/>
<ellipse cx="209.60" cy="59.70" rx="6.40" ry="4.10" fill="#a888e4" stroke="none" stroke-width="1" transform="rotate(-8 209.60 59.70)"/>
<ellipse cx="209.80" cy="62.40" rx="4.80" ry="1.70" fill="#9c10c4" stroke="none" stroke-width="1" transform="rotate(-4 209.80 62.40)"/>
<line x1="209.00" y1="61.30" x2="215.60" y2="61.30" stroke="#444" stroke-width="0.6"/>
<path d="M211.2,84.2 L216.8,77.2 L223.2,82.8 L217.6,90.8 Z" fill="#9ccc7c" stroke="#84b868" stroke-width="0.5"/>
<ellipse cx="210.80" cy="79.80" rx="1.30" ry="1.80" fill="#e09848" stroke="#b87430" stroke-width="0.35" transform="rotate(30 210.80 79.80)"/>
<ellipse cx="213.80" cy="77.00" rx="1.20" ry="1.70" fill="#e09848" stroke="#b87430" stroke-width="0.35" transform="rotate(-20 213.80 77.00)"/>
<ellipse cx="217.40" cy="74.80" rx="1.10" ry="1.50" fill="#e09848" stroke="#b87430" stroke-width="0.35" transform="rotate(10 217.40 74.80)"/>
<ellipse cx="220.20" cy="77.80" rx="1.30" ry="1.80" fill="#e09848" stroke="#b87430" stroke-width="0.35" transform="rotate(-30 220.20 77.80)"/>
<ellipse cx="222.80" cy="75.00" rx="1.20" ry="1.60" fill="#e09848" stroke="#b87430" stroke-width="0.35" transform="rotate(20 222.80 75.00)"/>
<ellipse cx="210.00" cy="85.80" rx="1.30" ry="1.70" fill="#e09848" stroke="#b87430" stroke-width="0.35" transform="rotate(60 210.00 85.80)"/>
<ellipse cx="212.60" cy="89.40" rx="1.30" ry="1.70" fill="#e09848" stroke="#b87430" stroke-width="0.35" transform="rotate(-40 212.60 89.40)"/>
<ellipse cx="222.60" cy="85.00" rx="1.20" ry="1.60" fill="#e09848" stroke="#b87430" stroke-width="0.35" transform="rotate(40 222.60 85.00)"/>
<ellipse cx="224.00" cy="80.80" rx="1.00" ry="1.40" fill="#e09848" stroke="#b87430" stroke-width="0.35" transform="rotate(0 224.00 80.80)"/>
<ellipse cx="215.20" cy="80.00" rx="1.10" ry="1.50" fill="#e09848" stroke="#b87430" stroke-width="0.35" transform="rotate(20 215.20 80.00)"/>
<ellipse cx="209.40" cy="82.60" rx="1.00" ry="1.40" fill="#e09848" stroke="#b87430" stroke-width="0.35" transform="rotate(80 209.40 82.60)"/>
<ellipse cx="219.80" cy="89.20" rx="1.00" ry="1.40" fill="#e09848" stroke="#b87430" stroke-width="0.35" transform="rotate(20 219.80 89.20)"/>
<text x="223.40" y="67.40" font-size="7.0" fill="#b3284e" stroke="#b3284e" stroke-width="0.245" textLength="8.00" lengthAdjust="spacingAndGlyphs">P2</text>
<ellipse cx="231.50" cy="81.50" rx="9.50" ry="8.50" fill="#f0f6ea" stroke="#b0d498" stroke-width="0.7" transform="rotate(-30 231.50 81.50)"/>
<circle cx="230.60" cy="81.20" r="6.30" fill="#c4d6f0" stroke="#90a4c4" stroke-width="0.5"/>
<ellipse cx="239.60" cy="74.40" rx="11.50" ry="7.20" fill="#eef6e8" stroke="#94c47a" stroke-width="1.0" transform="rotate(-30 239.60 74.40)"/>
<circle cx="241.50" cy="74.30" r="5.90" fill="#8898b8" stroke="none" stroke-width="1"/>
<circle cx="242.30" cy="73.30" r="5.60" fill="#bcd0ee" stroke="#8a9cc0" stroke-width="0.4"/>
<ellipse cx="228.80" cy="93.80" rx="10.00" ry="6.20" fill="#f2f7ee" stroke="#a8d090" stroke-width="0.8" transform="rotate(28 228.80 93.80)"/>
<circle cx="225.00" cy="91.90" r="5.20" fill="#f4f7f0" stroke="#c0d8b0" stroke-width="0.5"/>
<circle cx="232.90" cy="95.60" r="5.20" fill="#f4f7f0" stroke="#c0d8b0" stroke-width="0.5"/>
<circle cx="224.80" cy="91.90" r="4.40" fill="#f3c5a2" stroke="#c89070" stroke-width="0.5"/>
<circle cx="232.70" cy="95.60" r="4.40" fill="#f3c5a2" stroke="#c89070" stroke-width="0.5"/>
<text x="260.00" y="28.30" font-size="6.0" fill="#333" textLength="18.50" lengthAdjust="spacingAndGlyphs">Casp3a</text>
<text x="278.60" y="25.00" font-size="3.4" fill="#444">-</text>
<rect x="252.0" y="30.3" width="33.2" height="87.9" rx="6" ry="6" fill="none" stroke="#e4a8b0" stroke-width="0.8"/>
<text x="254.00" y="39.30" font-size="7.2" fill="#b3284e" stroke="#b3284e" stroke-width="0.252" textLength="29.00" lengthAdjust="spacingAndGlyphs">P2/CD23-</text>
<text x="252.60" y="113.60" font-size="7.2" fill="#b3284e" stroke="#b3284e" stroke-width="0.252" textLength="30.40" lengthAdjust="spacingAndGlyphs">P2/CD23+</text>
<line x1="234.60" y1="66.40" x2="257.60" y2="42.90" stroke="#8a8a8a" stroke-width="0.5"/>
<line x1="249.30" y1="77.30" x2="257.60" y2="67.00" stroke="#8a8a8a" stroke-width="0.5"/>
<line x1="237.20" y1="91.30" x2="257.60" y2="81.10" stroke="#8a8a8a" stroke-width="0.5"/>
<line x1="234.00" y1="104.10" x2="257.60" y2="105.20" stroke="#8a8a8a" stroke-width="0.5"/>
<rect x="257.60" y="42.90" width="24.40" height="24.10" fill="#fff" stroke="#8a8a8a" stroke-width="0.6"/>
<line x1="277.00" y1="65.40" x2="280.20" y2="65.40" stroke="#777" stroke-width="0.6"/>
<circle cx="269.20" cy="56.10" r="9.20" fill="#cc98cc" stroke="none" stroke-width="1"/>
<circle cx="268.00" cy="52.50" r="4.50" fill="#dcb0dc" stroke="none" stroke-width="1" opacity="0.7"/>
<path d="M260.4,57.5 Q262,53.2 268.5,53.6 Q274.5,53.2 277.8,55.0 A9.2,9.2 0 0 1 260.4,57.5 Z" fill="#a82058" stroke="none" stroke-width="1"/>
<rect x="257.60" y="81.10" width="24.40" height="24.10" fill="#fff" stroke="#8a8a8a" stroke-width="0.6"/>
<line x1="277.00" y1="103.60" x2="280.20" y2="103.60" stroke="#777" stroke-width="0.6"/>
<circle cx="264.70" cy="96.50" r="5.90" fill="#7a6ad0" stroke="none" stroke-width="1"/>
<circle cx="265.50" cy="96.20" r="5.10" fill="#9a3a88" stroke="none" stroke-width="1"/>
<circle cx="274.30" cy="90.10" r="5.90" fill="#7a6ad0" stroke="none" stroke-width="1"/>
<circle cx="273.80" cy="89.80" r="5.10" fill="#9a3a88" stroke="none" stroke-width="1"/>
<rect x="288.00" y="54.30" width="13.00" height="5.20" fill="#000" stroke="none" stroke-width="1"/>
<path d="M300.2,51.4 L305.9,56.9 L300.2,62.2 Z" fill="#000" stroke="none" stroke-width="1"/>
<text x="311.90" y="43.80" font-size="6.8" fill="#b3284e" stroke="#b3284e" stroke-width="0.238" textLength="6.90" lengthAdjust="spacingAndGlyphs">P1</text>
<line x1="313.00" y1="51.90" x2="334.50" y2="41.20" stroke="#888" stroke-width="0.5"/>
<line x1="313.00" y1="63.00" x2="334.50" y2="66.80" stroke="#888" stroke-width="0.5"/>
<ellipse cx="318.20" cy="56.60" rx="7.80" ry="6.40" fill="#eaf4e2" stroke="#a8cc90" stroke-width="0.7" transform="rotate(0 318.20 56.60)"/>
<ellipse cx="319.50" cy="56.40" rx="5.50" ry="5.00" fill="#f2f8ee" stroke="#c0dcb0" stroke-width="0.5" transform="rotate(0 319.50 56.40)"/>
<circle cx="312.80" cy="57.40" r="5.30" fill="#bcd2f0" stroke="#7890b0" stroke-width="0.5"/>
<rect x="334.50" y="41.00" width="24.00" height="26.00" fill="#fff" stroke="#8a8a8a" stroke-width="0.6"/>
<line x1="353.50" y1="65.40" x2="356.70" y2="65.40" stroke="#777" stroke-width="0.6"/>
<circle cx="346.50" cy="54.60" r="9.80" fill="#a07ad4" stroke="none" stroke-width="1"/>
<path d="M337.0,57.0 Q343,51.5 356,54 A9.8,9.8 0 0 1 337.0,57.0 Z" fill="#a8306e" stroke="none" stroke-width="1"/>
<text x="217.30" y="122.30" font-size="6.8" fill="#b3284e" stroke="#b3284e" stroke-width="0.238" textLength="8.00" lengthAdjust="spacingAndGlyphs">P3</text>
<line x1="224.00" y1="125.00" x2="238.00" y2="123.40" stroke="#888" stroke-width="0.5"/>
<line x1="224.00" y1="138.00" x2="238.00" y2="147.00" stroke="#888" stroke-width="0.5"/>
<circle cx="221.50" cy="131.50" r="7.80" fill="#e4f0dc" stroke="#90c078" stroke-width="0.7"/>
<circle cx="221.30" cy="131.30" r="6.60" fill="#f3c5a2" stroke="#c89070" stroke-width="0.5"/>
<rect x="238.00" y="123.40" width="24.00" height="23.60" fill="#fff" stroke="#8a8a8a" stroke-width="0.6"/>
<line x1="257.00" y1="145.40" x2="260.20" y2="145.40" stroke="#777" stroke-width="0.6"/>
<circle cx="249.80" cy="134.60" r="6.00" fill="#6a50c0" stroke="none" stroke-width="1"/>
<circle cx="249.20" cy="134.20" r="5.20" fill="#742070" stroke="none" stroke-width="1"/>
<rect x="0.00" y="0.00" width="520.00" height="1.10" fill="#000" stroke="none" stroke-width="1"/>
<rect x="0.00" y="0.00" width="1.00" height="703.00" fill="#000" stroke="none" stroke-width="1"/>
<rect x="518.80" y="0.00" width="1.20" height="703.00" fill="#000" stroke="none" stroke-width="1"/>
<rect x="0.00" y="701.50" width="520.00" height="1.50" fill="#000" stroke="none" stroke-width="1"/>
</svg></body></html>
